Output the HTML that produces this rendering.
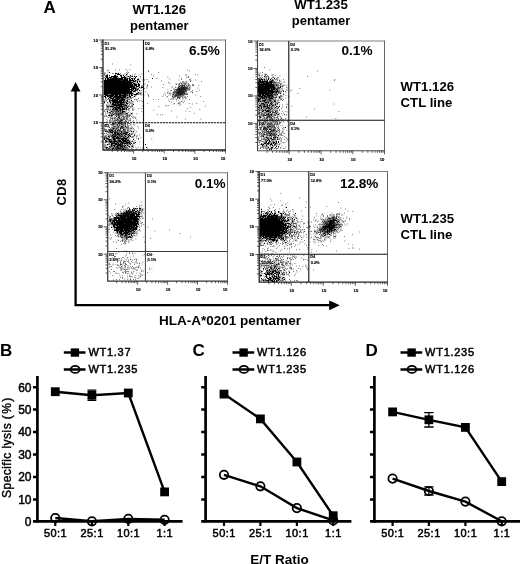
<!DOCTYPE html>
<html><head><meta charset="utf-8"><title>Figure</title>
<style>html,body{margin:0;padding:0;background:#fff;}body{width:520px;height:564px;overflow:hidden;font-family:"Liberation Sans", sans-serif;}svg{display:block;font-family:"Liberation Sans", sans-serif;will-change:transform;filter:grayscale(1);}text{fill:#000;}</style>
</head><body>
<svg width="520" height="564" viewBox="0 0 520 564">
<rect width="520" height="564" fill="#fff"/>
<text x="43.4" y="12.5" font-size="17" font-weight="bold" text-anchor="start" >A</text>
<text x="159.3" y="13.5" font-size="13.2" font-weight="bold" text-anchor="middle" >WT1.126</text>
<text x="159.3" y="29.5" font-size="13" font-weight="bold" text-anchor="middle" >pentamer</text>
<text x="321" y="8.6" font-size="13.2" font-weight="bold" text-anchor="middle" >WT1.235</text>
<text x="321" y="24.9" font-size="13" font-weight="bold" text-anchor="middle" >pentamer</text>
<text x="400.6" y="90.8" font-size="13.2" font-weight="bold" text-anchor="start" >WT1.126</text>
<text x="400.6" y="107" font-size="13.2" font-weight="bold" text-anchor="start" >CTL line</text>
<text x="400.6" y="223" font-size="13.2" font-weight="bold" text-anchor="start" >WT1.235</text>
<text x="400.6" y="239.2" font-size="13.2" font-weight="bold" text-anchor="start" >CTL line</text>
<text x="0" y="0" font-size="13" font-weight="bold" text-anchor="middle" transform="translate(66.3,192) rotate(-90)" letter-spacing="0.3">CD8</text>
<text x="230" y="324.6" font-size="13.5" font-weight="bold" text-anchor="middle" >HLA-A*0201 pentamer</text>
<path d="M75.6 90V305.2H331" stroke="#000" stroke-width="2.3" fill="none"/>
<path d="M75.6 82L80.5 91.6H70.7Z" fill="#000"/>
<path d="M339.8 305.3L329.2 300.4V310.2Z" fill="#000"/>
<path d="M103 40H225.5" stroke="#808080" stroke-width="1.1" fill="none"/>
<path d="M225.5 39.5V150" stroke="#666" stroke-width="1" fill="none"/>
<path d="M103 39.5V150H226.0" stroke="#222" stroke-width="1.3" fill="none"/>
<path d="M143.5 40V150" stroke="#111" stroke-width="1.1" fill="none"/>
<path d="M103 122.8H225.5" stroke="#111" stroke-width="1.1" fill="none" stroke-dasharray="2.3 0.7"/>
<path d="M100.8 141.7H103M100.8 136.9H103M100.8 133.4H103M100.8 130.8H103M100.8 128.6H103M100.8 126.8H103M100.8 125.2H103M100.8 123.8H103M100.8 114.2H103M100.8 109.4H103M100.8 105.9H103M100.8 103.3H103M100.8 101.1H103M100.8 99.3H103M100.8 97.7H103M100.8 96.3H103M100.8 86.7H103M100.8 81.9H103M100.8 78.4H103M100.8 75.8H103M100.8 73.6H103M100.8 71.8H103M100.8 70.2H103M100.8 68.8H103M100.8 59.2H103M100.8 54.4H103M100.8 50.9H103M100.8 48.3H103M100.8 46.1H103M100.8 44.3H103M100.8 42.7H103M100.8 41.3H103M99.0 122.5H103M99.0 95.0H103M99.0 67.5H103M99.0 40.0H103M112.2 150V152.0M117.6 150V152.0M121.4 150V152.0M124.4 150V152.0M126.8 150V152.0M128.9 150V152.0M130.7 150V152.0M132.2 150V152.0M133.6 150V153.5M142.8 150V152.0M148.2 150V152.0M152.1 150V152.0M155.0 150V152.0M157.5 150V152.0M159.5 150V152.0M161.3 150V152.0M162.8 150V152.0M164.2 150V153.5M173.5 150V152.0M178.9 150V152.0M182.7 150V152.0M185.7 150V152.0M188.1 150V152.0M190.1 150V152.0M191.9 150V152.0M193.5 150V152.0M194.9 150V153.5M204.1 150V152.0M209.5 150V152.0M213.3 150V152.0M216.3 150V152.0M218.7 150V152.0M220.8 150V152.0M222.5 150V152.0M224.1 150V152.0M225.5 150V153.5" stroke="#333" stroke-width="0.8" fill="none"/>
<text x="98" y="124.0" font-size="4.2" font-weight="bold" text-anchor="end" stroke="#000" stroke-width="0.15">10</text>
<text x="98" y="96.5" font-size="4.2" font-weight="bold" text-anchor="end" stroke="#000" stroke-width="0.15">10</text>
<text x="98" y="69.0" font-size="4.2" font-weight="bold" text-anchor="end" stroke="#000" stroke-width="0.15">10</text>
<text x="98" y="41.5" font-size="4.2" font-weight="bold" text-anchor="end" stroke="#000" stroke-width="0.15">10</text>
<text x="134.1" y="160" font-size="4.2" font-weight="bold" text-anchor="middle" stroke="#000" stroke-width="0.15">10</text>
<text x="164.8" y="160" font-size="4.2" font-weight="bold" text-anchor="middle" stroke="#000" stroke-width="0.15">10</text>
<text x="195.4" y="160" font-size="4.2" font-weight="bold" text-anchor="middle" stroke="#000" stroke-width="0.15">10</text>
<text x="223.0" y="160" font-size="4.2" font-weight="bold" text-anchor="middle" stroke="#000" stroke-width="0.15">10</text>
<path d="M107 88h1M125 84h1M106 86h1M121 91h1M107 81h1M123 88h1M129 91h1M116 85h1M138 85h1M111 81h1M118 87h1M114 86h1M119 89h1M126 87h1M105 89h1M105 86h1M111 87h1M143 86h1M124 80h1M115 89h1M116 88h1M118 82h1M122 83h1M132 84h1M122 86h1M125 86h1M127 89h1M118 83h1M130 85h1M121 89h1M119 87h1M118 84h1M109 85h1M122 93h1M125 91h1M123 89h1M118 90h1M131 85h1M111 95h1M119 91h1M124 81h1M136 94h1M126 89h1M117 92h1M111 90h1M126 85h1M104 82h1M129 82h1M117 89h1M116 76h1M123 96h1M125 82h1M114 87h1M137 89h1M118 93h1M116 94h1M112 84h1M123 93h1M122 88h1M122 85h1M123 87h1M120 90h1M113 85h1M106 93h1M129 86h1M113 81h1M134 87h1M111 76h1M128 87h1M104 87h1M104 102h1M116 77h1M116 79h1M122 77h1M110 92h1M130 81h1M105 90h1M124 82h1M111 83h1M107 83h1M133 86h1M116 82h1M116 81h1M129 90h1M114 81h1M117 87h1M113 93h1M118 89h1M127 83h1M111 92h1M120 91h1M123 77h1M123 83h1M111 84h1M123 90h1M125 79h1M112 76h1M116 89h1M110 83h1M111 94h1M126 86h1M119 85h1M112 94h1M121 87h1M115 87h1M120 83h1M109 82h1M124 76h1M115 84h1M112 87h1M116 84h1M116 90h1M106 91h1M120 85h1M129 83h1M105 79h1M110 90h1M127 81h1M125 85h1M114 84h1M114 78h1M109 81h1M121 95h1M139 85h1M105 85h1M109 95h1M124 89h1M115 86h1M118 85h1M119 84h1M110 93h1M120 88h1M104 86h1M120 86h1M119 92h1M114 93h1M111 82h1M123 82h1M114 90h1M127 78h1M127 85h1M112 85h1M108 85h1M116 86h1M105 91h1M108 84h1M134 84h1M116 91h1M124 78h1M110 87h1M121 92h1M121 85h1M117 85h1M114 83h1M110 91h1M127 91h1M124 90h1M111 89h1M112 86h1M120 92h1M121 84h1M116 78h1M123 84h1M110 95h1M123 102h1M117 88h1M121 82h1M107 90h1M122 87h1M110 77h1M121 86h1M118 88h1M130 75h1M135 90h1M113 91h1M109 86h1M112 78h1M128 81h1M113 78h1M109 83h1M116 96h1M117 79h1M120 82h1M112 79h1M112 90h1M124 87h1M110 82h1M119 97h1M113 83h1M128 86h1M113 79h1M119 86h1M107 82h1M117 91h1M114 88h1M117 96h1M106 82h1M135 89h1M122 90h1M122 91h1M115 85h1M106 85h1M113 89h1M124 92h1M136 86h1M133 91h1M109 88h1M123 86h1M115 81h1M132 85h1M114 85h1M113 86h1M106 89h1M110 84h1M119 81h1M137 86h1M116 83h1M130 92h1M119 80h1M117 83h1M117 99h1M131 82h1M120 87h1M127 90h1M106 84h1M119 90h1M117 78h1M121 81h1M112 88h1M106 75h1M112 91h1M117 76h1M110 88h1M130 91h1M109 84h1M120 93h1M115 80h1M109 92h1M134 81h1M124 84h1M119 83h1M133 83h1M117 90h1M112 89h1M120 81h1M122 81h1M122 84h1M127 87h1M107 85h1M128 85h1M125 92h1M113 84h1M120 94h1M129 85h1M107 87h1M126 80h1M125 78h1M113 87h1M116 73h1M111 98h1M126 90h1M125 88h1M106 81h1M116 95h1M105 83h1M113 100h1M107 92h1M114 89h1M106 76h1M116 92h1M132 86h1M125 80h1M108 87h1M121 83h1M119 82h1M120 84h1M125 93h1M105 88h1M109 91h1M123 81h1M125 87h1M142 87h1M115 90h1M108 90h1M127 84h1M119 88h1M111 80h1M119 78h1M116 87h1M124 93h1M125 83h1M127 86h1M106 83h1M108 95h1M132 95h1M128 93h1M111 85h1M138 79h1M128 92h1M113 95h1M118 92h1M136 85h1M109 90h1M117 86h1M111 86h1M110 85h1M109 87h1M108 82h1M118 79h1M104 88h1M110 89h1M114 77h1M116 80h1M129 88h1M135 80h1M109 79h1M104 90h1M119 93h1M129 81h1M134 88h1M114 91h1M137 81h1M112 96h1M136 76h1M123 95h1M111 77h1M110 80h1M128 83h1M115 92h1M136 93h1M108 88h1M117 94h1M124 95h1M104 89h1M120 79h1M118 91h1M120 89h1M143 89h1M124 83h1M105 92h1M114 82h1M104 93h1M124 85h1M118 86h1M131 91h1M111 93h1M115 83h1M115 93h1M124 86h1M108 78h1M107 77h1M124 88h1M123 92h1M123 91h1M126 88h1M116 93h1M130 84h1M115 94h1M105 87h1M107 94h1M112 93h1M113 80h1M117 81h1M118 81h1M125 94h1M115 82h1M114 80h1M124 79h1M122 89h1M104 81h1M112 83h1M139 81h1M122 78h1M115 91h1M123 85h1M121 88h1M122 95h1M114 97h1M134 76h1M123 80h1M109 80h1M105 84h1M135 94h1M105 80h1M107 86h1M113 82h1M113 88h1M108 83h1M115 73h1M134 96h1M131 83h1M126 81h1M118 94h1M104 83h1M115 88h1M127 80h1M104 80h1M138 92h1M113 90h1M124 91h1M117 80h1M111 88h1M131 92h1M108 91h1M133 80h1M112 81h1M139 84h1M109 72h1M122 99h1M117 84h1M108 81h1M115 79h1M133 87h1M128 91h1M110 86h1M131 78h1M110 97h1M107 80h1M131 93h1M108 79h1M131 89h1M137 93h1M120 80h1M130 89h1M128 88h1M107 75h1M117 82h1M112 82h1M110 96h1M129 93h1M109 77h1M121 90h1M131 90h1M107 89h1M132 80h1M129 84h1M107 78h1M108 92h1M126 84h1M132 93h1M137 82h1M134 83h1M129 78h1M118 78h1M123 75h1M131 87h1M119 95h1M135 84h1M107 95h1M127 82h1M106 88h1M122 82h1M124 96h1M106 87h1M108 89h1M111 91h1M125 89h1M113 94h1M135 85h1M111 79h1M114 79h1M118 96h1M109 93h1M106 80h1M128 89h1M118 74h1M121 78h1M105 82h1M128 84h1M108 86h1M133 88h1M105 78h1M118 80h1M108 98h1M120 95h1M105 93h1M114 76h1M110 81h1M119 94h1M105 95h1M127 88h1M117 93h1M126 82h1M130 79h1M121 79h1M107 84h1M129 95h1M129 80h1M105 96h1M129 87h1M113 92h1M121 77h1M112 80h1M135 77h1M130 82h1M107 96h1M122 80h1M131 88h1M105 81h1M134 94h1M106 77h1M112 92h1M132 76h1M121 75h1M107 76h1M114 94h1M131 86h1M126 92h1M128 82h1M111 96h1M126 91h1M132 78h1M110 79h1M108 80h1M104 96h1M105 94h1M127 92h1M141 87h1M119 96h1M119 79h1M124 77h1M115 77h1M128 90h1M131 80h1M109 89h1M138 84h1M130 96h1M136 84h1M115 78h1M129 89h1M106 90h1M110 78h1M126 74h1M125 90h1M105 97h1M112 95h1M122 79h1M131 95h1M137 79h1M117 95h1M132 90h1M104 85h1M138 86h1M117 74h1M129 96h1M133 81h1M133 89h1M113 76h1M127 79h1M104 94h1M130 80h1M106 95h1M128 76h1M107 79h1M132 79h1M114 92h1M125 96h1M139 87h1M108 96h1M104 84h1M119 98h1M113 97h1M130 87h1M134 78h1M114 75h1M121 93h1M108 93h1M118 97h1M104 92h1M106 92h1M132 88h1M134 91h1M152 78h1M122 92h1M120 75h1M117 97h1M134 85h1M115 96h1M130 83h1M129 92h1M135 88h1M106 94h1M132 82h1M109 75h1M125 77h1M107 93h1M124 94h1M130 86h1M118 99h1M122 97h1M121 76h1M118 73h1M131 94h1M115 76h1M134 79h1M126 94h1M120 78h1M107 91h1M129 94h1M121 97h1M119 74h1M126 83h1M110 98h1M129 79h1M115 75h1M138 83h1M126 93h1M139 90h1M104 91h1M126 79h1M130 93h1M131 84h1M113 77h1M121 100h1M120 102h1M124 99h1M118 98h1M113 108h1M121 104h1M119 105h1M118 103h1M114 100h1M127 93h1M110 106h1M114 105h1M118 111h1M118 107h1M117 102h1M118 102h1M124 111h1M118 101h1M119 108h1M121 102h1M111 115h1M125 105h1M120 109h1M126 103h1M119 101h1M127 100h1M116 108h1M122 104h1M118 104h1M121 103h1M120 103h1M120 97h1M126 108h1M120 105h1M126 105h1M112 104h1M109 101h1M111 100h1M120 113h1M113 114h1M117 105h1M123 101h1M123 99h1M118 114h1M120 101h1M123 111h1M113 103h1M117 109h1M109 100h1M115 97h1M119 107h1M120 96h1M116 99h1M127 95h1M116 105h1M116 106h1M117 100h1M120 106h1M121 105h1M113 104h1M114 96h1M114 104h1M112 101h1M121 107h1M110 102h1M116 116h1M115 102h1M116 102h1M133 104h1M122 102h1M107 111h1M112 103h1M127 107h1M116 109h1M116 97h1M122 100h1M126 109h1M112 109h1M114 102h1M111 106h1M124 108h1M112 99h1M117 98h1M123 97h1M117 104h1M119 102h1M120 104h1M114 99h1M116 98h1M115 104h1M131 113h1M117 101h1M124 97h1M122 98h1M115 108h1M116 101h1M122 107h1M117 107h1M125 95h1M112 98h1M126 102h1M115 103h1M121 98h1M123 108h1M115 101h1M119 104h1M114 101h1M119 106h1M112 106h1M118 108h1M120 100h1M113 98h1M123 109h1M113 106h1M122 106h1M116 100h1M112 100h1M124 100h1M115 95h1M127 103h1M107 106h1M121 101h1M127 97h1M122 112h1M122 108h1M121 99h1M131 100h1M114 107h1M122 109h1M117 103h1M123 104h1M109 115h1M109 97h1M115 105h1M122 111h1M115 100h1M115 99h1M124 109h1M126 113h1M115 109h1M113 101h1M113 102h1M111 111h1M119 100h1M118 105h1M121 106h1M120 110h1M120 108h1M116 138h1M122 149h1M128 140h1M129 133h1M119 148h1M116 143h1M125 138h1M125 126h1M117 142h1M113 134h1M116 141h1M118 140h1M104 138h1M122 142h1M124 146h1M133 139h1M145 144h1M118 133h1M118 147h1M131 143h1M113 145h1M111 132h1M130 136h1M129 135h1M120 133h1M125 149h1M118 138h1M110 131h1M127 137h1M111 145h1M110 142h1M106 141h1M118 144h1M111 141h1M146 147h1M105 131h1M126 138h1M111 144h1M128 134h1M112 135h1M131 131h1M115 132h1M120 144h1M126 134h1M112 148h1M120 141h1M104 139h1M120 143h1M117 146h1M126 139h1M123 148h1M133 131h1M124 149h1M125 134h1M120 140h1M119 140h1M109 139h1M120 145h1M126 141h1M121 136h1M109 146h1M121 141h1M120 128h1M117 133h1M123 140h1M111 143h1M127 140h1M107 144h1M127 143h1M134 135h1M111 142h1M118 145h1M122 140h1M113 136h1M123 142h1M114 146h1M114 145h1M129 141h1M128 142h1M118 148h1M121 132h1M117 137h1M125 136h1M117 145h1M114 139h1M125 143h1M122 139h1M110 141h1M127 132h1M118 143h1M123 149h1M113 137h1M124 135h1M113 148h1M126 133h1M119 145h1M127 145h1M112 137h1M125 141h1M113 143h1M121 134h1M114 141h1M124 141h1M113 128h1M112 132h1M117 134h1M120 148h1M120 146h1M115 133h1M108 136h1M126 132h1M117 147h1M106 147h1M123 139h1M105 140h1M114 133h1M124 133h1M115 136h1M113 138h1M117 130h1M112 143h1M118 134h1M121 126h1M125 145h1M115 143h1M121 146h1M115 122h1M119 141h1M123 141h1M116 137h1M115 144h1M125 140h1M113 139h1M110 139h1M125 139h1M123 129h1M135 142h1M109 140h1M124 143h1M115 135h1M109 141h1M115 140h1M122 145h1M114 142h1M124 140h1M127 142h1M119 138h1M114 140h1M114 136h1M119 134h1M123 138h1M112 149h1M129 143h1M121 142h1M129 146h1M106 138h1M116 144h1M124 138h1M118 137h1M116 149h1M107 147h1M121 122h1M129 142h1M117 136h1M130 144h1M114 132h1M122 138h1M132 146h1M119 144h1M122 147h1M114 138h1M121 139h1M126 142h1M122 143h1M128 136h1M107 138h1" stroke="#000" stroke-width="1" fill="none" shape-rendering="crispEdges" transform="translate(0,0.5)"/>
<path d="M125 82h.7M136 89h.7M124.5 91h.7M125 85.5h.7M123 83h.7M122 81.5h.7M104.5 84h.7M117.5 83.5h.7M116 84h.7M119.5 98.5h.7M125 93h.7M129.5 93h.7M123.5 93h.7M130.5 86.5h.7M116.5 87.5h.7M118.5 90.5h.7M114.5 85h.7M121.5 90.5h.7M118 78.5h.7M116.5 93h.7M117 95.5h.7M114 86h.7M127.5 95h.7M116 96.5h.7M121 90h.7M138 93h.7M117 87h.7M110 94.5h.7M123 99h.7M132 87.5h.7M113 85.5h.7M132 87h.7M131 95h.7M134.5 89h.7M126.5 80h.7M123 88h.7M129 77h.7M116 102h.7M121 84.5h.7M120.5 87h.7M116 91.5h.7M122 94.5h.7M145 92h.7M123 96.5h.7M105 99h.7M107.5 85h.7M120 79.5h.7M113 88.5h.7M123.5 79h.7M104 92h.7M106.5 90h.7M124 92.5h.7M113.5 84h.7M151 87h.7M109 79.5h.7M116.5 98h.7M126.5 82h.7M105 84h.7M119 89.5h.7M124.5 94.5h.7M105.5 78h.7M118.5 91.5h.7M113.5 89.5h.7M118.5 95h.7M117 85h.7M124.5 94h.7M112.5 87h.7M112 80.5h.7M144.5 84h.7M116 85.5h.7M110.5 87h.7M118.5 90h.7M113.5 79h.7M118 92h.7M132.5 87h.7M116.5 83h.7M134.5 84h.7M114 87.5h.7M117 88h.7M123.5 98h.7M124.5 90h.7M104 101.5h.7M124.5 93h.7M116 87h.7M115.5 86.5h.7M115 92.5h.7M130.5 87.5h.7M116 93h.7M117 91h.7M112.5 96.5h.7M114.5 91h.7M137 90h.7M116.5 92.5h.7M135 74h.7M115 87h.7M128 78.5h.7M127.5 88h.7M125 81.5h.7M132.5 104h.7M120.5 91.5h.7M108.5 70h.7M118.5 86.5h.7M126 88h.7M105.5 74h.7M130.5 93.5h.7M118 86h.7M126.5 84.5h.7M106 95.5h.7M105 85h.7M132.5 90.5h.7M130.5 97h.7M121.5 78.5h.7M104 74h.7M127 78.5h.7M118 88.5h.7M123 87.5h.7M132.5 90h.7M130.5 87h.7M119.5 88.5h.7M124.5 92.5h.7M114 91.5h.7M148 71h.7M126 87h.7M117 84h.7M107 89h.7M111.5 97.5h.7M122.5 98.5h.7M120.5 78.5h.7M123.5 89h.7M128 72.5h.7M120 97h.7M120 75h.7M123.5 90.5h.7M134 91h.7M109 95h.7M126.5 95h.7M117.5 94h.7M104.5 79h.7M125.5 98h.7M125 88.5h.7M117.5 85h.7M131 76.5h.7M122 97h.7M104.5 73.5h.7M109 87.5h.7M125 84h.7M127.5 84.5h.7M104 94h.7M119.5 83.5h.7M108 92h.7M109.5 79h.7M111 91.5h.7M125.5 95.5h.7M110 97h.7M136 90.5h.7M130.5 98h.7M123.5 82h.7M125 90h.7M126.5 104.5h.7M120 86h.7M132.5 88h.7M106 89.5h.7M130 77.5h.7M137.5 100h.7M107.5 89.5h.7M123.5 91.5h.7M122.5 92h.7M111 86h.7M140 93.5h.7M108.5 90h.7M139.5 101h.7M137.5 88.5h.7M127.5 89h.7M107.5 88h.7M115 79.5h.7M118 85.5h.7M108 88.5h.7M123.5 89.5h.7M122.5 88.5h.7M104.5 74.5h.7M113 85h.7M109.5 83h.7M115 98.5h.7M118.5 93h.7M126.5 89h.7M129.5 84h.7M117.5 80.5h.7M118 93.5h.7M110 87h.7M115 89.5h.7M106 88.5h.7M137 80.5h.7M128 83.5h.7M113.5 99h.7M126.5 91.5h.7M137 92h.7M118.5 73h.7M127 98.5h.7M114.5 80h.7M104.5 91.5h.7M105.5 90h.7M128 85h.7M108 86h.7M136 80.5h.7M111 91h.7M112.5 96h.7M111.5 80h.7M105.5 86.5h.7M131 88h.7M113 78h.7M122 83.5h.7M144 80h.7M105 79.5h.7M121 91.5h.7M121.5 95h.7M126.5 84h.7M137 82.5h.7M121.5 88h.7M131.5 87.5h.7M123 75h.7M118.5 88.5h.7M135.5 76.5h.7M106.5 93h.7M144 88.5h.7M115.5 82h.7M127.5 81.5h.7M112 86.5h.7M123.5 91h.7M115 94h.7M127 85.5h.7M121.5 98h.7M126 85.5h.7M115.5 93.5h.7M123.5 88.5h.7M111.5 86h.7M121 99h.7M105.5 88.5h.7M143.5 79.5h.7M132 94h.7M124 88h.7M119 91h.7M126 77.5h.7M105.5 87.5h.7M119 79h.7M129.5 91h.7M122.5 94.5h.7M113 95h.7M114 83h.7M109.5 92h.7M122 86.5h.7M129.5 82.5h.7M128 84.5h.7M117.5 86.5h.7M121.5 96.5h.7M113 94h.7M132.5 86.5h.7M112.5 80.5h.7M118.5 106h.7M117.5 88.5h.7M109.5 90.5h.7M122 94h.7M141.5 94h.7M105.5 85h.7M104.5 95h.7M120.5 78h.7M127.5 96h.7M138 86h.7M134.5 87.5h.7M131 81h.7M112 81h.7M117.5 79.5h.7M121 84h.7M104.5 89h.7M131.5 91h.7M123 86h.7M117.5 77.5h.7M140 77h.7M110 81h.7M111.5 84h.7M123 80h.7M107.5 90.5h.7M114 76h.7M125.5 78.5h.7M119 87.5h.7M122 89.5h.7M115 87.5h.7M104.5 89.5h.7M111.5 93h.7M118.5 91h.7M124 91.5h.7M115 70h.7M120.5 92h.7M132.5 86h.7M130.5 65h.7M114.5 83.5h.7M141 86h.7M146.5 88h.7M114.5 84h.7M110 88.5h.7M120.5 81h.7M138 94.5h.7M116 91h.7M117.5 84.5h.7M110 83.5h.7M138 98.5h.7M131 82h.7M127 78h.7M123.5 92.5h.7M128 97.5h.7M132 85h.7M104.5 72.5h.7M108 86.5h.7M113 105.5h.7M124 90.5h.7M120.5 86.5h.7M123 95h.7M120 93.5h.7M126.5 90h.7M132 93.5h.7M121.5 95.5h.7M132.5 89h.7M106.5 99h.7M122 92.5h.7M121.5 86h.7M107 88h.7M117.5 91h.7M113 91h.7M116.5 81h.7M108 82h.7M113 73.5h.7M104 84h.7M115 86.5h.7M125.5 81h.7M136 90h.7M108.5 91h.7M138 78.5h.7M120.5 80.5h.7M128.5 83.5h.7M115 80h.7M112 86h.7M117.5 92h.7M121.5 87.5h.7M125.5 79h.7M117 90.5h.7M111 78.5h.7M108.5 79.5h.7M117 86.5h.7M125 75.5h.7M124 93h.7M147.5 85.5h.7M127 76.5h.7M131 98h.7M135.5 81.5h.7M138.5 80.5h.7M124.5 89.5h.7M108.5 96.5h.7M124 82h.7M105 92.5h.7M134 87.5h.7M114.5 91.5h.7M124.5 95.5h.7M117.5 83h.7M118.5 79h.7M107.5 84h.7M117.5 88h.7M140.5 76.5h.7M115.5 84.5h.7M126 82.5h.7M143.5 84h.7M122 88.5h.7M134 90.5h.7M104.5 88h.7M112.5 95h.7M118 83h.7M143.5 86h.7M125 87.5h.7M107.5 83.5h.7M120.5 86h.7M116 86h.7M119 85h.7M104 88.5h.7M137.5 86.5h.7M121 82.5h.7M110.5 81.5h.7M105 88h.7M109.5 89.5h.7M120 78.5h.7M142.5 85.5h.7M120.5 84.5h.7M106.5 87.5h.7M124.5 74h.7M138.5 75h.7M111.5 95h.7M108.5 80h.7M127 84h.7M107.5 87.5h.7M131.5 87h.7M143 79.5h.7M137 89.5h.7M128.5 92.5h.7M105 83h.7M111.5 94h.7M114 89.5h.7M118 102.5h.7M126 76h.7M119.5 81h.7M110 86h.7M141 93h.7M128 90.5h.7M124.5 83h.7M121 87h.7M125.5 93h.7M106.5 79h.7M134.5 80.5h.7M132 105.5h.7M130.5 89.5h.7M128.5 106.5h.7M128.5 86.5h.7M136 87.5h.7M133 89.5h.7M121.5 92.5h.7M118.5 88h.7M122.5 89.5h.7M115.5 89h.7M126.5 85.5h.7M116.5 89h.7M121.5 83.5h.7M139 80h.7M105.5 89h.7M139.5 93.5h.7M119 83h.7M122.5 84.5h.7M110.5 88h.7M111.5 85.5h.7M122 81h.7M119 91.5h.7M104.5 93h.7M112.5 84.5h.7M133 84.5h.7M122.5 82h.7M104.5 83h.7M116.5 98.5h.7M114 94.5h.7M125.5 92.5h.7M121 86.5h.7M124 95h.7M110 79.5h.7M112.5 78h.7M114 85.5h.7M131.5 88h.7M132 89.5h.7M134.5 87h.7M112.5 100.5h.7M107 74.5h.7M127 80.5h.7M106.5 89h.7M110.5 98.5h.7M141 101h.7M113 93h.7M112 84h.7M116.5 86h.7M122.5 85.5h.7M133.5 78.5h.7M123 77.5h.7M124.5 95h.7M135 91.5h.7M120.5 83.5h.7M114.5 88.5h.7M111 79h.7M124 85h.7M126 84.5h.7M123.5 88h.7M136 93.5h.7M116.5 90.5h.7M128 87.5h.7M107 89.5h.7M115 86h.7M141 87.5h.7M130 82.5h.7M118.5 83h.7M122 95h.7M147 86h.7M120.5 96.5h.7M116.5 93.5h.7M112 108h.7M110.5 92h.7M136.5 94h.7M119.5 92h.7M128.5 89h.7M128.5 86h.7M110.5 96.5h.7M121 98h.7M139 85h.7M136.5 90.5h.7M123.5 76.5h.7M114.5 86h.7M113 80h.7M123 93h.7M141 86.5h.7M118 94h.7M107.5 86.5h.7M128.5 85h.7M135 78.5h.7M106 86h.7M120.5 87.5h.7M115.5 93h.7M131.5 98h.7M106 84h.7M106 86.5h.7M110 89.5h.7M134 86h.7M114.5 87.5h.7M117 86h.7M112 88.5h.7M113 90.5h.7M121 94h.7M125 91h.7M118 84.5h.7M112 91.5h.7M125.5 87.5h.7M130.5 84.5h.7M106 91h.7M124 89.5h.7M128.5 80.5h.7M110 99h.7M116 94h.7M123.5 75.5h.7M113.5 105h.7M121 92.5h.7M105.5 87h.7M107.5 85.5h.7M120.5 83h.7M125 84.5h.7M117.5 95h.7M126 86h.7M129.5 76h.7M109.5 88h.7M129 93h.7M125 82.5h.7M118.5 99.5h.7M126.5 94.5h.7M120.5 80h.7M115 95.5h.7M111 95.5h.7M124.5 76.5h.7M120 84.5h.7M117 97h.7M104.5 77.5h.7M115.5 88.5h.7M141.5 90.5h.7M128 90h.7M121.5 78h.7M124.5 103.5h.7M105.5 92h.7M122.5 87h.7M133 86h.7M113 86h.7M122 91.5h.7M113 81h.7M127 84.5h.7M142.5 87h.7M122.5 93h.7M107.5 88.5h.7M105.5 82.5h.7M128 95h.7M124 81.5h.7M118 92.5h.7M115 85.5h.7M113.5 86.5h.7M116.5 89.5h.7M123 83.5h.7M118 91h.7M107 93.5h.7M110 85.5h.7M120 83.5h.7M139 87h.7M119.5 88h.7M107 92h.7M136.5 88.5h.7M115 99.5h.7M121 91h.7M129.5 69.5h.7M120 88h.7M126 91.5h.7M136 85h.7M113 86.5h.7M125.5 89h.7M118 89h.7M147 85h.7M105 95h.7M127 86h.7M108 106h.7M104 87.5h.7M127.5 91h.7M115 84h.7M129.5 86.5h.7M117 76.5h.7M109 84h.7M119.5 84h.7M120.5 90.5h.7M112 87h.7M125.5 85.5h.7M118 90h.7M121 97.5h.7M104 100h.7M124 92h.7M109.5 87.5h.7M117.5 90.5h.7M104.5 101h.7M112 83.5h.7M113.5 91.5h.7M129 91.5h.7M127.5 84h.7M115.5 75h.7M118 91.5h.7M120.5 82.5h.7M118.5 87.5h.7M139 81.5h.7M115.5 92.5h.7M114 92.5h.7M105.5 98h.7M129 88h.7M110.5 96h.7M113.5 89h.7M125 85h.7M112 73.5h.7M127.5 97h.7M120.5 82h.7M124 86h.7M105 85.5h.7M106 85.5h.7M119.5 83h.7M108.5 78.5h.7M119 83.5h.7M117.5 87h.7M119.5 96h.7M114 95h.7M134.5 86.5h.7M106.5 85.5h.7M120.5 89h.7M122.5 84h.7M114 84.5h.7M111 97.5h.7M122 77.5h.7M109 96h.7M112.5 88h.7M120 90.5h.7M111 90.5h.7M123 90.5h.7M118 89.5h.7M118.5 84.5h.7M113.5 88h.7M107.5 72h.7M122.5 86h.7M120.5 76.5h.7M124.5 82h.7M110.5 90.5h.7M112 81.5h.7M116 81h.7M121.5 101.5h.7M129 89.5h.7M131.5 93h.7M124.5 91.5h.7M117.5 90h.7M122.5 87.5h.7M132 82h.7M131.5 84h.7M108 85.5h.7M125 95h.7M127 71h.7M131 83h.7M130 98h.7M119.5 81.5h.7M109 99.5h.7M115 88.5h.7M113.5 82h.7M134.5 96h.7M111 86.5h.7M113.5 93.5h.7M104.5 92.5h.7M140 81.5h.7M138 89.5h.7M121.5 77.5h.7M117 78.5h.7M125.5 101.5h.7M121 83h.7M112.5 86.5h.7M108.5 81.5h.7M126 93.5h.7M113.5 79.5h.7M120 89.5h.7M126 94h.7M132.5 97.5h.7M109.5 80h.7M118.5 80.5h.7M132.5 82.5h.7M136 83h.7M123 96h.7M110 92h.7M114.5 90.5h.7M104.5 82h.7M116 90h.7M108 81.5h.7M135.5 83.5h.7M105 79h.7M107.5 84.5h.7M121.5 93h.7M113.5 91h.7M129.5 92.5h.7M104.5 92h.7M115 73h.7M123.5 86h.7M106 75.5h.7M124 89h.7M125.5 88h.7M139.5 83h.7M135.5 95.5h.7M112 92.5h.7M105 76.5h.7M129 90h.7M115 76.5h.7M113 84h.7M126.5 88.5h.7M107 83h.7M106 94.5h.7M130.5 86h.7M111 81.5h.7M118.5 101h.7M129 90.5h.7M131 83.5h.7M113.5 90h.7M107 95h.7M113 79.5h.7M128.5 85.5h.7M116 96h.7M134 83.5h.7M131.5 78.5h.7M134 88.5h.7M119.5 97h.7M130 97.5h.7M105.5 84.5h.7M112.5 88.5h.7M136.5 84.5h.7M121 92h.7M133.5 90.5h.7M122 83h.7M123 94h.7M115.5 98h.7M119 92.5h.7M121 89h.7M111.5 79.5h.7M123.5 92h.7M121 86h.7M116.5 76h.7M117.5 73.5h.7M134.5 86h.7M113.5 87.5h.7M108 88h.7M114 81h.7M119.5 91.5h.7M119 79.5h.7M114 88.5h.7M115 103h.7M129 92h.7M137.5 94.5h.7M135.5 95h.7M115 93h.7M131 92.5h.7M133 91.5h.7M109.5 79.5h.7M140.5 93h.7M132.5 79.5h.7M127.5 85h.7M126.5 92.5h.7M132.5 83h.7M132.5 94h.7M123 81h.7M106.5 77h.7M114 92h.7M130 87.5h.7M121 93.5h.7M125 94h.7M108.5 95h.7M121.5 89h.7M134 82h.7M104 90.5h.7M141.5 95h.7M119.5 93.5h.7M127.5 73h.7M111 92.5h.7M125.5 81.5h.7M124.5 90.5h.7M139.5 92.5h.7M129 77.5h.7M110 90h.7M118.5 78h.7M146.5 87h.7M135 81.5h.7M131 93h.7M108 79h.7M127.5 94h.7M127.5 91.5h.7M112.5 92h.7M108.5 91.5h.7M129 92.5h.7M133.5 92h.7M131 89h.7M137.5 88h.7M135 84h.7M124.5 93.5h.7M115.5 90.5h.7M109.5 84h.7M128 93h.7M121 95.5h.7M112 96.5h.7M118.5 87h.7M110 96.5h.7M109.5 96.5h.7M134.5 76.5h.7M119 81h.7M114.5 88h.7M117 92h.7M124.5 77h.7M107 79.5h.7M105.5 91.5h.7M104.5 85.5h.7M109 102h.7M121 81h.7M120 95h.7M120 82.5h.7M104.5 81.5h.7M123.5 81h.7M110 78h.7M112 78h.7M124 97h.7M124.5 88.5h.7M104.5 75.5h.7M120 80.5h.7M129.5 96.5h.7M111.5 88h.7M116.5 80h.7M120.5 92.5h.7M119 95h.7M124 82.5h.7M109 83h.7M132.5 85h.7M121.5 91.5h.7M114 99.5h.7M134 91.5h.7M138.5 83.5h.7M120.5 91h.7M128 85.5h.7M117.5 89.5h.7M105.5 88h.7M130.5 94.5h.7M137.5 81.5h.7M112 82.5h.7M111.5 89h.7M122 90h.7M127 87h.7M120 90h.7M134.5 94.5h.7M113.5 92.5h.7M124.5 96.5h.7M128.5 102h.7M143 89.5h.7M109.5 91h.7M111.5 87.5h.7M130 83.5h.7M108.5 77.5h.7M125.5 91h.7M117.5 101h.7M121.5 93.5h.7M111.5 90.5h.7M116 80.5h.7M122 82h.7M129.5 77.5h.7M105.5 83.5h.7M122 100h.7M112.5 98.5h.7M126.5 83h.7M133.5 88h.7M111 85.5h.7M128.5 84h.7M111.5 86.5h.7M117.5 80h.7M134 99.5h.7M117 81h.7M123 81.5h.7M123.5 85h.7M128 92h.7M126 90h.7M138 89h.7M123 88.5h.7M108 82.5h.7M112.5 81.5h.7M108 89.5h.7M119 84.5h.7M106.5 92h.7M105 98h.7M124.5 101.5h.7M138 88.5h.7M126 90.5h.7M127.5 93h.7M122 80.5h.7M112 64h.7M121.5 83h.7M113 94.5h.7M119 70h.7M129.5 78.5h.7M106 81h.7M132 79.5h.7M122.5 91.5h.7M105 96.5h.7M111.5 98h.7M114.5 97h.7M141 74h.7M106.5 84h.7M129 98h.7M127 81.5h.7M133 83h.7M126 83h.7M106.5 88.5h.7M120.5 88h.7M111 84h.7M128.5 78.5h.7M120 96h.7M115 83.5h.7M115 88h.7M114 81.5h.7M122.5 97h.7M121 83.5h.7M133 88h.7M123.5 86.5h.7M123.5 79.5h.7M116.5 88.5h.7M148.5 81.5h.7M115.5 79.5h.7M120 84h.7M129.5 87h.7M140 94.5h.7M123 94.5h.7M116.5 77.5h.7M108.5 93h.7M114 80h.7M106 97.5h.7M135 85.5h.7M131.5 95.5h.7M127.5 98.5h.7M121.5 75h.7M127.5 88.5h.7M122 89h.7M115.5 87h.7M113 87.5h.7M126 98h.7M134 87h.7M114 85h.7M106 93.5h.7M129 96h.7M104 103h.7M107 95.5h.7M147 94h.7M119 98h.7M131.5 90h.7M106 83h.7M135 81h.7M119 87h.7M117 91.5h.7M104.5 90h.7M114 91h.7M119.5 89.5h.7M118 88h.7M134 75h.7M108.5 83.5h.7M110.5 84.5h.7M124 83h.7M126 93h.7M104.5 86.5h.7M125.5 69.5h.7M126 83.5h.7M126 96.5h.7M118.5 81h.7M125.5 79.5h.7M119.5 87h.7M130.5 76.5h.7M121 99.5h.7M117.5 99.5h.7M124.5 85.5h.7M128 97h.7M125.5 86.5h.7M138 94h.7M121 85h.7M104.5 80.5h.7M142 87h.7M132 75h.7M105.5 93.5h.7M131 78.5h.7M120 73.5h.7M118 87.5h.7M114.5 100h.7M131 86.5h.7M114 87h.7M113.5 96h.7M123 92.5h.7M119.5 90h.7M120 99.5h.7M115.5 96h.7M125 83h.7M110 98h.7M129 80h.7M106.5 100h.7M148 95h.7M118.5 85.5h.7M107 75h.7M119.5 100.5h.7M129 86h.7M115 85h.7M133.5 86.5h.7M115 91.5h.7M121.5 80.5h.7M111 93h.7M123 84h.7M119.5 89h.7M128.5 92h.7M111.5 89.5h.7M115.5 94.5h.7M120 104h.7M113 93.5h.7M131 85h.7M120 94.5h.7M127 85h.7M128.5 90.5h.7M120 81.5h.7M127 73.5h.7M109 76h.7M115.5 86h.7M115.5 83h.7M127 75h.7M104 89.5h.7M132 90h.7M106.5 75.5h.7M125.5 89.5h.7M120 79h.7M104 92.5h.7M125 90.5h.7M120 82h.7M123 79.5h.7M118.5 98.5h.7M135 82h.7M128.5 91.5h.7M129.5 90.5h.7M116.5 95h.7M130.5 80h.7M120 85.5h.7M115.5 74.5h.7M140 88h.7M117.5 89h.7M109.5 82h.7M137.5 84.5h.7M129 82.5h.7M129 79.5h.7M117 79h.7M117 80.5h.7M127 88.5h.7M114 93.5h.7M104 94.5h.7M135.5 87.5h.7M128 88h.7M111.5 95.5h.7M110.5 84h.7M113.5 93h.7M109 97h.7M130.5 83.5h.7M111 76.5h.7M136.5 89.5h.7M123.5 85.5h.7M106 91.5h.7M105.5 79.5h.7M130.5 91h.7M109 89h.7M130.5 94h.7M113 100h.7M125.5 97h.7M130.5 77h.7M104 86.5h.7M111 93.5h.7M135 96h.7M129 104.5h.7M125 89.5h.7M109.5 81h.7M112.5 83h.7M107 70.5h.7M126 96h.7M131 90h.7M104.5 87h.7M119.5 82h.7M124.5 78h.7M119 92h.7M128 82h.7M107 86h.7M119 86h.7M115.5 80h.7M126.5 86h.7M112.5 84h.7M122.5 90h.7M112.5 93h.7M126.5 73h.7M114.5 86.5h.7M117.5 96.5h.7M124 94.5h.7M122.5 96.5h.7M112 87.5h.7M119.5 82.5h.7M115 96h.7M123.5 90h.7M125 80h.7M116 95.5h.7M129 87h.7M121 88.5h.7M105 92h.7M134 84h.7M121.5 94h.7M119.5 86h.7M105.5 80h.7M133 94h.7M105 76h.7M121.5 81.5h.7M131 85.5h.7M113 88h.7M148.5 96.5h.7M120 86.5h.7M104.5 90.5h.7M140.5 91h.7M123 87h.7M107 102.5h.7M115.5 97.5h.7M109.5 88.5h.7M118 86.5h.7M146.5 79.5h.7M126 78.5h.7M109 93.5h.7M127 94h.7M114.5 93h.7M114 79.5h.7M107 90.5h.7M117.5 81h.7M105.5 101h.7M137 91h.7M116 88h.7M106.5 93.5h.7M121 97h.7M135.5 88h.7M122 93.5h.7M124 87h.7M143.5 95h.7M124 80h.7M107 78.5h.7M125.5 92h.7M130.5 93h.7M138 86.5h.7M138.5 86.5h.7M108.5 94.5h.7M127 95.5h.7M108.5 92.5h.7M125.5 86h.7M123.5 95h.7M119 88h.7M108 87.5h.7M111.5 81.5h.7M122.5 89h.7M133.5 77h.7M135.5 84.5h.7M109.5 82.5h.7M110 86.5h.7M127 82.5h.7M119 96.5h.7M115.5 80.5h.7M117.5 82.5h.7M121.5 109.5h.7M122.5 92.5h.7M106 105.5h.7M122.5 109.5h.7M117 101h.7M112.5 108h.7M120.5 111h.7M118 115.5h.7M114.5 114.5h.7M114 117h.7M124.5 97h.7M129.5 114h.7M119.5 108h.7M112 104.5h.7M125 108h.7M125.5 113.5h.7M122 97.5h.7M113 102h.7M119 116.5h.7M132 106.5h.7M124.5 108h.7M113.5 113h.7M118.5 110.5h.7M107.5 102.5h.7M118.5 112.5h.7M127.5 116.5h.7M124.5 99.5h.7M111.5 98.5h.7M118.5 99h.7M114 113.5h.7M112 95h.7M119 110.5h.7M115.5 97h.7M133.5 101.5h.7M135 99h.7M128.5 110h.7M120.5 100.5h.7M128.5 117h.7M119.5 107.5h.7M115 111h.7M117 110h.7M107.5 109.5h.7M125 107h.7M128.5 99h.7M126 107h.7M119.5 109.5h.7M119.5 105h.7M124 106h.7M116.5 108h.7M124.5 100h.7M120.5 105h.7M115.5 106h.7M131 102h.7M122.5 110.5h.7M126.5 103h.7M112 112h.7M107 108h.7M125 111h.7M119.5 104h.7M116 113h.7M109.5 95.5h.7M116 104h.7M122 103.5h.7M119.5 101h.7M125.5 112.5h.7M109 114.5h.7M121 106.5h.7M124 109.5h.7M120.5 109.5h.7M108.5 109h.7M120 96.5h.7M116 110.5h.7M116.5 97.5h.7M120 115.5h.7M131.5 105.5h.7M123 110h.7M115.5 111.5h.7M115.5 107h.7M120.5 106.5h.7M121 109.5h.7M115.5 107.5h.7M123.5 114h.7M114 102h.7M121.5 121.5h.7M115.5 103h.7M116.5 105h.7M114 121.5h.7M113 111.5h.7M104 111h.7M121.5 104.5h.7M120.5 99h.7M113 99h.7M130.5 103.5h.7M109 113h.7M116.5 97h.7M123 90h.7M111.5 121h.7M116 109.5h.7M120 115h.7M124 117h.7M134 122.5h.7M123 100.5h.7M124 100h.7M108.5 93.5h.7M119 105h.7M115.5 115h.7M118 99.5h.7M119 105.5h.7M122.5 105h.7M124.5 102h.7M118 110.5h.7M114.5 107.5h.7M120 114h.7M104.5 116h.7M117 106h.7M127.5 110h.7M110.5 103h.7M123.5 103h.7M121 113h.7M130.5 100h.7M109.5 99.5h.7M116 114h.7M120.5 116h.7M121.5 100h.7M123.5 97h.7M116.5 113h.7M117.5 98h.7M127.5 103h.7M125 105h.7M108 104h.7M121 104.5h.7M114.5 111h.7M113 108.5h.7M122 120.5h.7M132 109.5h.7M122.5 112h.7M118.5 108h.7M121 107h.7M123 105.5h.7M115.5 109h.7M113.5 112h.7M128.5 103.5h.7M114.5 109h.7M117.5 93h.7M132 101.5h.7M130 113h.7M123 109h.7M117 111h.7M114 106h.7M106 101h.7M120.5 110h.7M129 101.5h.7M104.5 110h.7M120 105.5h.7M123 119h.7M120.5 98h.7M123.5 100h.7M119 94h.7M116.5 109.5h.7M105.5 116h.7M131 104h.7M118.5 103.5h.7M110 104h.7M112.5 98h.7M106 115.5h.7M112.5 113h.7M119 106h.7M122 109h.7M117 105h.7M125 98.5h.7M109 88h.7M116.5 113.5h.7M131 100.5h.7M120 98.5h.7M124 112h.7M121.5 106h.7M124 104h.7M126.5 117.5h.7M124 119.5h.7M115 109.5h.7M120.5 99.5h.7M121 104h.7M121.5 106.5h.7M123 103h.7M119 113h.7M126.5 107h.7M108.5 113h.7M107 92.5h.7M109.5 120.5h.7M123 118h.7M125 116.5h.7M120.5 101h.7M112.5 112.5h.7M113 101h.7M122.5 100.5h.7M123.5 104h.7M115.5 113h.7M119.5 103h.7M112 105.5h.7M117 103.5h.7M113.5 107h.7M106 109h.7M125 124h.7M111 113.5h.7M121.5 104h.7M121 107.5h.7M111.5 111h.7M116.5 106h.7M119.5 106.5h.7M114.5 100.5h.7M113 103h.7M123 98h.7M120.5 120h.7M110.5 106h.7M120.5 103.5h.7M118 107.5h.7M112 115.5h.7M130.5 103h.7M121 101h.7M126 109h.7M120 104.5h.7M113 107.5h.7M128 106.5h.7M121.5 99h.7M129.5 108.5h.7M114 102.5h.7M125 92.5h.7M121 116h.7M120 108.5h.7M116 97h.7M129 93.5h.7M121 96h.7M122 110.5h.7M125.5 105.5h.7M119 103h.7M117.5 124.5h.7M112 106.5h.7M133.5 94.5h.7M127 107h.7M110 113h.7M117 93h.7M121.5 97h.7M117.5 108h.7M110 112h.7M123.5 106.5h.7M124 104.5h.7M127.5 102h.7M120 111h.7M117 115h.7M121.5 97.5h.7M126 100h.7M112.5 99.5h.7M120.5 106h.7M124 98.5h.7M116 108.5h.7M121.5 112h.7M110 107h.7M117 107.5h.7M108.5 97h.7M120.5 123.5h.7M111.5 102.5h.7M124.5 96h.7M117.5 105h.7M124 99.5h.7M126.5 107.5h.7M120 103.5h.7M123 105h.7M123.5 111.5h.7M113.5 106h.7M114.5 89.5h.7M124.5 106h.7M119 115.5h.7M112 115h.7M115.5 108h.7M110 114h.7M116 107h.7M117.5 104.5h.7M123.5 119h.7M113 100.5h.7M121 102.5h.7M118 111.5h.7M118.5 96.5h.7M108 115.5h.7M114.5 115h.7M111.5 106h.7M115.5 110.5h.7M114 100h.7M116 101h.7M117.5 109h.7M116 97.5h.7M112.5 99h.7M122.5 102h.7M121 100.5h.7M110 100.5h.7M123.5 106h.7M115 107.5h.7M116 92.5h.7M120.5 95h.7M108 93.5h.7M117 113.5h.7M120.5 102.5h.7M109.5 109.5h.7M117.5 104h.7M110.5 116h.7M113.5 108h.7M118.5 119h.7M128 109h.7M117 114.5h.7M119 100h.7M126.5 118.5h.7M113.5 110h.7M109.5 110.5h.7M121 114.5h.7M115 112.5h.7M122 101h.7M127.5 117h.7M131.5 106.5h.7M110.5 120h.7M124.5 100.5h.7M117 104h.7M127 104.5h.7M120.5 102h.7M121.5 110.5h.7M119 102h.7M114.5 111.5h.7M113 97.5h.7M121.5 113h.7M132 121.5h.7M111.5 104h.7M110 117h.7M116.5 107h.7M125 102.5h.7M118.5 103h.7M114 119h.7M109 115.5h.7M122.5 114h.7M112 104h.7M131 94.5h.7M117 112.5h.7M120.5 104.5h.7M116.5 116.5h.7M119 107h.7M121.5 114.5h.7M119 109h.7M130 102h.7M114.5 112h.7M117 96.5h.7M123.5 109.5h.7M115 94.5h.7M124.5 106.5h.7M118 100h.7M112 117h.7M122.5 108h.7M119.5 91h.7M122 111h.7M112.5 109.5h.7M117.5 107h.7M112.5 112h.7M119 104.5h.7M120.5 97h.7M121.5 119.5h.7M116 104.5h.7M122.5 106h.7M104.5 125.5h.7M123 104h.7M119 113.5h.7M122 118h.7M110 106.5h.7M121 109h.7M124.5 107h.7M119.5 118h.7M125.5 109.5h.7M113.5 100h.7M108 98.5h.7M118.5 102h.7M117 100h.7M116 120h.7M119.5 96.5h.7M129.5 98h.7M114 104h.7M125 123.5h.7M122.5 109h.7M116.5 104h.7M127 99.5h.7M122.5 97.5h.7M118 104h.7M124 90h.7M109.5 105.5h.7M119.5 112h.7M110.5 113.5h.7M127 100.5h.7M118 107h.7M118.5 108.5h.7M119.5 118.5h.7M121.5 103h.7M113 109.5h.7M125 99h.7M123.5 112h.7M118.5 113.5h.7M115 115h.7M125 104.5h.7M121.5 110h.7M110.5 101h.7M110 115.5h.7M119 109.5h.7M109.5 106h.7M112 113.5h.7M112.5 114h.7M115.5 99h.7M125.5 102h.7M129 102.5h.7M113.5 103.5h.7M133 120.5h.7M122.5 94h.7M128 121h.7M110 103.5h.7M121 123.5h.7M105.5 114h.7M111.5 101h.7M110.5 110h.7M130.5 107.5h.7M111.5 108h.7M108.5 98.5h.7M121.5 124.5h.7M118.5 109.5h.7M112 99.5h.7M129.5 119h.7M121 100h.7M115 97.5h.7M124 114h.7M127.5 101.5h.7M126 101h.7M119 101h.7M121.5 107h.7M121.5 113.5h.7M106.5 116.5h.7M112 99h.7M121.5 91h.7M129 116h.7M108.5 107h.7M119.5 113h.7M104 116h.7M127.5 100.5h.7M111.5 94.5h.7M117.5 106h.7M114.5 110h.7M112 119h.7M124 107h.7M112.5 115h.7M119.5 101.5h.7M119 99h.7M114.5 96h.7M127 92.5h.7M116.5 120.5h.7M114 109h.7M112 120.5h.7M126.5 118h.7M125.5 107.5h.7M121 103h.7M125 120h.7M107 109.5h.7M109.5 100h.7M108 117.5h.7M133.5 108h.7M107.5 93.5h.7M115.5 122h.7M114.5 95h.7M106.5 108h.7M126 116.5h.7M108 107.5h.7M121.5 101h.7M129 111h.7M126.5 106h.7M112.5 90.5h.7M124 96h.7M130.5 107h.7M111 105h.7M119 84h.7M127 115.5h.7M119.5 108.5h.7M128 108.5h.7M109.5 107h.7M111 98h.7M118.5 104.5h.7M117 107h.7M117 102.5h.7M121 106h.7M109.5 111h.7M123 113h.7M126 106h.7M114.5 99h.7M114.5 101.5h.7M123 101h.7M130 120.5h.7M124.5 103h.7M127 101h.7M124.5 108.5h.7M130 106.5h.7M108 109h.7M132.5 108.5h.7M123.5 99h.7M122.5 104.5h.7M105 113h.7M125.5 95h.7M118 108.5h.7M113.5 101h.7M115.5 100h.7M123 106.5h.7M115 108h.7M112 107h.7M119.5 105.5h.7M110.5 108h.7M122 108.5h.7M115.5 113.5h.7M129.5 115.5h.7M120 119.5h.7M114 90.5h.7M113 99.5h.7M114.5 104h.7M112.5 102.5h.7M109.5 101h.7M116.5 133h.7M120 100h.7M116.5 99.5h.7M123 123.5h.7M119.5 127.5h.7M115.5 101.5h.7M104.5 96.5h.7M116.5 111.5h.7M112.5 95.5h.7M107 105.5h.7M120.5 101.5h.7M129 108.5h.7M115.5 100.5h.7M111.5 111.5h.7M126 98.5h.7M115.5 103.5h.7M109.5 94.5h.7M121.5 99.5h.7M122 108h.7M127 101.5h.7M118.5 116h.7M115.5 95.5h.7M122.5 102.5h.7M109 116h.7M118 98.5h.7M119 93.5h.7M125 96.5h.7M118.5 125.5h.7M110.5 118h.7M120 107h.7M109.5 101.5h.7M117.5 101.5h.7M112 123h.7M120.5 112h.7M111 115.5h.7M115.5 102h.7M122.5 96h.7M132.5 92h.7M126.5 115.5h.7M123 108h.7M113 110h.7M120.5 103h.7M104.5 111.5h.7M114.5 104.5h.7M125 97h.7M116 101.5h.7M122.5 100h.7M127 115h.7M124 121.5h.7M123 102h.7M122 103h.7M110 112.5h.7M110 101.5h.7M125.5 115h.7M119.5 107h.7M115 102h.7M127 86.5h.7M117.5 92.5h.7M121.5 108h.7M108.5 115h.7M116.5 103.5h.7M108.5 92h.7M132.5 103h.7M132 117.5h.7M128.5 105.5h.7M115 122.5h.7M112 102.5h.7M106.5 106.5h.7M126.5 90.5h.7M114 109.5h.7M124.5 118.5h.7M124 102h.7M127 113.5h.7M113 102.5h.7M119.5 95h.7M123 117h.7M116 116.5h.7M110 109.5h.7M125 117h.7M113.5 96.5h.7M116 111.5h.7M117.5 119.5h.7M116 107.5h.7M117 104.5h.7M132.5 110.5h.7M116.5 112h.7M123.5 108.5h.7M125 87h.7M119 114.5h.7M122.5 115h.7M128 99.5h.7M118 99h.7M126 100.5h.7M115 101.5h.7M115.5 99.5h.7M129.5 95.5h.7M125.5 97.5h.7M121 120.5h.7M115 126h.7M122 102h.7M122 90.5h.7M111 115h.7M119 99.5h.7M125 121h.7M116 99h.7M127.5 95.5h.7M126.5 114h.7M112.5 118.5h.7M115 107h.7M115.5 105h.7M125 105.5h.7M116 89h.7M124 105h.7M110.5 99.5h.7M121 117.5h.7M111 125h.7M126 122h.7M124.5 105.5h.7M116 95h.7M116 102.5h.7M115.5 82.5h.7M128 112.5h.7M111 94h.7M116 100.5h.7M115 108.5h.7M117.5 111h.7M118.5 93.5h.7M114.5 105h.7M116.5 87h.7M126.5 115h.7M118.5 105.5h.7M119.5 111.5h.7M125 112h.7M118 113.5h.7M107 113h.7M121.5 133.5h.7M114 135.5h.7M117.5 123h.7M118.5 120h.7M114.5 133h.7M112 124.5h.7M114 123.5h.7M109.5 120h.7M109 127.5h.7M113.5 141h.7M123.5 117h.7M123.5 128h.7M111.5 107h.7M114.5 110.5h.7M114 118h.7M130.5 119h.7M112.5 115.5h.7M112.5 137h.7M113.5 97.5h.7M114 130.5h.7M112 124h.7M127 134h.7M111.5 133h.7M119 120.5h.7M131 116.5h.7M123 120h.7M121.5 127.5h.7M129 115h.7M126.5 119h.7M111 127.5h.7M126 143.5h.7M128.5 127h.7M114 143.5h.7M120.5 120.5h.7M112 130.5h.7M130 130.5h.7M113.5 127h.7M116.5 129.5h.7M129.5 106h.7M120.5 121h.7M113 140h.7M117 120h.7M125.5 133h.7M117 132.5h.7M115 113h.7M113 118h.7M110 118h.7M116 134.5h.7M112.5 122.5h.7M116 115h.7M112 123.5h.7M122.5 124.5h.7M110.5 136.5h.7M119 123.5h.7M110 120h.7M130 128h.7M118.5 147h.7M126 121.5h.7M113.5 114h.7M118 117.5h.7M122.5 115.5h.7M109 137.5h.7M113 127h.7M122.5 126.5h.7M126 132h.7M119 124.5h.7M127 124.5h.7M124.5 133h.7M115 130.5h.7M136.5 114h.7M124.5 102.5h.7M117.5 120h.7M122 126.5h.7M111 111.5h.7M118.5 117.5h.7M117.5 126h.7M119 140.5h.7M121 128.5h.7M114 140h.7M125.5 126.5h.7M118 129.5h.7M125.5 135.5h.7M115 134.5h.7M119 117h.7M117 133.5h.7M130 121h.7M116 126h.7M116.5 110.5h.7M117 125.5h.7M117.5 133h.7M112.5 110.5h.7M112 133h.7M120.5 107h.7M120.5 130.5h.7M123 116.5h.7M118 123.5h.7M122 116.5h.7M118.5 121h.7M118 116h.7M121 135h.7M127 123.5h.7M121 125h.7M108.5 140.5h.7M134.5 117h.7M124.5 128h.7M127 113h.7M120 147.5h.7M132.5 113h.7M119.5 121.5h.7M131 134h.7M114.5 130.5h.7M106.5 141.5h.7M123 134.5h.7M107.5 131h.7M114 108h.7M114.5 128h.7M119 148h.7M126 141h.7M123 127.5h.7M119.5 148.5h.7M122 124.5h.7M119.5 110.5h.7M114.5 123.5h.7M116.5 128.5h.7M127.5 129h.7M121.5 121h.7M110.5 128.5h.7M119 117.5h.7M122.5 124h.7M124 108h.7M118.5 140h.7M117 127.5h.7M117.5 129h.7M113 109h.7M124.5 130h.7M125 114.5h.7M120.5 123h.7M106.5 109.5h.7M122 143h.7M116 143h.7M112.5 131.5h.7M117 112h.7M124 117.5h.7M122 134.5h.7M115 117.5h.7M118.5 124h.7M129.5 132h.7M115 126.5h.7M124.5 131h.7M125 131h.7M115.5 141.5h.7M128 115.5h.7M124.5 133.5h.7M122 133h.7M117.5 122.5h.7M138 147h.7M111 148h.7M123.5 126h.7M124.5 140h.7M120 130h.7M127.5 115h.7M110.5 130.5h.7M128.5 121h.7M121.5 120h.7M132 107h.7M121 148h.7M106.5 94h.7M122.5 123.5h.7M119 121.5h.7M116.5 126h.7M115.5 120.5h.7M123 132.5h.7M125 137.5h.7M121 145.5h.7M122 127.5h.7M106.5 137h.7M121.5 123.5h.7M109.5 121.5h.7M113 123.5h.7M120.5 124h.7M118 123h.7M131.5 114.5h.7M117 137.5h.7M113 124h.7M112 141h.7M121 133h.7M118.5 136.5h.7M111.5 131h.7M106 138.5h.7M115.5 120h.7M122.5 119.5h.7M116.5 136h.7M115 119h.7M122.5 121.5h.7M110 122.5h.7M129 117h.7M110 134.5h.7M116 118.5h.7M131.5 126.5h.7M116.5 148h.7M116 124h.7M119 131h.7M119 136.5h.7M125 126h.7M115 136h.7M115 118h.7M117.5 127h.7M120.5 137.5h.7M111 122h.7M120 131.5h.7M116.5 111h.7M111.5 135.5h.7M123 133.5h.7M124.5 125.5h.7M116 113.5h.7M119.5 122h.7M112 118h.7M111 130.5h.7M119.5 140h.7M119.5 122.5h.7M123.5 128.5h.7M106.5 124.5h.7M112.5 137.5h.7M129.5 120.5h.7M122.5 134h.7M121 146h.7M118 119h.7M125.5 106h.7M111 118.5h.7M116 120.5h.7M117 144.5h.7M116.5 132.5h.7M113 142h.7M118 127.5h.7M124.5 115h.7M121 143h.7M118.5 123.5h.7M128.5 129h.7M127.5 114.5h.7M118 130.5h.7M122.5 135.5h.7M124.5 121.5h.7M117 121.5h.7M123.5 134h.7M114.5 130h.7M117 118.5h.7M119.5 135.5h.7M130 147h.7M114 120.5h.7M119 125.5h.7M114.5 141h.7M117 137h.7M117 119h.7M111.5 129.5h.7M120.5 93h.7M115.5 141h.7M124.5 132h.7M113.5 128.5h.7M114 124h.7M123.5 138h.7M109 137h.7M130 115.5h.7M119 135.5h.7M118.5 135h.7M119.5 133h.7M136.5 138.5h.7M118 117h.7M121.5 114h.7M120 120.5h.7M125.5 127.5h.7M118 115h.7M118 120.5h.7M117.5 109.5h.7M123 126h.7M129 136h.7M111 116.5h.7M122 128.5h.7M120 123.5h.7M122.5 138.5h.7M111.5 124.5h.7M112 110h.7M113.5 135h.7M127.5 142h.7M120.5 122h.7M118.5 130h.7M114 120h.7M119.5 126h.7M122 138.5h.7M123.5 132h.7M114.5 135.5h.7M106 104.5h.7M126 134h.7M119.5 123h.7M127.5 119.5h.7M123 122.5h.7M123.5 139h.7M123.5 137h.7M117.5 131h.7M123 146.5h.7M120.5 129h.7M115.5 129.5h.7M109.5 122h.7M127 118h.7M114.5 128.5h.7M113 121h.7M126 111h.7M107.5 107h.7M123 119.5h.7M127.5 107h.7M132.5 133h.7M106.5 111h.7M122.5 112.5h.7M117.5 117.5h.7M111.5 138.5h.7M118 134.5h.7M121 121h.7M114 143h.7M126.5 120h.7M119.5 119h.7M112.5 111h.7M118.5 117h.7M118 143.5h.7M121 118h.7M121.5 111.5h.7M128 143.5h.7M124.5 113h.7M108.5 115.5h.7M111.5 115.5h.7M132 114h.7M117.5 107.5h.7M127.5 135h.7M118 128h.7M105.5 125h.7M122 114h.7M126 119h.7M123 111.5h.7M121 131.5h.7M119.5 132.5h.7M127.5 140.5h.7M121.5 105.5h.7M127.5 133h.7M111.5 110h.7M120 113.5h.7M108.5 106.5h.7M127 129h.7M112 122.5h.7M115.5 115.5h.7M125.5 139h.7M125.5 120.5h.7M126.5 109h.7M107.5 117h.7M116 134h.7M112.5 126h.7M113.5 123.5h.7M124 137h.7M107.5 139h.7M121 134.5h.7M113.5 135.5h.7M130 119h.7M109 135h.7M124.5 123.5h.7M112 145h.7M115 141h.7M121 138.5h.7M124 132h.7M117.5 121.5h.7M115 121h.7M110.5 131.5h.7M125.5 126h.7M107 121h.7M128 110h.7M115.5 124.5h.7M118.5 129.5h.7M125 130h.7M117 108h.7M119.5 117.5h.7M120 127h.7M114 125h.7M118.5 106.5h.7M107 124.5h.7M126.5 113.5h.7M117 109h.7M128 128h.7M120 125h.7M119.5 134h.7M120 108h.7M122 148.5h.7M126.5 127h.7M117.5 124h.7M116 127.5h.7M115 132h.7M119 137h.7M115.5 140.5h.7M118 126.5h.7M113.5 132h.7M116.5 138.5h.7M118 113h.7M107.5 112.5h.7M123.5 125h.7M125 133.5h.7M122.5 111.5h.7M119.5 114h.7M127.5 119h.7M121 120h.7M121 141.5h.7M121 142h.7M112 127.5h.7M112 144h.7M120 129.5h.7M133.5 116.5h.7M115.5 130h.7M110.5 129h.7M112 130h.7M115 130h.7M112.5 131h.7M114 136h.7M124 142h.7M120 112.5h.7M119 130.5h.7M123 116h.7M116.5 124h.7M127.5 125h.7M116 114.5h.7M122 127h.7M115.5 128.5h.7M130.5 125h.7M110.5 131h.7M128.5 123.5h.7M115 131h.7M117.5 135h.7M116.5 134h.7M120 119h.7M121.5 119h.7M127 126.5h.7M118.5 132.5h.7M118.5 136h.7M114.5 127h.7M117.5 137.5h.7M124.5 134h.7M105 145h.7M111.5 118h.7M120 134.5h.7M117.5 142.5h.7M113 121.5h.7M122 107.5h.7M116 128.5h.7M117 131.5h.7M126.5 128.5h.7M111.5 129h.7M133 118h.7M115 131.5h.7M120 140h.7M120.5 138h.7M119 116h.7M125 125h.7M126 135h.7M121.5 127h.7M117 98h.7M117 115.5h.7M123.5 113.5h.7M124.5 129h.7M127.5 131.5h.7M120.5 127.5h.7M117 119.5h.7M126.5 140h.7M123.5 109h.7M110 141h.7M120.5 147h.7M109 144h.7M113.5 122h.7M126.5 138.5h.7M119 122.5h.7M127 144h.7M112 105h.7M118.5 131.5h.7M114.5 132.5h.7M113 137h.7M107 103h.7M119 130h.7M123.5 142h.7M119 124h.7M121.5 141h.7M117.5 141h.7M125.5 90h.7M122.5 145h.7M119.5 139.5h.7M119.5 130.5h.7M110.5 112.5h.7M113.5 138h.7M125.5 129h.7M116 132h.7M113 106h.7M111 114.5h.7M116.5 148.5h.7M119 118.5h.7M126 127.5h.7M118.5 142h.7M125.5 109h.7M130.5 128.5h.7M121.5 136.5h.7M113.5 137h.7M123 130h.7M109 105h.7M113 125h.7M107.5 110.5h.7M120 111.5h.7M119 126h.7M108.5 132.5h.7M125 122.5h.7M120.5 127h.7M118.5 115h.7M112.5 133h.7M126.5 121h.7M117.5 126.5h.7M123.5 127.5h.7M126.5 139h.7M113.5 126.5h.7M124.5 123h.7M119 145h.7M121 112.5h.7M116 116h.7M120.5 121.5h.7M123 125h.7M118.5 123h.7M129 123.5h.7M122 120h.7M121.5 131.5h.7M113.5 138.5h.7M115 148.5h.7M138.5 138.5h.7M120.5 134h.7M117.5 134.5h.7M117 134.5h.7M124.5 131.5h.7M129.5 140h.7M108.5 129.5h.7M112 128.5h.7M118 148h.7M117 144h.7M119.5 138h.7M133 142.5h.7M108 139.5h.7M108 138h.7M119.5 148h.7M120 142h.7M112.5 138h.7M127.5 149h.7M122 134h.7M125.5 134.5h.7M104.5 147.5h.7M121 139.5h.7M123.5 131h.7M124 138.5h.7M112.5 141.5h.7M113.5 147.5h.7M117.5 144.5h.7M104 133.5h.7M112 142h.7M110.5 134.5h.7M108 136.5h.7M104.5 131h.7M122 144h.7M131.5 147h.7M129 143h.7M124.5 146h.7M110.5 146h.7M119 142h.7M110.5 124.5h.7M107.5 137h.7M124 137.5h.7M128 130.5h.7M131.5 141h.7M113.5 136h.7M125.5 132h.7M108.5 139h.7M123 137.5h.7M116 147h.7M118 139h.7M132 146.5h.7M110.5 132h.7M109 143h.7M123 137h.7M117 134h.7M120 146h.7M107 134.5h.7M124.5 141h.7M116 138h.7M104.5 130.5h.7M115.5 137h.7M111.5 137h.7M118 141h.7M124 147.5h.7M105 148h.7M119 144h.7M115 138.5h.7M134.5 142h.7M110 147.5h.7M116.5 131.5h.7M107.5 144.5h.7M105.5 129.5h.7M116.5 143h.7M114.5 148h.7M117 132h.7M122.5 143.5h.7M106.5 142.5h.7M118 138.5h.7M112.5 143.5h.7M112.5 132h.7M128.5 141.5h.7M126.5 147h.7M120.5 148.5h.7M105 137.5h.7M133.5 130h.7M105 135.5h.7M113.5 134.5h.7M116 135h.7M120 138h.7M109.5 137h.7M122 136h.7M125 137h.7M119.5 139h.7M105 139h.7M137.5 126.5h.7M121 132.5h.7M115.5 136.5h.7M106 139h.7M128 140h.7M114 128h.7M118 144h.7M104.5 126h.7M129 141.5h.7M109.5 148h.7M118 133.5h.7M117.5 145.5h.7M109.5 142.5h.7M112 146h.7M105 146h.7M111 137h.7M108.5 148h.7M117.5 139h.7M112 136h.7M117.5 138h.7M116 141h.7M126.5 143.5h.7M111 144.5h.7M108 135h.7M128.5 125.5h.7M115.5 139.5h.7M120 148.5h.7M112.5 134.5h.7M111 142h.7M128.5 142.5h.7M117 143.5h.7M124 149h.7M105 140.5h.7M127 141h.7M108.5 144h.7M114 141h.7M136 136h.7M114.5 143.5h.7M112 142.5h.7M110.5 142h.7M106 148h.7M126.5 140.5h.7M132.5 141.5h.7M120 135.5h.7M112 119.5h.7M120.5 142.5h.7M123.5 130.5h.7M118 127h.7M124.5 135.5h.7M111 132.5h.7M111.5 144h.7M127 127.5h.7M115.5 139h.7M115.5 144.5h.7M114.5 140.5h.7M116 146.5h.7M121.5 148h.7M117 141h.7M115.5 127.5h.7M118.5 135.5h.7M121 136.5h.7M123 134h.7M104 144h.7M121 140h.7M134 143.5h.7M126 142h.7M132.5 141h.7M124 141h.7M113 129h.7M127.5 144h.7M131.5 133h.7M104.5 136.5h.7M109.5 133.5h.7M106 133h.7M111.5 140h.7M130.5 141.5h.7M123 149h.7M109.5 139.5h.7M133 122h.7M122.5 142h.7M115 143.5h.7M121 135.5h.7M122 137.5h.7M126 142.5h.7M112.5 147.5h.7M115 141.5h.7M116 147.5h.7M112 133.5h.7M122 128h.7M131.5 128.5h.7M106 134h.7M122 145h.7M114 148h.7M113 142.5h.7M116 148.5h.7M129 147.5h.7M113.5 128h.7M112 134h.7M114.5 142.5h.7M128 146.5h.7M130.5 124.5h.7M123.5 149h.7M127 145h.7M125.5 138.5h.7M116 135.5h.7M114 137.5h.7M112.5 146.5h.7M123.5 146h.7M132 141.5h.7M126 134.5h.7M121.5 144.5h.7M108.5 144.5h.7M129.5 140.5h.7M118 145.5h.7M113.5 129.5h.7M125 147h.7M114 141.5h.7M118.5 141.5h.7M127 140.5h.7M124 145.5h.7M116 142h.7M115.5 138.5h.7M129 134h.7M124.5 138.5h.7M110.5 147h.7M134.5 125h.7M109 132.5h.7M113.5 124.5h.7M119.5 130h.7M107 141.5h.7M110.5 142.5h.7M112 149h.7M108.5 141.5h.7M109 148.5h.7M119.5 136.5h.7M117 136h.7M134 143h.7M122 135h.7M111 140h.7M112.5 149h.7M118 146.5h.7M116.5 147.5h.7M106 148.5h.7M108.5 141h.7M117 138.5h.7M125 133h.7M122.5 128.5h.7M106.5 145h.7M131.5 142h.7M133 136.5h.7M134 135h.7M132.5 144.5h.7M106.5 147h.7M111.5 136.5h.7M108 149h.7M118 122.5h.7M125 140.5h.7M140.5 137.5h.7M122.5 136.5h.7M104.5 146.5h.7M114 145h.7M119 123h.7M117.5 146h.7M126.5 146.5h.7M121.5 132h.7M129.5 138h.7M125 142h.7M125.5 142.5h.7M122 141h.7M112 128h.7M104.5 148h.7M112.5 142.5h.7M105 136.5h.7M136.5 148.5h.7M124 141.5h.7M124.5 149h.7M108.5 140h.7M114.5 118.5h.7M119.5 147h.7M113.5 131.5h.7M130 135.5h.7M116.5 141h.7M136.5 131.5h.7M121 138h.7M138 128h.7M112 140h.7M119.5 143h.7M125.5 122h.7M110.5 133.5h.7M117 140.5h.7M147 148h.7M118 141.5h.7M130.5 143.5h.7M128 139h.7M139.5 142h.7M108.5 143h.7M109.5 148.5h.7M118 149h.7M106.5 149h.7M132 146h.7M118.5 146.5h.7M114 134h.7M128.5 128.5h.7M121.5 136h.7M114 149h.7M112 131.5h.7M107 140h.7M120 139h.7M119.5 131.5h.7M121.5 145.5h.7M106 137.5h.7M118 137h.7M111.5 135h.7M107.5 132h.7M105.5 140.5h.7M110 144h.7M124.5 139.5h.7M115 140h.7M126.5 133h.7M121.5 148.5h.7M124 127h.7M120.5 138.5h.7M124.5 141.5h.7M115 147.5h.7M107 127h.7M124 132.5h.7M124 144h.7M118.5 139.5h.7M116.5 142.5h.7M106.5 148h.7M128.5 139h.7M113.5 142.5h.7M108 139h.7M115 148h.7M110 147h.7M111.5 147h.7M115 135h.7M117.5 148h.7M117.5 142h.7M107 139.5h.7M106.5 135.5h.7M121 144.5h.7M133 124.5h.7M133 146h.7M118 148.5h.7M121 127.5h.7M124 129.5h.7M124 130h.7M104 146h.7M114 134.5h.7M133 139.5h.7M131.5 137.5h.7M117 124.5h.7M128.5 136h.7M126.5 134.5h.7M105.5 141.5h.7M127 122.5h.7M108 148.5h.7M131.5 136.5h.7M120.5 143.5h.7M121.5 131h.7M127 147.5h.7M119.5 140.5h.7M113 143h.7M123.5 135h.7M104 129h.7M122.5 140.5h.7M115 124h.7M105.5 147.5h.7M110 132h.7M126.5 148.5h.7M113.5 140.5h.7M114 139.5h.7M123 148.5h.7M121.5 126h.7M110 132.5h.7M124.5 146.5h.7M122 130.5h.7M124.5 136h.7M134 130h.7M117 147h.7M112.5 136.5h.7M125 145.5h.7M105.5 137h.7M119.5 146.5h.7M114.5 134h.7M119.5 141h.7M138 139.5h.7M120 136h.7M112.5 138.5h.7M104.5 133.5h.7M117 129h.7M123 136.5h.7M123.5 140.5h.7M116 129h.7M113 138h.7M113.5 137.5h.7M122 147h.7M122.5 146h.7M113 136h.7M122 140h.7M123 147.5h.7M119 135h.7M111.5 148h.7M125.5 130h.7M106 122h.7M118.5 128.5h.7M126.5 133.5h.7M121 148.5h.7M110 131h.7M109.5 146.5h.7M112.5 134h.7M121 145h.7M114.5 138h.7M125 148h.7M113.5 145h.7M120.5 136h.7M128 132h.7M125.5 133.5h.7M120.5 148h.7M109 142h.7M123 133h.7M115.5 146.5h.7M117.5 138.5h.7M119 141.5h.7M104.5 127h.7M120.5 147.5h.7M104 138h.7M123.5 145h.7M126.5 144.5h.7M117 149h.7M132 137h.7M129.5 133.5h.7M118 146h.7M104.5 138h.7M117 139h.7M109.5 141.5h.7M122.5 133h.7M119.5 141.5h.7M127 145.5h.7M108.5 127h.7M123 139.5h.7M118 132.5h.7M117.5 143h.7M132.5 137h.7M119 138h.7M114.5 147h.7M120 121.5h.7M128 144h.7M106 140h.7M126.5 148h.7M127 137h.7M128.5 148h.7M114.5 143h.7M123.5 143.5h.7M116 148h.7M119.5 145.5h.7M124 143h.7M129 134.5h.7M126 136.5h.7M111 136h.7M129 144h.7M124 140.5h.7M118 134h.7M112 141.5h.7M139 135h.7M131.5 146h.7M111.5 141.5h.7M121 139h.7M118 143h.7M113.5 139h.7M123.5 145.5h.7M117.5 133.5h.7M115.5 142h.7M105.5 141h.7M133 132h.7M129.5 142.5h.7M109.5 127.5h.7M127 135.5h.7M131.5 129h.7M132 145.5h.7M121.5 142.5h.7M109 131h.7M121 144h.7M113.5 145.5h.7M108.5 135.5h.7M114 131.5h.7M109 141.5h.7M115 139h.7M128.5 137h.7M128 135.5h.7M151.5 139h.7M124 133.5h.7M104 137.5h.7M122 139.5h.7M129.5 145h.7M125 147.5h.7M116.5 144h.7M126.5 137.5h.7M121.5 146.5h.7M124 147h.7M118 142h.7M115.5 145.5h.7M109 136h.7M109.5 136.5h.7M118.5 140.5h.7M112.5 148.5h.7M125 141h.7M122.5 140h.7M112.5 144.5h.7M105.5 142.5h.7M122.5 148h.7M133 147.5h.7M127.5 141.5h.7M115.5 131.5h.7M117.5 149h.7M122.5 141h.7M120 133h.7M105 142h.7M109 139.5h.7M110 140h.7M114 138h.7M124.5 148h.7M106.5 119.5h.7M114 126.5h.7M109 148h.7M115.5 146h.7M131 128h.7M127 138.5h.7M105 131h.7M110.5 145.5h.7M108 138.5h.7M133 128.5h.7M135.5 133h.7M106.5 140.5h.7M117 146h.7M116.5 149h.7M115.5 134h.7M126 145h.7M106.5 131h.7M117.5 145h.7M116 137h.7M117 148.5h.7M104 136h.7M111.5 142.5h.7M131 148.5h.7M120 137.5h.7M128 137.5h.7M112.5 144h.7M106 137h.7M119.5 131h.7M107 131.5h.7M110.5 140h.7M125.5 148h.7M125 132h.7M122.5 132h.7M121.5 138.5h.7M130.5 134.5h.7M128.5 145h.7M108 142h.7M114.5 144.5h.7M122 140.5h.7M104.5 142h.7M133 143.5h.7M128.5 134.5h.7M115.5 133.5h.7M116.5 138h.7M128 134.5h.7M129 135.5h.7M134.5 136h.7M113.5 141.5h.7M118 135h.7M126 144h.7M127.5 130h.7M127.5 126h.7M110.5 135.5h.7M127.5 139.5h.7M128 145.5h.7M114 132.5h.7M129.5 131.5h.7M106.5 142h.7M131 134.5h.7M123 143h.7M130 142.5h.7M123.5 131.5h.7M122.5 131h.7M113 147.5h.7M125.5 138h.7M130.5 143h.7M123.5 142.5h.7M134.5 134.5h.7M112.5 145h.7M127 143h.7M111.5 139.5h.7M117 142h.7M116.5 145.5h.7M140 148h.7M115.5 148h.7M125.5 124.5h.7M109.5 130h.7M131.5 131h.7M127 142h.7M115 140.5h.7M121.5 143.5h.7M129 138h.7M114.5 124h.7M126 132.5h.7M117 135h.7M125.5 143h.7M124.5 137h.7M123.5 138.5h.7M107.5 133h.7M118.5 134.5h.7M120 136.5h.7M120 128.5h.7M138 138.5h.7M122 146.5h.7M113 146h.7M111.5 146.5h.7M119.5 145h.7M122.5 125.5h.7M118.5 137.5h.7M131 146h.7M117 147.5h.7M127.5 132h.7M118 139.5h.7M104.5 128.5h.7M119 133h.7M136 137h.7M121 132h.7M109.5 149h.7M122.5 139h.7M126 147.5h.7M129 142h.7M132.5 133.5h.7M132 134.5h.7M121.5 144h.7M105 142.5h.7M105 122.5h.7M118.5 138.5h.7M116.5 132h.7M111 140.5h.7M104.5 145h.7M115.5 147h.7M116.5 131h.7M130.5 129h.7M132 148h.7M129.5 130h.7M127.5 148.5h.7M115 137.5h.7M112.5 124.5h.7M112.5 125.5h.7M111.5 125h.7M119 148.5h.7M119.5 142.5h.7M111 146.5h.7M115 134h.7M123 143.5h.7M109 138h.7M124.5 124.5h.7M124.5 144h.7M107.5 148.5h.7M109.5 144.5h.7M113 124.5h.7M113 141.5h.7M117 138h.7M125.5 142h.7M128 127h.7M110.5 140.5h.7M122.5 147h.7M110 141.5h.7M127.5 130.5h.7M133 138h.7M142 101.5h.7M108 106.5h.7M132.5 127.5h.7M135 118.5h.7M108.5 99h.7M113.5 87h.7M137 94h.7M129 99.5h.7M118.5 78.5h.7M133.5 143.5h.7M122 144.5h.7M136 100h.7M129.5 87.5h.7M127.5 90h.7M139 94h.7M121.5 124h.7M135.5 147h.7M138.5 108.5h.7M130 85h.7M125 131.5h.7M124.5 118h.7M133.5 109.5h.7M105 109.5h.7M141.5 108.5h.7M141 88h.7M116 99.5h.7M135 92h.7M117.5 102.5h.7M123.5 98.5h.7M134.5 140.5h.7M141.5 111.5h.7M117.5 110.5h.7M116 78.5h.7M109 112.5h.7M127 116.5h.7M142 106h.7M117 125h.7M106 124.5h.7M113.5 126h.7M136.5 99.5h.7M143 133.5h.7M109.5 112.5h.7M142 148h.7M107 99.5h.7M108 132.5h.7M124.5 144.5h.7M127.5 106h.7M115 142h.7M135.5 117.5h.7M111.5 105h.7M104 130h.7M132 104h.7M127 130.5h.7M107 145h.7M137 136h.7M114.5 82.5h.7M120.5 90h.7M136 120h.7M121 128h.7M133 97h.7M118.5 148.5h.7M123.5 137.5h.7M137 101.5h.7M126 95h.7M142.5 80h.7M177.5 92.5h.7M180.5 88h.7M174.5 97h.7M183.5 91h.7M186 88.5h.7M183 92.5h.7M180 85.5h.7M188.5 84.5h.7M179.5 90.5h.7M177.5 90.5h.7M181.5 88.5h.7M179.5 87h.7M185 89h.7M185.5 88.5h.7M183.5 88.5h.7M184 91h.7M179.5 88h.7M182 90.5h.7M188.5 85h.7M176 94h.7M184 95h.7M183 88h.7M180 95h.7M182 91.5h.7M179 93h.7M189 88h.7M181 89h.7M177.5 89h.7M180.5 87.5h.7M181.5 89.5h.7M185 91h.7M183 90.5h.7M178 88h.7M183.5 92.5h.7M184.5 87.5h.7M184.5 84h.7M185.5 87.5h.7M182.5 91h.7M185.5 83.5h.7M185.5 88h.7M180.5 91h.7M177.5 94h.7M184.5 89.5h.7M182 94h.7M179.5 92.5h.7M184 85.5h.7M183 92h.7M186.5 88.5h.7M178 98h.7M180.5 94.5h.7M180.5 92.5h.7M179.5 98.5h.7M183 95h.7M184.5 90h.7M174.5 95h.7M184.5 88.5h.7M184 93.5h.7M181 89.5h.7M178.5 90h.7M179.5 91.5h.7M181 91.5h.7M183.5 88h.7M177.5 91.5h.7M179 91h.7M181 88.5h.7M182 94.5h.7M176.5 90.5h.7M178.5 92.5h.7M181.5 92h.7M183.5 90h.7M179 97h.7M178 92.5h.7M179 88.5h.7M183 85.5h.7M177 94h.7M181 91h.7M177.5 92h.7M185.5 89.5h.7M172 97h.7M178 95h.7M177.5 95h.7M184.5 85.5h.7M182 93h.7M177 93h.7M183.5 87.5h.7M182 86h.7M183 90h.7M175 94.5h.7M179.5 93.5h.7M179.5 98h.7M180 92.5h.7M175.5 96h.7M172 96.5h.7M184 94h.7M187.5 85h.7M183 89.5h.7M172.5 98h.7M185 84h.7M185 91.5h.7M180.5 92h.7M177.5 91h.7M184 87.5h.7M180.5 94h.7M188 83.5h.7M180.5 89.5h.7M181 93.5h.7M183 87h.7M179.5 93h.7M175 87h.7M183.5 91.5h.7M176.5 89.5h.7M185.5 87h.7M180 89h.7M180.5 93h.7M182.5 89h.7M179.5 90h.7M184 86h.7M173.5 93.5h.7M181 90.5h.7M182 91h.7M186 91.5h.7M179.5 96h.7M171.5 99h.7M184 83h.7M178.5 93.5h.7M185 90h.7M180 93h.7M182 89.5h.7M182.5 87.5h.7M181 92h.7M179 92h.7M173.5 92.5h.7M188.5 88.5h.7M180.5 93.5h.7M173.5 99h.7M178 90h.7M185 90.5h.7M174 91h.7M176.5 91.5h.7M181.5 91h.7M180 91h.7M178.5 90.5h.7M186 85.5h.7M176 94.5h.7M183 93h.7M185 87h.7M186 89.5h.7M178 89.5h.7M183 91.5h.7M175 92h.7M178.5 92h.7M183 83h.7M179 95.5h.7M183 89h.7M181.5 90h.7M190.5 80.5h.7M190 81.5h.7M178.5 94h.7M181.5 87h.7M183 87.5h.7M185 89.5h.7M177 98.5h.7M180.5 89h.7M183.5 89h.7M186 88h.7M174.5 95.5h.7M176.5 96h.7M183.5 83.5h.7M180 90.5h.7M180 88.5h.7M184.5 91h.7M182.5 88.5h.7M186 83h.7M183 94.5h.7M181.5 91.5h.7M186.5 87h.7M185 87.5h.7M177.5 93h.7M173.5 97h.7M179 90.5h.7M182 89h.7M185 88.5h.7M177 94.5h.7M180.5 91.5h.7M178.5 88.5h.7M182 96h.7M181 92.5h.7M181.5 90.5h.7M187 88.5h.7M178.5 100h.7M182 87h.7M173.5 91.5h.7M177 95h.7M179 89.5h.7M184.5 86.5h.7M176 95h.7M183.5 98h.7M187 90h.7M177 96h.7M186.5 83h.7M183 94h.7M180.5 85.5h.7M179.5 92h.7M177 92h.7M177 97h.7M181 94h.7M184 85h.7M178.5 95h.7M184.5 94.5h.7M179 94h.7M178.5 88h.7M186.5 91h.7M179 98h.7M182.5 90h.7M178 94.5h.7M174 91.5h.7M185 94h.7M180 88h.7M180 86h.7M178 87.5h.7M179 96h.7M186.5 90.5h.7M182.5 85.5h.7M187 88h.7M173 92.5h.7M178 87h.7M184 88.5h.7M181 94.5h.7M172.5 96.5h.7M173 94h.7M173.5 97.5h.7M182 92h.7M184 91.5h.7M178.5 86.5h.7M184 92.5h.7M185.5 91h.7M179 91.5h.7M179.5 89.5h.7M188 85.5h.7M178 94h.7M180 95.5h.7M178.5 97h.7M179 89h.7M186 90h.7M186.5 86h.7M177.5 89.5h.7M182.5 85h.7M174.5 89h.7M181 87h.7M173.5 94.5h.7M184 83.5h.7M179 90h.7M181.5 86h.7M176.5 90h.7M182 90h.7M190 86h.7M177.5 96.5h.7M182.5 89.5h.7M179.5 94h.7M186.5 92.5h.7M175 96.5h.7M184.5 97.5h.7M175.5 91.5h.7M180 93.5h.7M172.5 95h.7M175.5 89.5h.7M178.5 91.5h.7M177.5 97.5h.7M181 88h.7M187 89h.7M193 85h.7M180 89.5h.7M181.5 88h.7M174.5 93.5h.7M182 93.5h.7M175.5 87.5h.7M183 91h.7M174.5 92.5h.7M182 88h.7M175 95h.7M176 92h.7M188 89h.7M178 89h.7M182 97h.7M173.5 104h.7M178.5 93h.7M182.5 88h.7M175 91h.7M174 96h.7M178 93h.7M180 82.5h.7M183 88.5h.7M185.5 93.5h.7M185 93h.7M181 93h.7M178 96h.7M176.5 92.5h.7M178.5 91h.7M186.5 82h.7M182.5 86.5h.7M180.5 90h.7M178 90.5h.7M174.5 92h.7M184 93h.7M183.5 93.5h.7M175.5 98.5h.7M188 86h.7M177 97.5h.7M180 97h.7M177 91.5h.7M181 95h.7M179 92.5h.7M181.5 94h.7M181 83.5h.7M189 86h.7M189.5 90h.7M183.5 86h.7M175 95.5h.7M182 85.5h.7M182.5 84h.7M177 89.5h.7M178 92h.7M181.5 96.5h.7M184.5 86h.7M180 90h.7M177 88h.7M176 96h.7M179 93.5h.7M178 97h.7M184 88h.7M181 87.5h.7M186.5 94.5h.7M180.5 95h.7M175.5 94h.7M177 93.5h.7M185.5 90h.7M187.5 87h.7M180.5 97h.7M177 88.5h.7M182 92.5h.7M185.5 94.5h.7M177.5 93.5h.7M179 87h.7M179 86h.7M184 87h.7M180 94h.7M178.5 89.5h.7M179.5 94.5h.7M179.5 91h.7M182 87.5h.7M178 91.5h.7M182.5 87h.7M176 91h.7M180.5 88.5h.7M180 92h.7M182.5 90.5h.7M174.5 93h.7M181.5 92.5h.7M178.5 89h.7M176 93.5h.7M182.5 92.5h.7M183.5 93h.7M179 94.5h.7M176 95.5h.7M181 90h.7M184 89.5h.7M175 96h.7M186 87.5h.7M179.5 88.5h.7M178 93.5h.7M181 86.5h.7M183.5 92h.7M184.5 89h.7M177.5 88h.7M183.5 85.5h.7M176 92.5h.7M181.5 93.5h.7M184 89h.7M184 90h.7M170 91h.7M197.5 88h.7M186 75h.7M178 97.5h.7M170.5 93.5h.7M181.5 83h.7M173 95h.7M187.5 77h.7M176.5 84h.7M185 75h.7M182.5 95.5h.7M170.5 99.5h.7M181 101.5h.7M176 89.5h.7M180.5 87h.7M176 93h.7M179 103h.7M167 92.5h.7M176 101h.7M182.5 98h.7M175.5 93h.7M183 102.5h.7M177.5 104h.7M185 82h.7M185 97h.7M180 102h.7M182 82h.7M186 94h.7M179.5 84h.7M173 89h.7M171.5 87h.7M179.5 83.5h.7M172.5 99h.7M176 84.5h.7M188.5 90h.7M185.5 84.5h.7M175 89.5h.7M187 96.5h.7M165.5 105.5h.7M183 96h.7M169 93.5h.7M201 81.5h.7M175.5 92h.7M174 90h.7M184 101h.7M183.5 81.5h.7M181.5 79.5h.7M169.5 93h.7M168 100h.7M182 95h.7M174.5 96.5h.7M189 90h.7M188.5 77.5h.7M178 95.5h.7M188.5 89.5h.7M184 92h.7M176 99.5h.7M167.5 93.5h.7M165 95h.7M173.5 96h.7M167.5 90h.7M189 89h.7M177 90.5h.7M170 95h.7M189 87.5h.7M189 80h.7M182.5 99h.7M168.5 105.5h.7M189 99.5h.7M186.5 81h.7M171 90.5h.7M198.5 85.5h.7M181 78.5h.7M182.5 82h.7M187.5 88h.7M176 90h.7M184.5 96.5h.7M189 85h.7M172.5 87h.7M172 93h.7M178 103.5h.7M180.5 104.5h.7M186 98h.7M179 84h.7M178.5 85.5h.7M179 105.5h.7M195.5 95h.7M192 90.5h.7M158 99.5h.7M171.5 102h.7M169.5 101.5h.7M168.5 95h.7M185 98.5h.7M177.5 95.5h.7M187.5 86.5h.7M190.5 79h.7M182 88.5h.7M192 92.5h.7M166.5 97h.7M172.5 94.5h.7M192.5 85.5h.7M187.5 87.5h.7M199 90h.7M169.5 83.5h.7M182 101h.7M181 96h.7M176.5 95.5h.7M182.5 93.5h.7M167 96.5h.7M192.5 85h.7M162.5 96.5h.7M163 95h.7M178.5 84.5h.7M179.5 86h.7M166.5 106h.7M181.5 94.5h.7M172 95h.7M178.5 80h.7M190 88h.7M173 98h.7M189.5 79.5h.7M192 93h.7M179 86.5h.7M192.5 84.5h.7M164.5 93h.7M181.5 85.5h.7M168.5 92h.7M187 94.5h.7M179.5 103h.7M181 84.5h.7M195.5 80h.7M174 103.5h.7M196.5 91.5h.7M175.5 84h.7M175.5 97h.7M178.5 84h.7M182 85h.7M187 93.5h.7M189.5 103.5h.7M193 85.5h.7M169.5 79h.7M148 95.5h.7M179 76h.7M162.5 87.5h.7M188 76.5h.7M194 113.5h.7M173.5 93h.7M161 81h.7M162 114.5h.7M189.5 111.5h.7M192 104h.7M167.5 77h.7M187 108.5h.7M153 99.5h.7M187 70h.7M191.5 91.5h.7M151 74.5h.7M205 106h.7M200.5 119h.7M197.5 75h.7M176.5 117h.7M190.5 107.5h.7M158 72.5h.7M189 71h.7M179 98.5h.7M178.5 103h.7M200.5 96.5h.7M199.5 109.5h.7M180 94.5h.7M153.5 110h.7M148 71.5h.7M195 74.5h.7M160 115h.7M190 92h.7M180 96h.7M196.5 103.5h.7M147.5 103.5h.7M186 77.5h.7M168 82.5h.7M163 84.5h.7M158.5 106.5h.7M190.5 81.5h.7M156.5 78.5h.7M157 114.5h.7M203 101.5h.7M185.5 111h.7M185 119h.7M153 76h.7M171 111h.7" stroke="#000" stroke-width="0.7" fill="none"/>
<text x="104.5" y="44.5" font-size="3.8" font-weight="bold" text-anchor="start" stroke="#000" stroke-width="0.12">D1</text>
<text x="104.9" y="50.1" font-size="3.9" font-weight="bold" text-anchor="start" stroke="#000" stroke-width="0.12">91.2%</text>
<text x="145" y="44.5" font-size="3.8" font-weight="bold" text-anchor="start" stroke="#000" stroke-width="0.12">D2</text>
<text x="145.4" y="50.1" font-size="3.9" font-weight="bold" text-anchor="start" stroke="#000" stroke-width="0.12">6.8%</text>
<text x="104.5" y="126.5" font-size="3.8" font-weight="bold" text-anchor="start" stroke="#000" stroke-width="0.12">D3</text>
<text x="104.9" y="132.1" font-size="3.9" font-weight="bold" text-anchor="start" stroke="#000" stroke-width="0.12">1.9%</text>
<text x="145" y="126.5" font-size="3.8" font-weight="bold" text-anchor="start" stroke="#000" stroke-width="0.12">D4</text>
<text x="145.4" y="132.1" font-size="3.9" font-weight="bold" text-anchor="start" stroke="#000" stroke-width="0.12">0.2%</text>
<text x="188.89999999999998" y="55.4" font-size="13.6" font-weight="bold" text-anchor="start" >6.5%</text>
<path d="M257.5 41H384.5" stroke="#808080" stroke-width="1.1" fill="none"/>
<path d="M384.5 40.5V150.8" stroke="#666" stroke-width="1" fill="none"/>
<path d="M257.5 40.5V150.8H385.0" stroke="#4a4a4a" stroke-width="1.1" fill="none"/>
<path d="M288.8 41V150.8" stroke="#111" stroke-width="1.1" fill="none"/>
<path d="M257.5 120.3H384.5" stroke="#111" stroke-width="1.1" fill="none"/>
<path d="M255.3 142.5H257.5M255.3 137.7H257.5M255.3 134.3H257.5M255.3 131.6H257.5M255.3 129.4H257.5M255.3 127.6H257.5M255.3 126.0H257.5M255.3 124.6H257.5M255.3 115.1H257.5M255.3 110.3H257.5M255.3 106.8H257.5M255.3 104.2H257.5M255.3 102.0H257.5M255.3 100.2H257.5M255.3 98.6H257.5M255.3 97.2H257.5M255.3 87.6H257.5M255.3 82.8H257.5M255.3 79.4H257.5M255.3 76.7H257.5M255.3 74.5H257.5M255.3 72.7H257.5M255.3 71.1H257.5M255.3 69.7H257.5M255.3 60.2H257.5M255.3 55.4H257.5M255.3 51.9H257.5M255.3 49.3H257.5M255.3 47.1H257.5M255.3 45.3H257.5M255.3 43.7H257.5M255.3 42.3H257.5M253.5 123.4H257.5M253.5 95.9H257.5M253.5 68.5H257.5M253.5 41.0H257.5M267.1 150.8V152.8M272.6 150.8V152.8M276.6 150.8V152.8M279.7 150.8V152.8M282.2 150.8V152.8M284.3 150.8V152.8M286.2 150.8V152.8M287.8 150.8V152.8M289.2 150.8V154.3M298.8 150.8V152.8M304.4 150.8V152.8M308.4 150.8V152.8M311.4 150.8V152.8M314.0 150.8V152.8M316.1 150.8V152.8M317.9 150.8V152.8M319.5 150.8V152.8M321.0 150.8V154.3M330.6 150.8V152.8M336.1 150.8V152.8M340.1 150.8V152.8M343.2 150.8V152.8M345.7 150.8V152.8M347.8 150.8V152.8M349.7 150.8V152.8M351.3 150.8V152.8M352.8 150.8V154.3M362.3 150.8V152.8M367.9 150.8V152.8M371.9 150.8V152.8M374.9 150.8V152.8M377.5 150.8V152.8M379.6 150.8V152.8M381.4 150.8V152.8M383.0 150.8V152.8M384.5 150.8V154.3" stroke="#333" stroke-width="0.8" fill="none"/>
<text x="252.5" y="124.9" font-size="4.2" font-weight="bold" text-anchor="end" stroke="#000" stroke-width="0.15">10</text>
<text x="252.5" y="97.4" font-size="4.2" font-weight="bold" text-anchor="end" stroke="#000" stroke-width="0.15">10</text>
<text x="252.5" y="70.0" font-size="4.2" font-weight="bold" text-anchor="end" stroke="#000" stroke-width="0.15">10</text>
<text x="252.5" y="42.5" font-size="4.2" font-weight="bold" text-anchor="end" stroke="#000" stroke-width="0.15">10</text>
<text x="289.8" y="160.8" font-size="4.2" font-weight="bold" text-anchor="middle" stroke="#000" stroke-width="0.15">10</text>
<text x="321.5" y="160.8" font-size="4.2" font-weight="bold" text-anchor="middle" stroke="#000" stroke-width="0.15">10</text>
<text x="353.2" y="160.8" font-size="4.2" font-weight="bold" text-anchor="middle" stroke="#000" stroke-width="0.15">10</text>
<text x="382.0" y="160.8" font-size="4.2" font-weight="bold" text-anchor="middle" stroke="#000" stroke-width="0.15">10</text>
<path d="M268 88h1M283 91h1M266 91h1M262 85h1M268 86h1M269 87h1M258 82h1M261 79h1M265 87h1M270 84h1M264 91h1M269 84h1M273 85h1M271 87h1M263 82h1M264 100h1M262 96h1M272 87h1M271 95h1M263 86h1M271 90h1M276 91h1M259 88h1M259 92h1M260 93h1M263 94h1M260 87h1M262 84h1M279 97h1M262 92h1M259 95h1M263 90h1M267 87h1M261 87h1M263 92h1M265 90h1M264 87h1M259 93h1M270 86h1M268 84h1M258 88h1M273 88h1M258 90h1M267 80h1M260 82h1M271 89h1M269 95h1M261 90h1M278 92h1M266 92h1M267 86h1M265 91h1M262 89h1M260 95h1M270 90h1M266 88h1M267 94h1M259 94h1M264 83h1M265 92h1M264 86h1M271 84h1M264 88h1M264 89h1M265 88h1M259 79h1M262 88h1M260 96h1M269 96h1M270 85h1M262 80h1M265 84h1M266 90h1M262 91h1M269 93h1M258 87h1M277 90h1M261 81h1M266 87h1M268 90h1M269 86h1M259 83h1M258 99h1M273 86h1M272 84h1M264 92h1M276 92h1M265 89h1M264 90h1M268 93h1M261 91h1M267 85h1M258 86h1M270 87h1M277 91h1M268 91h1M280 93h1M266 86h1M260 89h1M263 88h1M271 85h1M272 91h1M268 82h1M267 89h1M266 85h1M259 90h1M271 86h1M262 87h1M260 86h1M264 98h1M259 86h1M265 94h1M260 98h1M262 86h1M265 86h1M262 82h1M258 92h1M272 98h1M269 91h1M270 91h1M265 93h1M258 91h1M269 97h1M273 92h1M266 97h1M261 93h1M272 96h1M276 85h1M260 90h1M271 91h1M268 85h1M263 95h1M264 95h1M274 91h1M261 96h1M264 96h1M267 82h1M262 95h1M264 84h1M276 89h1M267 83h1M269 85h1M268 89h1M261 97h1M266 93h1M260 92h1M263 91h1M266 96h1M260 94h1M263 93h1M268 87h1M265 100h1M263 87h1M273 89h1M262 81h1M259 89h1M261 88h1M259 87h1M259 85h1M263 83h1M267 90h1M271 81h1M269 88h1M272 92h1M274 87h1M266 81h1M263 89h1M258 95h1M262 93h1M258 89h1M260 85h1M272 89h1M265 81h1M263 85h1M260 91h1M264 76h1M265 83h1M271 94h1M259 99h1M264 79h1M274 88h1M266 94h1M260 84h1M272 85h1M268 92h1M266 84h1M270 92h1M269 89h1M261 92h1M266 83h1M262 94h1M273 87h1M268 95h1M262 79h1M267 88h1M259 91h1M262 90h1M261 84h1M268 79h1M263 84h1M261 85h1M271 92h1M270 81h1M260 88h1M272 90h1M264 93h1M260 80h1M280 87h1M274 94h1M268 94h1M270 82h1M267 81h1M272 93h1M271 82h1M270 98h1M272 80h1M271 83h1M268 83h1M262 97h1M273 91h1M267 93h1M261 89h1M272 95h1M260 101h1M274 78h1M264 81h1M268 78h1M265 96h1M270 93h1M261 86h1M269 82h1M265 85h1M267 95h1M270 95h1M259 84h1M271 88h1M269 90h1M263 81h1M274 89h1M258 84h1M267 84h1M260 81h1M272 86h1M261 82h1M259 81h1M266 82h1M267 92h1M259 80h1M270 79h1M263 100h1M262 103h1M267 111h1M276 106h1M271 104h1M261 108h1M278 107h1M258 107h1M271 98h1M264 101h1M260 117h1M275 111h1M275 107h1M276 113h1M258 101h1M269 105h1M268 111h1M266 108h1M264 105h1M278 114h1M264 106h1M267 106h1M267 107h1M277 94h1M259 96h1M279 106h1M263 110h1M264 104h1M268 110h1M275 104h1M267 110h1M266 111h1M266 102h1M271 102h1M268 113h1M268 107h1M267 117h1M270 103h1M269 108h1M263 106h1M271 114h1M268 96h1M274 101h1M267 105h1M268 102h1M271 115h1M272 105h1M259 105h1M270 112h1M267 104h1M265 106h1M258 100h1M263 103h1M265 115h1M261 106h1M260 105h1M262 111h1M265 102h1M265 110h1M261 107h1M276 146h1M265 143h1M271 133h1M271 138h1M264 134h1M277 137h1M278 146h1M268 139h1M276 141h1M275 143h1M272 147h1M268 143h1M276 134h1M262 145h1M266 142h1M269 141h1M271 144h1M269 149h1M273 139h1M269 133h1M285 127h1M264 143h1M278 141h1M273 142h1M270 144h1M268 142h1M263 144h1M269 140h1M269 129h1M272 145h1M263 136h1M266 141h1M266 145h1M278 135h1M270 138h1M270 129h1M274 142h1M266 130h1M271 149h1M277 139h1M273 130h1M266 137h1M270 131h1M272 139h1M270 135h1M275 137h1M267 143h1M271 147h1M273 137h1M276 142h1M273 143h1M278 142h1M261 144h1M268 147h1M271 143h1M269 126h1M267 140h1" stroke="#000" stroke-width="1" fill="none" shape-rendering="crispEdges" transform="translate(0,0.5)"/>
<path d="M264 92h.7M271.5 93.5h.7M266 90.5h.7M258.5 90h.7M259.5 91h.7M262.5 92.5h.7M264.5 93h.7M258 95h.7M258 98.5h.7M259 89.5h.7M259.5 90h.7M273.5 84h.7M268.5 94.5h.7M259.5 94.5h.7M262.5 93h.7M259 107.5h.7M265.5 77.5h.7M269.5 87.5h.7M261.5 87.5h.7M260 90h.7M260 83h.7M267.5 91.5h.7M266 91h.7M274.5 95h.7M270 98.5h.7M259 95h.7M258.5 85h.7M260 92.5h.7M276 85.5h.7M265 81h.7M281 91.5h.7M267.5 90h.7M264 93h.7M267 96.5h.7M273.5 82.5h.7M271.5 85h.7M273 97h.7M271 89.5h.7M261.5 85.5h.7M268.5 89.5h.7M260 90.5h.7M258.5 96.5h.7M272 89.5h.7M274 88h.7M276 90h.7M259 78h.7M279.5 80h.7M266 94.5h.7M264.5 84.5h.7M265 90.5h.7M267.5 92.5h.7M259 96h.7M268.5 94h.7M272.5 92.5h.7M261 83.5h.7M262.5 79.5h.7M266.5 89.5h.7M273.5 86.5h.7M278.5 89h.7M264.5 90h.7M276.5 95.5h.7M263.5 81.5h.7M265.5 87.5h.7M277.5 87h.7M275.5 90h.7M264 93.5h.7M258 78.5h.7M279 91.5h.7M269 88.5h.7M267.5 89h.7M268.5 93h.7M259.5 87h.7M278 87.5h.7M269 90.5h.7M264 100.5h.7M271 78.5h.7M274 82h.7M258 85.5h.7M272 79.5h.7M273 84.5h.7M275 94h.7M261.5 75.5h.7M266 76.5h.7M272 86.5h.7M274.5 86h.7M259.5 92h.7M259.5 89.5h.7M265.5 85h.7M258.5 93h.7M277.5 87.5h.7M260 87.5h.7M259.5 78h.7M273.5 90h.7M264 99.5h.7M266 89h.7M272 86h.7M268.5 91.5h.7M271.5 91.5h.7M276 94h.7M271.5 94.5h.7M262.5 84h.7M264.5 96h.7M259.5 91.5h.7M261.5 86.5h.7M260.5 79h.7M276 88h.7M258.5 97.5h.7M277.5 89h.7M268 93.5h.7M270.5 95h.7M271 88.5h.7M270 82.5h.7M265.5 96h.7M276 92.5h.7M271.5 86.5h.7M272 88.5h.7M260 97h.7M267 91h.7M258.5 89.5h.7M269 92.5h.7M270 92h.7M272.5 96.5h.7M274 84.5h.7M267.5 97h.7M273 88h.7M266.5 89h.7M268 77.5h.7M260 86h.7M258 83.5h.7M265.5 97h.7M266.5 88h.7M265.5 88h.7M259.5 82h.7M275.5 85h.7M260.5 82h.7M261.5 81.5h.7M261 79h.7M259.5 101h.7M275 92h.7M268.5 87h.7M272.5 85h.7M264.5 86.5h.7M274.5 89h.7M267 98h.7M276 92h.7M266.5 94.5h.7M270 97.5h.7M269.5 83.5h.7M261.5 77h.7M269.5 84h.7M270 87h.7M268 87h.7M265 92h.7M263.5 88.5h.7M263 87h.7M262.5 83.5h.7M265 92.5h.7M266.5 85.5h.7M259 101h.7M274.5 83h.7M258.5 80.5h.7M273.5 80h.7M266.5 83.5h.7M267 83.5h.7M265 89h.7M272.5 97h.7M269 91h.7M277 80.5h.7M278.5 87.5h.7M263.5 97.5h.7M263.5 89h.7M271.5 96.5h.7M277 103.5h.7M261.5 88h.7M263.5 92h.7M268.5 85.5h.7M265 83h.7M263.5 89.5h.7M267.5 88.5h.7M261 94h.7M262.5 86.5h.7M273 89.5h.7M268.5 99h.7M261.5 82.5h.7M280.5 86h.7M261.5 101.5h.7M268.5 88h.7M260.5 88.5h.7M261.5 92.5h.7M258.5 90.5h.7M276.5 90h.7M262 75h.7M263 85.5h.7M260 81.5h.7M275 97h.7M259 85h.7M260.5 83h.7M269 92h.7M272.5 89.5h.7M268.5 97.5h.7M269.5 91.5h.7M258 88.5h.7M264 89.5h.7M276.5 84.5h.7M277 83h.7M266.5 77.5h.7M258.5 75h.7M270 87.5h.7M258.5 91.5h.7M262 82h.7M264 90.5h.7M265.5 90h.7M261 92.5h.7M259.5 84h.7M274 91h.7M277.5 86h.7M275.5 75.5h.7M271 95.5h.7M271 86h.7M262 89h.7M280.5 95.5h.7M265.5 79h.7M273.5 85h.7M273 80.5h.7M259 91.5h.7M268.5 95.5h.7M267.5 88h.7M271 88h.7M260.5 89.5h.7M276 91.5h.7M269.5 95h.7M270.5 84h.7M264.5 92h.7M279 90.5h.7M260.5 90h.7M267 82h.7M269 104.5h.7M273.5 88.5h.7M260.5 92h.7M263.5 86h.7M269 90h.7M273.5 97.5h.7M260.5 94.5h.7M277 88.5h.7M263 81.5h.7M279 93h.7M270 86.5h.7M278 77.5h.7M273.5 101h.7M277.5 92.5h.7M270.5 89h.7M265 90h.7M264 89h.7M262 89.5h.7M270.5 98h.7M267 93h.7M265 95h.7M262.5 82.5h.7M265 98.5h.7M269.5 90.5h.7M258 86h.7M263 106.5h.7M276 96.5h.7M260.5 87.5h.7M264.5 90.5h.7M260 93h.7M266 78.5h.7M264 96.5h.7M272 94h.7M259 94.5h.7M268.5 90.5h.7M259 82h.7M276 93.5h.7M274.5 99h.7M263.5 86.5h.7M268.5 89h.7M263.5 90.5h.7M283 86h.7M260 95h.7M266.5 101h.7M269 94h.7M258.5 87.5h.7M263 90h.7M270.5 90h.7M264.5 98h.7M272.5 101.5h.7M258.5 84.5h.7M266 98.5h.7M258 81h.7M265 87.5h.7M269.5 86.5h.7M264 87.5h.7M269.5 78.5h.7M270.5 81h.7M274 85.5h.7M270 85.5h.7M270 93h.7M258.5 95.5h.7M267.5 84.5h.7M268.5 77h.7M264.5 95.5h.7M268 94.5h.7M268 86h.7M270 102h.7M263.5 93h.7M267.5 91h.7M274.5 82.5h.7M280.5 87h.7M258.5 79h.7M266.5 99h.7M268 86.5h.7M283 82h.7M267.5 93h.7M259.5 98.5h.7M267.5 93.5h.7M261 79.5h.7M279 90h.7M264 85h.7M264 90h.7M266 89.5h.7M266.5 82.5h.7M261.5 87h.7M267 81.5h.7M267 86.5h.7M271 103.5h.7M265 83.5h.7M269 89.5h.7M263.5 87.5h.7M265 93.5h.7M271 97.5h.7M270.5 95.5h.7M278.5 88h.7M276 95h.7M259 86h.7M272 75h.7M258 98h.7M269 97h.7M275.5 82.5h.7M258 100h.7M259 83.5h.7M269 83.5h.7M271.5 92h.7M271 85h.7M275.5 81h.7M266 97h.7M264.5 86h.7M280.5 92.5h.7M271 90h.7M275.5 98h.7M261.5 83.5h.7M260 89.5h.7M270 100.5h.7M265 94h.7M264 83.5h.7M260 85h.7M273 91.5h.7M260 96h.7M268 83h.7M266.5 87.5h.7M271.5 78.5h.7M261 90h.7M274.5 92.5h.7M265.5 83.5h.7M272 81h.7M263 89.5h.7M273.5 89.5h.7M266.5 91h.7M260 102h.7M261 91.5h.7M271 96h.7M263.5 82.5h.7M271.5 103h.7M269 87h.7M273.5 82h.7M278.5 91.5h.7M269 85h.7M269 96h.7M270.5 90.5h.7M264.5 84h.7M268 84.5h.7M268.5 90h.7M262 83h.7M275 89h.7M259.5 82.5h.7M258.5 89h.7M261.5 95h.7M264 83h.7M261.5 85h.7M259 85.5h.7M268 90.5h.7M267.5 94h.7M272 95.5h.7M277.5 84.5h.7M266 99.5h.7M260 97.5h.7M264.5 92.5h.7M265 94.5h.7M265 82.5h.7M261 103.5h.7M261.5 96h.7M283 79.5h.7M260.5 92.5h.7M260 84.5h.7M268 93h.7M262 88h.7M264 92.5h.7M269 93h.7M263.5 94h.7M278.5 90h.7M270 80h.7M266.5 87h.7M262.5 100.5h.7M258.5 88.5h.7M266 101h.7M264 67.5h.7M271.5 91h.7M275.5 84.5h.7M268 88.5h.7M262.5 95.5h.7M263.5 94.5h.7M272.5 89h.7M269 82.5h.7M273 82.5h.7M262 95h.7M267 94h.7M259.5 97.5h.7M275.5 93.5h.7M265.5 94.5h.7M258 96.5h.7M279.5 83.5h.7M264.5 74h.7M265.5 90.5h.7M270 101h.7M284.5 89h.7M279 81h.7M275 91.5h.7M265.5 93.5h.7M260 93.5h.7M271.5 89h.7M258 84h.7M263.5 83.5h.7M269 88h.7M263 89h.7M272 94.5h.7M276.5 79.5h.7M263 86h.7M269 91.5h.7M267 87.5h.7M270.5 85.5h.7M260.5 99h.7M272.5 82.5h.7M266.5 92h.7M270.5 82h.7M270.5 88.5h.7M264 98.5h.7M258.5 104.5h.7M265.5 92.5h.7M259 99h.7M260 80h.7M283 94.5h.7M272.5 86h.7M269.5 98.5h.7M263 88.5h.7M265 88.5h.7M259 87.5h.7M264.5 82h.7M268 100.5h.7M265.5 104.5h.7M259.5 88.5h.7M262.5 89.5h.7M264.5 89.5h.7M259 90.5h.7M271 93.5h.7M264 95.5h.7M264 95h.7M280 83.5h.7M268 92h.7M262 72.5h.7M264 97.5h.7M264.5 101.5h.7M275.5 92.5h.7M273.5 77.5h.7M267 76.5h.7M270.5 81.5h.7M265 81.5h.7M266.5 90.5h.7M269.5 88h.7M262.5 91.5h.7M272.5 83h.7M269.5 92.5h.7M265.5 74h.7M266.5 97.5h.7M259 96.5h.7M285.5 95.5h.7M258.5 100.5h.7M264 84.5h.7M280.5 98.5h.7M277.5 78h.7M270.5 92h.7M281 86.5h.7M261.5 94.5h.7M272 81.5h.7M258.5 93.5h.7M260 95.5h.7M266 84.5h.7M267 94.5h.7M269.5 91h.7M271.5 83.5h.7M270 79.5h.7M262 85h.7M258 79.5h.7M260 88.5h.7M266 88.5h.7M272.5 92h.7M277 94h.7M265.5 85.5h.7M261 88h.7M261 96.5h.7M275 92.5h.7M272 82.5h.7M258 88h.7M258 89.5h.7M259.5 87.5h.7M266 95.5h.7M273 87h.7M267.5 81h.7M275.5 88h.7M274 94h.7M284.5 85h.7M262.5 85h.7M264.5 87.5h.7M261.5 99h.7M278.5 82.5h.7M272.5 82h.7M261 91h.7M263.5 90h.7M258.5 92h.7M263 101.5h.7M279.5 80.5h.7M258.5 84h.7M270 91.5h.7M271.5 93h.7M273 90h.7M273 85h.7M273.5 94h.7M258.5 83.5h.7M269.5 93.5h.7M260 94h.7M270 83.5h.7M263 82.5h.7M264 91.5h.7M280 84.5h.7M274.5 92h.7M262 105h.7M265.5 100h.7M264 85.5h.7M283 90.5h.7M265 85h.7M273.5 92.5h.7M260 88h.7M261 82.5h.7M258.5 94h.7M273.5 97h.7M268.5 96.5h.7M269.5 82h.7M263 97h.7M269 87.5h.7M263 100.5h.7M280.5 89h.7M264 94h.7M270 95.5h.7M269 100h.7M269 95h.7M258 91h.7M268.5 101.5h.7M258.5 81.5h.7M276 78.5h.7M259.5 83h.7M271 105h.7M259.5 92.5h.7M262 86h.7M267.5 99h.7M259 98h.7M259.5 95.5h.7M279.5 96.5h.7M272 97.5h.7M275.5 90.5h.7M271 98.5h.7M258.5 95h.7M269 104h.7M267 83h.7M268.5 83.5h.7M265.5 86.5h.7M277 78h.7M264.5 80.5h.7M259.5 75.5h.7M263.5 82h.7M269.5 89h.7M274.5 87h.7M267 86h.7M270.5 86h.7M267 85h.7M270 91h.7M265.5 89.5h.7M266.5 91.5h.7M268 96.5h.7M271.5 97.5h.7M265.5 95.5h.7M259.5 90.5h.7M271 96.5h.7M276 89.5h.7M263.5 98h.7M274.5 94h.7M261 84h.7M264 81h.7M276.5 89h.7M258.5 101.5h.7M261 90.5h.7M277.5 90h.7M263 94h.7M259.5 100.5h.7M258.5 73h.7M271 99h.7M259 88.5h.7M261.5 88.5h.7M263.5 100h.7M262.5 82h.7M271.5 84.5h.7M259 103.5h.7M263 98.5h.7M272.5 93h.7M258 90.5h.7M279.5 92.5h.7M272.5 77h.7M280 87.5h.7M265 91h.7M259 89h.7M270.5 86.5h.7M263.5 85.5h.7M273.5 94.5h.7M258 84.5h.7M258 92h.7M259.5 96h.7M267 87h.7M270.5 107.5h.7M263.5 93.5h.7M275.5 91.5h.7M264.5 88.5h.7M260 91.5h.7M280.5 92h.7M267 84.5h.7M263.5 87h.7M259.5 74h.7M260 73h.7M277.5 83.5h.7M258 83h.7M264 87h.7M269 84h.7M276.5 102.5h.7M267.5 87h.7M264.5 89h.7M269 84.5h.7M258.5 92.5h.7M266 87.5h.7M261 86h.7M260.5 100.5h.7M262 80.5h.7M259.5 89h.7M269.5 85.5h.7M260.5 91.5h.7M269 93.5h.7M263 92.5h.7M269.5 99h.7M261.5 102h.7M265.5 91h.7M273 100h.7M260 84h.7M266 74.5h.7M263.5 79h.7M263 95.5h.7M281.5 90h.7M276 84.5h.7M261 87h.7M262 90h.7M262 77.5h.7M274 86.5h.7M277 91.5h.7M265.5 97.5h.7M260 86.5h.7M270.5 83.5h.7M269 89h.7M272.5 88h.7M263.5 101.5h.7M275 88.5h.7M274 90h.7M266.5 94h.7M264.5 96.5h.7M273 92h.7M268.5 95h.7M283 93.5h.7M277.5 85.5h.7M266.5 96h.7M278 92h.7M258 94h.7M269.5 92h.7M271.5 81.5h.7M259 95.5h.7M276 103h.7M279 82h.7M258.5 74.5h.7M276 82h.7M269 80.5h.7M265.5 88.5h.7M260 92h.7M263.5 95.5h.7M269 85.5h.7M263 98h.7M258.5 83h.7M263 85h.7M279 88h.7M265 76.5h.7M268.5 83h.7M274.5 88.5h.7M269.5 96h.7M266 83.5h.7M290 91h.7M270.5 96.5h.7M275 94.5h.7M260.5 89h.7M260.5 79.5h.7M261.5 97.5h.7M266.5 86.5h.7M265.5 80h.7M267 88h.7M275 87h.7M269 86h.7M268 91h.7M266 90h.7M267.5 95h.7M273.5 93h.7M270.5 96h.7M259 84h.7M263.5 88h.7M258.5 91h.7M260 79h.7M265 75.5h.7M268.5 96h.7M265 89.5h.7M271 90.5h.7M262 99.5h.7M268 97.5h.7M270.5 93h.7M269.5 81.5h.7M259 80.5h.7M264.5 87h.7M266 82h.7M260.5 88h.7M280.5 81.5h.7M274 94.5h.7M262 98h.7M281.5 83h.7M258.5 87h.7M273.5 92h.7M258.5 86.5h.7M261.5 84.5h.7M266 83h.7M273 77h.7M281 96.5h.7M278.5 93h.7M261.5 86h.7M259 99.5h.7M275 83.5h.7M263 83h.7M268 90h.7M274 87h.7M280.5 86.5h.7M271 86.5h.7M262 101h.7M268 85h.7M268.5 86.5h.7M277 89h.7M260.5 80.5h.7M279.5 76h.7M279 98.5h.7M282 85.5h.7M271.5 80.5h.7M277 100h.7M262.5 101h.7M274.5 90h.7M273.5 83h.7M259.5 86h.7M268 84h.7M267.5 86.5h.7M260 85.5h.7M260 91h.7M283 85h.7M275 79.5h.7M264 78h.7M265 97.5h.7M274 91.5h.7M267 103h.7M266 81h.7M274.5 95.5h.7M261.5 98.5h.7M272.5 79.5h.7M270.5 87h.7M267.5 96.5h.7M259 92h.7M273.5 87.5h.7M267.5 102h.7M271.5 88.5h.7M265 95.5h.7M267 90h.7M262.5 87h.7M261 78.5h.7M270.5 88h.7M285 92h.7M265 91.5h.7M269.5 84.5h.7M271.5 90.5h.7M273 84h.7M259 93.5h.7M278 99h.7M269.5 97.5h.7M272.5 95h.7M271 83.5h.7M269.5 94h.7M269.5 90h.7M259.5 100h.7M261 84.5h.7M264.5 97.5h.7M272.5 87h.7M258.5 94.5h.7M262.5 89h.7M266.5 93.5h.7M265.5 83h.7M259 82.5h.7M273.5 95h.7M266.5 79.5h.7M260 82.5h.7M270 96h.7M272.5 99.5h.7M264.5 82.5h.7M279 97.5h.7M277.5 79.5h.7M271 92h.7M263 92h.7M268 98h.7M263.5 91h.7M258.5 81h.7M268 95.5h.7M260.5 90.5h.7M266 92h.7M282 86.5h.7M270 94h.7M277.5 94.5h.7M262 91h.7M272.5 77.5h.7M266.5 85h.7M265 84.5h.7M268 87.5h.7M272 98.5h.7M266.5 90h.7M282 87h.7M274.5 94.5h.7M259 93h.7M259.5 97h.7M261.5 89h.7M260.5 86.5h.7M260 77.5h.7M277.5 88.5h.7M262.5 85.5h.7M274 89.5h.7M268.5 84.5h.7M275 97.5h.7M268 97h.7M270.5 92.5h.7M258.5 98.5h.7M275 88h.7M282 90.5h.7M267 92h.7M276.5 86.5h.7M266 98h.7M265.5 89h.7M259 87h.7M275.5 87h.7M268 92.5h.7M262 98.5h.7M267 93.5h.7M258 93h.7M269.5 70h.7M264.5 75h.7M261 86.5h.7M270.5 94.5h.7M280 86.5h.7M266 85.5h.7M274 89h.7M279 87.5h.7M267 90.5h.7M262 96h.7M265 86.5h.7M259.5 86.5h.7M272 87h.7M259 94h.7M269 95.5h.7M259.5 81.5h.7M263.5 85h.7M269.5 94.5h.7M258.5 88h.7M269 81.5h.7M261.5 78.5h.7M263 91.5h.7M268 79h.7M265 84h.7M266.5 95h.7M258.5 78.5h.7M269 99h.7M278.5 83h.7M264 80.5h.7M271 94h.7M275.5 83h.7M259.5 84.5h.7M274 100.5h.7M266 86h.7M265.5 99h.7M270 90.5h.7M272.5 80.5h.7M272.5 90.5h.7M266.5 92.5h.7M271 80.5h.7M271.5 90h.7M266 88h.7M271 83h.7M258 82h.7M268 76.5h.7M272 91h.7M266.5 79h.7M259 76h.7M267 82.5h.7M271.5 75h.7M270 96.5h.7M266.5 81h.7M270.5 103h.7M268.5 93.5h.7M263.5 104h.7M259 90h.7M276 93h.7M280 85h.7M277 88h.7M273.5 98h.7M259.5 95h.7M273 95h.7M268.5 86h.7M263.5 98.5h.7M259.5 93h.7M269 98.5h.7M273.5 74.5h.7M270 88.5h.7M265.5 81.5h.7M259 84.5h.7M274.5 85.5h.7M264.5 91.5h.7M277 89.5h.7M262.5 84.5h.7M259.5 102h.7M285 91.5h.7M263.5 102.5h.7M274 79h.7M262 87.5h.7M263 103.5h.7M275 95.5h.7M268.5 102h.7M259 88h.7M268.5 85h.7M259 79h.7M272.5 98.5h.7M279 85.5h.7M278 91h.7M276.5 88.5h.7M268 99h.7M262 88.5h.7M265.5 87h.7M266 85h.7M266.5 97h.7M278 93.5h.7M271.5 88h.7M270.5 91.5h.7M262 83.5h.7M267.5 98h.7M287.5 88h.7M265 86h.7M264 97h.7M269.5 107h.7M274.5 82h.7M268.5 88.5h.7M264.5 93.5h.7M262.5 94h.7M268.5 87.5h.7M267 89h.7M272.5 91.5h.7M268.5 91h.7M271.5 83h.7M259.5 103.5h.7M271 94.5h.7M269 99.5h.7M264.5 95h.7M271.5 97h.7M273.5 81.5h.7M266.5 80h.7M270.5 83h.7M274 85h.7M261 89.5h.7M268.5 102.5h.7M265 97h.7M264 91h.7M279 96.5h.7M272 92h.7M269.5 93h.7M267 95h.7M277.5 85h.7M274.5 84h.7M274.5 101.5h.7M271.5 80h.7M260 89h.7M266.5 103h.7M273.5 96.5h.7M263 96.5h.7M266 86.5h.7M274.5 89.5h.7M272 99h.7M267 75.5h.7M265.5 74.5h.7M258.5 86h.7M272 92.5h.7M291.5 90h.7M269 107h.7M259.5 76h.7M275 104h.7M274.5 122h.7M271 104h.7M270.5 106h.7M278 114h.7M277 109h.7M274.5 119h.7M269.5 116.5h.7M262 120h.7M265.5 100.5h.7M271 108.5h.7M259.5 120.5h.7M273.5 112.5h.7M261.5 121h.7M267 108.5h.7M266.5 114.5h.7M269 105.5h.7M263 115.5h.7M274 125h.7M271.5 113.5h.7M276 110h.7M267.5 107.5h.7M268 99.5h.7M271.5 114.5h.7M273.5 109.5h.7M267.5 111.5h.7M263.5 103.5h.7M268 102h.7M268.5 112.5h.7M269 119.5h.7M266 125h.7M259.5 116.5h.7M275.5 101.5h.7M258 111h.7M269 115.5h.7M275 122h.7M280 119.5h.7M275.5 115.5h.7M272 116h.7M283 113h.7M271 123.5h.7M272 114.5h.7M271 102.5h.7M261 85h.7M265 111h.7M272 110h.7M282.5 96h.7M273.5 118h.7M270.5 108h.7M264 121.5h.7M272 113h.7M274 126.5h.7M262.5 101.5h.7M262 118.5h.7M275.5 105.5h.7M270 114.5h.7M282.5 107h.7M266 118.5h.7M283 119.5h.7M286 115h.7M260 105.5h.7M274.5 124.5h.7M274 113h.7M265 114h.7M270 100h.7M268.5 114.5h.7M281.5 113.5h.7M262.5 112h.7M261.5 115.5h.7M261.5 93h.7M265 109.5h.7M266 114h.7M270 109h.7M274 109h.7M277 123.5h.7M280.5 100h.7M272.5 103.5h.7M265.5 99.5h.7M269.5 107.5h.7M274.5 120h.7M261 103h.7M267 100.5h.7M259.5 122h.7M275 98h.7M278.5 115h.7M269.5 128h.7M279 123h.7M277 110.5h.7M261.5 111.5h.7M271 104.5h.7M269.5 113h.7M288.5 96.5h.7M262 122.5h.7M264.5 107.5h.7M278.5 120h.7M263.5 115h.7M270.5 130h.7M276.5 113.5h.7M266.5 106h.7M264 110h.7M272 106.5h.7M268 105.5h.7M263 113h.7M270 104.5h.7M265 105h.7M276.5 111h.7M260 107h.7M265 115.5h.7M259 111h.7M264 118.5h.7M269.5 100.5h.7M270.5 117h.7M266 106h.7M275 90.5h.7M276 104h.7M271.5 95.5h.7M277.5 108.5h.7M275 110.5h.7M265.5 123h.7M275 123h.7M270 112h.7M269.5 109.5h.7M282 105h.7M273.5 114.5h.7M269 116h.7M268.5 117.5h.7M270.5 123h.7M266.5 110h.7M270.5 119.5h.7M260.5 109.5h.7M265.5 118.5h.7M275.5 100.5h.7M280 117h.7M259.5 106h.7M272.5 103h.7M258.5 132.5h.7M260 99.5h.7M259 118h.7M272 135.5h.7M280.5 116.5h.7M267 106h.7M270.5 105h.7M260 104.5h.7M279 109.5h.7M267.5 115h.7M264.5 115h.7M265.5 108h.7M260.5 115h.7M263 108.5h.7M277 107h.7M274.5 113h.7M263 97.5h.7M270.5 111h.7M259 115h.7M273 105h.7M267.5 103h.7M258.5 114h.7M262.5 114.5h.7M267 115h.7M267.5 119.5h.7M276 120h.7M280 96.5h.7M275.5 99.5h.7M258.5 122h.7M267.5 118.5h.7M275.5 121h.7M266.5 120h.7M272 103h.7M268.5 116.5h.7M261.5 109.5h.7M259.5 120h.7M269 106.5h.7M284 114.5h.7M261.5 104.5h.7M273 110h.7M264.5 115.5h.7M270 111h.7M260.5 109h.7M276.5 108.5h.7M273 112.5h.7M270 118h.7M259 100h.7M272 101h.7M271.5 102h.7M278.5 100.5h.7M261 113h.7M268 114.5h.7M280 95.5h.7M262.5 105h.7M268.5 111.5h.7M267 127.5h.7M276 119.5h.7M274.5 100.5h.7M258 109.5h.7M265.5 121.5h.7M267.5 105h.7M264 114h.7M258.5 116.5h.7M267 117h.7M279 88.5h.7M261.5 105h.7M269 110.5h.7M262 103.5h.7M273 105.5h.7M272 104.5h.7M275.5 105h.7M267.5 115.5h.7M265 106.5h.7M266.5 126.5h.7M270.5 125.5h.7M271 110h.7M258 99h.7M260 96.5h.7M263 123.5h.7M267.5 95.5h.7M267.5 124h.7M266 110.5h.7M268.5 109h.7M270 115h.7M268 111.5h.7M273 99h.7M273 116.5h.7M271 106.5h.7M268 124h.7M269.5 112h.7M265.5 103.5h.7M274.5 117.5h.7M277.5 96h.7M269.5 129h.7M264.5 112h.7M272.5 110.5h.7M259.5 112.5h.7M259.5 113.5h.7M269 109h.7M271 118.5h.7M262 92.5h.7M266 106.5h.7M266.5 117.5h.7M274.5 103h.7M266 107.5h.7M272.5 108h.7M271.5 114h.7M270.5 121h.7M270.5 100h.7M264 107h.7M259 113.5h.7M282 111.5h.7M265 99.5h.7M269 116.5h.7M267.5 112h.7M279 102.5h.7M263 111.5h.7M269 124h.7M270.5 124h.7M262.5 107.5h.7M275 102h.7M265.5 110h.7M269 120h.7M270 120h.7M276 114h.7M264 116h.7M268.5 98h.7M270 93.5h.7M271.5 108h.7M271 107h.7M274 106.5h.7M264.5 113.5h.7M271.5 107h.7M276 111h.7M258.5 103h.7M274 117.5h.7M272.5 84.5h.7M274 126h.7M265.5 128h.7M272 111h.7M269.5 132.5h.7M271.5 100.5h.7M267 126.5h.7M277.5 102h.7M278.5 116.5h.7M265 121.5h.7M263.5 105h.7M259 116h.7M266 108h.7M272 85h.7M274 112.5h.7M275 103.5h.7M270.5 99.5h.7M274.5 115h.7M265 101h.7M281 120h.7M266.5 134h.7M266 121h.7M278 119.5h.7M259.5 108h.7M271.5 101h.7M267.5 108.5h.7M265 107h.7M269 118h.7M275.5 97.5h.7M267 107h.7M269.5 117.5h.7M258.5 109h.7M262.5 104.5h.7M268 127h.7M264.5 110.5h.7M270.5 101.5h.7M266.5 129h.7M274 97.5h.7M261.5 115h.7M258 112h.7M268.5 125.5h.7M263 119h.7M268.5 116h.7M265.5 104h.7M261.5 113.5h.7M267.5 107h.7M285.5 111.5h.7M259.5 108.5h.7M280 91h.7M263.5 109.5h.7M272.5 113h.7M277.5 103h.7M274 124h.7M277.5 114.5h.7M267.5 101h.7M259 110.5h.7M273.5 104.5h.7M291.5 106h.7M277.5 118h.7M260.5 95.5h.7M272 108.5h.7M264 101.5h.7M268.5 122h.7M264 96h.7M266.5 104h.7M275 120.5h.7M259.5 113h.7M258.5 109.5h.7M268.5 103h.7M269.5 124.5h.7M277 115h.7M265 120.5h.7M270 119.5h.7M272 119h.7M274 116h.7M262 99h.7M258 113.5h.7M274 101h.7M271 117.5h.7M266 102h.7M267 101h.7M264.5 105.5h.7M267 123.5h.7M261.5 103.5h.7M266 120.5h.7M263.5 128.5h.7M262 92h.7M271 98h.7M269 101h.7M267 114h.7M259.5 118h.7M260.5 112.5h.7M271.5 122.5h.7M261.5 90.5h.7M259 123.5h.7M259.5 99.5h.7M278 88.5h.7M270.5 111.5h.7M269.5 118h.7M263.5 116.5h.7M277.5 113h.7M259.5 114.5h.7M267.5 113.5h.7M263.5 106h.7M267 118h.7M267 112h.7M264.5 109h.7M263 104.5h.7M279 110.5h.7M272.5 112h.7M282 100.5h.7M264.5 119h.7M262.5 108h.7M272 126.5h.7M259.5 106.5h.7M261 105.5h.7M272 112.5h.7M278 97h.7M275 100.5h.7M268 107h.7M264.5 100h.7M267 114.5h.7M286 104h.7M259.5 104h.7M259 105.5h.7M269 114.5h.7M275 101.5h.7M274.5 102h.7M265.5 95h.7M270.5 118h.7M277.5 101h.7M263 116.5h.7M260 120.5h.7M268 115h.7M273 111.5h.7M262.5 113.5h.7M273 126h.7M266 118h.7M263.5 107.5h.7M261 114.5h.7M274.5 124h.7M262 109.5h.7M259 108h.7M266 112h.7M259 117h.7M270.5 114.5h.7M270 105.5h.7M270.5 122h.7M283.5 128h.7M270.5 97.5h.7M277 117.5h.7M264.5 106h.7M264 101h.7M264 112.5h.7M272 119.5h.7M263 80h.7M268 114h.7M270 110h.7M269.5 117h.7M278 128h.7M261 117h.7M268 115.5h.7M279 113.5h.7M263 114.5h.7M281 108.5h.7M267.5 102.5h.7M260.5 116h.7M266.5 102.5h.7M281 118.5h.7M264.5 132h.7M267 121h.7M263.5 121h.7M266 115h.7M269 100.5h.7M273 102.5h.7M259 110h.7M271 100h.7M273 87.5h.7M268 91.5h.7M259.5 110h.7M266 112.5h.7M264.5 104h.7M273.5 106.5h.7M267.5 114.5h.7M262.5 115h.7M275 112.5h.7M271.5 111.5h.7M269 115h.7M266 115.5h.7M267 116.5h.7M272 108h.7M267.5 120.5h.7M263 105h.7M265.5 96.5h.7M271.5 118h.7M271 108h.7M269 111.5h.7M271.5 137h.7M275.5 113.5h.7M261.5 106.5h.7M267.5 111h.7M259 117.5h.7M263 108h.7M273.5 105.5h.7M269.5 110.5h.7M278 118.5h.7M282.5 98h.7M274.5 112.5h.7M269 112.5h.7M276.5 108h.7M272 116.5h.7M264 102.5h.7M265 110.5h.7M277.5 106.5h.7M266 99h.7M262 93h.7M266.5 122h.7M263 115h.7M262.5 115.5h.7M281.5 98.5h.7M274 105h.7M258.5 112h.7M261 104h.7M272 91.5h.7M258 108h.7M260 121h.7M260.5 110.5h.7M262 110.5h.7M262.5 116.5h.7M282.5 119.5h.7M258.5 121h.7M280.5 119h.7M259.5 123.5h.7M258 101h.7M276 118h.7M271.5 120h.7M262 113.5h.7M269.5 120h.7M267 123h.7M265 119.5h.7M266.5 105.5h.7M267 105.5h.7M277 111.5h.7M264.5 100.5h.7M260 106.5h.7M273 122.5h.7M277.5 103.5h.7M267.5 86h.7M263.5 120.5h.7M266.5 116h.7M268.5 113.5h.7M276 112h.7M274.5 118h.7M268 109.5h.7M272 120.5h.7M259 112.5h.7M261 97h.7M265 112.5h.7M275.5 128h.7M262.5 111h.7M270.5 109h.7M263 118h.7M272.5 120.5h.7M258.5 113h.7M266.5 117h.7M270 109.5h.7M270.5 113.5h.7M265 110h.7M268.5 111h.7M286 108h.7M260.5 120.5h.7M272.5 124.5h.7M267 120h.7M275 109h.7M261.5 119.5h.7M266 114.5h.7M258.5 106.5h.7M284 115h.7M274 114.5h.7M268 116.5h.7M265 113h.7M269.5 123h.7M264.5 117.5h.7M268.5 122.5h.7M283.5 129.5h.7M275 115.5h.7M280.5 85h.7M266 103h.7M258.5 105.5h.7M283 99.5h.7M271 125.5h.7M260.5 117h.7M259.5 116h.7M271 130h.7M268 110.5h.7M274 129.5h.7M264.5 106.5h.7M262.5 99h.7M274.5 110.5h.7M267.5 121.5h.7M264 121h.7M269.5 116h.7M260.5 96h.7M271 117h.7M269 124.5h.7M265 102.5h.7M268 103.5h.7M277 104.5h.7M265.5 108.5h.7M270 116h.7M280.5 99.5h.7M263.5 101h.7M268 116h.7M261 112.5h.7M259.5 105h.7M270.5 101h.7M269 108.5h.7M258.5 114.5h.7M266.5 105h.7M270 129h.7M269 106h.7M265.5 109.5h.7M269.5 101.5h.7M271 143.5h.7M271.5 117h.7M267 110h.7M272 126h.7M274 108.5h.7M261.5 110.5h.7M275.5 129h.7M264 108h.7M273.5 107.5h.7M259.5 111h.7M278 126.5h.7M268 108.5h.7M275 105h.7M260 116.5h.7M268 110h.7M269 132h.7M271.5 120.5h.7M262 123.5h.7M264 114.5h.7M262.5 105.5h.7M274.5 114.5h.7M263.5 106.5h.7M266.5 132h.7M260.5 98.5h.7M264 104h.7M276.5 112.5h.7M277.5 112.5h.7M262.5 111.5h.7M273 120h.7M274 100h.7M258 120h.7M264 106h.7M264.5 128h.7M266 147h.7M275 128h.7M272.5 125h.7M264.5 140h.7M271 124.5h.7M261.5 139h.7M263 145h.7M274 130h.7M270 124.5h.7M267.5 138.5h.7M268 135.5h.7M274 127h.7M269.5 139.5h.7M272.5 119h.7M268 131.5h.7M270.5 137h.7M275.5 136.5h.7M275 132h.7M272 145h.7M270.5 149h.7M270.5 123.5h.7M266 134h.7M262 126.5h.7M268.5 126.5h.7M271 136h.7M270 138h.7M278.5 128h.7M272 139.5h.7M260 148.5h.7M275.5 134.5h.7M271 148.5h.7M289.5 125h.7M275.5 133h.7M276.5 144h.7M265.5 126h.7M276 149h.7M272.5 127.5h.7M266.5 144.5h.7M266 149h.7M265 139.5h.7M279 133h.7M267.5 116.5h.7M259 121.5h.7M275.5 141h.7M277 135h.7M283 143h.7M271.5 147.5h.7M262.5 146.5h.7M273 142.5h.7M259.5 124.5h.7M276.5 137h.7M281.5 121.5h.7M286.5 141h.7M270 146.5h.7M274 139h.7M271.5 136h.7M274 142h.7M273.5 130.5h.7M273 129h.7M274 137.5h.7M263.5 133.5h.7M273 135.5h.7M270 142h.7M273.5 130h.7M264 120h.7M271 143h.7M280 123h.7M268.5 127.5h.7M264 133h.7M275 145h.7M268 132.5h.7M269.5 126.5h.7M276.5 126h.7M263.5 139h.7M264.5 143h.7M259.5 145h.7M277 116h.7M266 136.5h.7M268 133h.7M262 144.5h.7M270 141.5h.7M269 117.5h.7M273.5 133.5h.7M272.5 118.5h.7M264 127h.7M277 148.5h.7M270.5 144.5h.7M258.5 132h.7M276 143.5h.7M279 144h.7M268 147h.7M270.5 132.5h.7M287 139.5h.7M261.5 136h.7M275.5 132.5h.7M278 128.5h.7M279 131.5h.7M274.5 148.5h.7M275 135.5h.7M284 133.5h.7M273.5 129h.7M276 131.5h.7M259 125.5h.7M264.5 137.5h.7M267 127h.7M267 147h.7M269 126h.7M258 140h.7M272 141.5h.7M271 127.5h.7M277 122.5h.7M268.5 124h.7M266.5 148.5h.7M278.5 139h.7M265 132.5h.7M268.5 138.5h.7M262.5 144.5h.7M271 149h.7M266.5 149h.7M269 138h.7M274.5 131.5h.7M268.5 138h.7M273 140h.7M263.5 137h.7M274.5 137h.7M279.5 138h.7M264 139.5h.7M261 138h.7M269.5 121h.7M261.5 146h.7M273.5 139.5h.7M261.5 147.5h.7M270.5 135h.7M277 117h.7M269 134.5h.7M263.5 139.5h.7M266.5 146.5h.7M274 144h.7M259.5 135h.7M258.5 137h.7M278.5 145h.7M273 132h.7M268 140.5h.7M264.5 124.5h.7M264 124h.7M272.5 126h.7M267.5 146h.7M265 137.5h.7M273 136h.7M261.5 133.5h.7M270 130h.7M276 142.5h.7M277.5 129h.7M263 144h.7M280.5 148.5h.7M269.5 123.5h.7M260.5 128h.7M273.5 134.5h.7M272 130.5h.7M259 133.5h.7M270 128h.7M275.5 135.5h.7M262.5 130.5h.7M274.5 123h.7M282 128.5h.7M271 131.5h.7M280.5 126h.7M269.5 141h.7M269.5 142.5h.7M277.5 123.5h.7M272 134h.7M272 140h.7M268 142.5h.7M270.5 133.5h.7M272.5 131.5h.7M265.5 129.5h.7M265.5 132h.7M274.5 138h.7M275 147.5h.7M271 138h.7M263.5 147h.7M270.5 118.5h.7M260.5 130h.7M271.5 140h.7M274.5 138.5h.7M264.5 126.5h.7M270 122.5h.7M261 135.5h.7M284.5 148.5h.7M265 142.5h.7M271 120h.7M274 134.5h.7M268 127.5h.7M274.5 149h.7M273.5 127.5h.7M265 141.5h.7M275.5 122.5h.7M266.5 141h.7M274.5 134h.7M276.5 137.5h.7M273 130.5h.7M269 136h.7M269 129h.7M262 141.5h.7M278 136.5h.7M272.5 141h.7M267.5 137.5h.7M260 148h.7M268 130.5h.7M261.5 140h.7M278.5 139.5h.7M269 141h.7M277 131.5h.7M263.5 141h.7M267 136h.7M278 147h.7M280 147.5h.7M267 133h.7M275 138h.7M267 138.5h.7M273.5 131h.7M268 125.5h.7M265.5 144h.7M273.5 146h.7M270.5 128h.7M263 134.5h.7M258.5 137.5h.7M260 140.5h.7M264.5 145h.7M262.5 132.5h.7M279 122h.7M274 129h.7M276.5 131h.7M279.5 144h.7M268.5 132h.7M268 137.5h.7M272 144h.7M279.5 138.5h.7M260 132.5h.7M271 140.5h.7M273 134.5h.7M260.5 119.5h.7M275 128.5h.7M259.5 119h.7M271 121h.7M263 131.5h.7M269 141.5h.7M274.5 145.5h.7M269 133.5h.7M266.5 130h.7M270.5 148h.7M273.5 135h.7M268 139.5h.7M264 132.5h.7M268.5 134.5h.7M272.5 132.5h.7M280.5 122.5h.7M273 129.5h.7M275 148h.7M279.5 130h.7M271 134h.7M268.5 114h.7M265.5 130h.7M274 136h.7M272 134.5h.7M279 124h.7M288 135h.7M267.5 133h.7M272.5 123h.7M267.5 148h.7M267 139.5h.7M262.5 135.5h.7M271.5 138h.7M266 134.5h.7M270.5 126.5h.7M274.5 136h.7M259 129h.7M276 122h.7M270 134.5h.7M264.5 142h.7M264 131h.7M269.5 148.5h.7M277.5 123h.7M277 130h.7M262.5 125h.7M269 142.5h.7M258 129.5h.7M278 132.5h.7M280 134h.7M271.5 148h.7M258 145.5h.7M265 122.5h.7M273.5 125.5h.7M266.5 133h.7M273.5 137.5h.7M275 144.5h.7M282.5 115h.7M271.5 126.5h.7M271.5 145h.7M262.5 144h.7M268.5 144h.7M282.5 135.5h.7M268 131h.7M267.5 144h.7M266.5 138.5h.7M277.5 138h.7M264 124.5h.7M263.5 129h.7M276.5 118h.7M281 141h.7M271 131h.7M266.5 144h.7M275.5 130.5h.7M263.5 148.5h.7M274 133h.7M274 127.5h.7M272 131.5h.7M261.5 134h.7M293.5 127h.7M267 126h.7M270.5 133h.7M267 124.5h.7M274 144.5h.7M269 135.5h.7M263.5 133h.7M279 144.5h.7M276 121.5h.7M259 142.5h.7M272.5 146.5h.7M261 127.5h.7M277 138.5h.7M266.5 123h.7M266 132h.7M277 124.5h.7M277.5 124.5h.7M269.5 136h.7M271 128.5h.7M281.5 133.5h.7M258 139.5h.7M270.5 138.5h.7M275.5 137h.7M261 129h.7M270.5 126h.7M273.5 128.5h.7M274 138h.7M272 142.5h.7M265.5 148.5h.7M275.5 144h.7M274 145.5h.7M271.5 135h.7M271 133.5h.7M274.5 135.5h.7M270 134h.7M275 140h.7M274.5 139.5h.7M276.5 133h.7M265 139h.7M268.5 133.5h.7M270.5 135.5h.7M267.5 135.5h.7M269.5 133.5h.7M272 124h.7M263.5 134.5h.7M263 147h.7M274.5 143h.7M265.5 129h.7M268 132h.7M282.5 131.5h.7M285 127.5h.7M258.5 129.5h.7M272 121.5h.7M265 123h.7M271 144h.7M259.5 127.5h.7M275.5 133.5h.7M266 140h.7M274.5 130.5h.7M267 135.5h.7M266 139.5h.7M264.5 128.5h.7M273 121h.7M272.5 148.5h.7M262.5 123h.7M284 136.5h.7M261 131h.7M269.5 131.5h.7M272 120h.7M259 140.5h.7M283.5 127.5h.7M273 127h.7M275 130h.7M264 130.5h.7M270.5 132h.7M281 135.5h.7M272 133h.7M270 148.5h.7M272 128h.7M274.5 121.5h.7M279 129.5h.7M261 125h.7M263.5 146h.7M282.5 125.5h.7M271.5 130h.7M275.5 147.5h.7M267.5 124.5h.7M278 130.5h.7M263 139h.7M275 127.5h.7M275 114.5h.7M267 134.5h.7M275 136.5h.7M280 135h.7M259.5 132h.7M268.5 144.5h.7M273 146h.7M260 144.5h.7M271.5 123h.7M271 136.5h.7M266.5 135.5h.7M267 125h.7M265 136h.7M274 131h.7M275 139h.7M263 121h.7M260.5 133h.7M265 141h.7M265.5 130.5h.7M268 128h.7M270.5 145h.7M271 138.5h.7M266.5 131h.7M279 123.5h.7M271.5 130.5h.7M266 145.5h.7M269 143.5h.7M263 122.5h.7M267.5 129.5h.7M258.5 138.5h.7M261.5 125.5h.7M268.5 139.5h.7M271 135h.7M270 126.5h.7M268.5 148h.7M274.5 135h.7M277.5 121.5h.7M286.5 130.5h.7M267.5 126h.7M271.5 132h.7M273.5 136h.7M282.5 138h.7M269.5 135.5h.7M277.5 131h.7M267 131.5h.7M275.5 145h.7M271 139.5h.7M261.5 139.5h.7M265 147.5h.7M281 134.5h.7M275 142h.7M276.5 148.5h.7M278 148h.7M261.5 138h.7M264 138.5h.7M267.5 144.5h.7M277 127.5h.7M269.5 127h.7M273 138.5h.7M277 144h.7M258 130h.7M261 136.5h.7M273 141.5h.7M271 130.5h.7M262 136.5h.7M259 134h.7M269.5 125h.7M264 132h.7M270 135h.7M275.5 131h.7M261.5 143.5h.7M263.5 148h.7M262 125h.7M262.5 131h.7M266 144.5h.7M271.5 134.5h.7M279 131h.7M265 127.5h.7M285.5 137.5h.7M259 143h.7M279.5 135h.7M263.5 136h.7M263 125h.7M266.5 141.5h.7M269.5 145.5h.7M265 134.5h.7M271.5 127h.7M259.5 141h.7M263 126.5h.7M280 122.5h.7M274.5 144.5h.7M278.5 130h.7M270.5 143.5h.7M267 132h.7M258.5 133.5h.7M262.5 131.5h.7M259.5 126h.7M265.5 142h.7M265.5 140.5h.7M260.5 134.5h.7M269.5 143h.7M278 120h.7M271.5 133.5h.7M262 132h.7M268.5 139h.7M265 124h.7M266.5 118h.7M274.5 131h.7M271.5 143.5h.7M264.5 129h.7M271.5 148.5h.7M276 143h.7M266 131h.7M273 125h.7M271.5 124h.7M259 136h.7M264 123h.7M261 143.5h.7M263.5 142.5h.7M258.5 125.5h.7M262.5 147.5h.7M270 132h.7M284.5 142.5h.7M260.5 140.5h.7M280.5 143h.7M271 109h.7M263.5 135.5h.7M270.5 146h.7M266.5 143.5h.7M264 146h.7M282 132h.7M261.5 120.5h.7M268.5 137h.7M267.5 149h.7M267 137.5h.7M280 137.5h.7M278.5 125h.7M276.5 145.5h.7M261 141.5h.7M274 134h.7M276 140h.7M263.5 138h.7M279 134h.7M273.5 121.5h.7M263.5 142h.7M267 133.5h.7M272 130h.7M268 123.5h.7M273 133.5h.7M271 142h.7M266.5 133.5h.7M276 124.5h.7M263 128.5h.7M279.5 139.5h.7M272.5 130.5h.7M273.5 134h.7M277 122h.7M276.5 125.5h.7M262.5 135h.7M261 134h.7M258.5 142h.7M274.5 140.5h.7M286 114.5h.7M285 119h.7M265 120h.7M265.5 147h.7M263.5 135h.7M281 118h.7M287 121h.7M258.5 82h.7M276.5 123.5h.7M281.5 133h.7M285.5 98h.7M281.5 146h.7M268 142h.7M282.5 131h.7M284.5 82h.7M275.5 94h.7M281.5 84h.7M271.5 129.5h.7M272 112h.7M265 146h.7M287.5 122h.7M287.5 90h.7M276 97.5h.7M264 117.5h.7M279 105h.7M286 87.5h.7M273 139h.7M273 115.5h.7M268 144h.7M276.5 83h.7M261.5 102.5h.7M281 140h.7M283 133h.7M281 139h.7M279 121.5h.7M282 89h.7M282.5 142.5h.7M267.5 99.5h.7M276.5 97.5h.7M281.5 96h.7M258.5 148.5h.7M260 118h.7M287.5 126h.7M284.5 139.5h.7M265.5 102h.7M286.5 138.5h.7M275 100h.7M286 90h.7M260 147h.7M286.5 85.5h.7M273 120.5h.7M287.5 104.5h.7M288 139.5h.7M280 141h.7M275.5 124h.7M258.5 140h.7M262 145.5h.7M270.5 93.5h.7M283 148.5h.7M273.5 132.5h.7M285 147h.7M269 142h.7M283.5 94.5h.7M267.5 89.5h.7M261.5 100.5h.7M258.5 101h.7M287.5 112h.7M283 122h.7M281 99.5h.7M259.5 142h.7M278 86.5h.7M278 85h.7M262 134h.7M286 107.5h.7M260 136.5h.7M261.5 126.5h.7M281.5 118.5h.7M258 102h.7M277 120.5h.7M263.5 99h.7M278 102.5h.7M285.5 119h.7M283.5 121h.7M264 126h.7M269.5 100h.7M286.5 106.5h.7M275 143.5h.7M281.5 88.5h.7M272.5 148h.7M280 97.5h.7M278.5 114.5h.7M259.5 133h.7M314 109h.7M307 76.5h.7M334 80.5h.7M334.5 79.5h.7M306 117h.7M299.5 88.5h.7M335.5 118.5h.7M329.5 90h.7M333.5 104h.7M338.5 111.5h.7M297.5 93.5h.7M317 71h.7" stroke="#000" stroke-width="0.7" fill="none"/>
<text x="259" y="45.5" font-size="3.8" font-weight="bold" text-anchor="start" stroke="#000" stroke-width="0.12">D1</text>
<text x="259.4" y="51.1" font-size="3.9" font-weight="bold" text-anchor="start" stroke="#000" stroke-width="0.12">92.6%</text>
<text x="290.3" y="45.5" font-size="3.8" font-weight="bold" text-anchor="start" stroke="#000" stroke-width="0.12">D2</text>
<text x="290.7" y="51.1" font-size="3.9" font-weight="bold" text-anchor="start" stroke="#000" stroke-width="0.12">0.1%</text>
<text x="259" y="124.5" font-size="3.8" font-weight="bold" text-anchor="start" stroke="#000" stroke-width="0.12">D3</text>
<text x="259.4" y="130.1" font-size="3.9" font-weight="bold" text-anchor="start" stroke="#000" stroke-width="0.12">7.2%</text>
<text x="290.3" y="124.5" font-size="3.8" font-weight="bold" text-anchor="start" stroke="#000" stroke-width="0.12">D4</text>
<text x="290.7" y="130.1" font-size="3.9" font-weight="bold" text-anchor="start" stroke="#000" stroke-width="0.12">0.1%</text>
<text x="341.5" y="55.4" font-size="13.6" font-weight="bold" text-anchor="start" >0.1%</text>
<path d="M107.7 172.7H227.5" stroke="#808080" stroke-width="1.1" fill="none"/>
<path d="M227.5 172.2V281.2" stroke="#666" stroke-width="1" fill="none"/>
<path d="M107.7 172.2V281.2H228.0" stroke="#333" stroke-width="1.2" fill="none"/>
<path d="M145.4 172.7V281.2" stroke="#3a3a3a" stroke-width="1.0" fill="none"/>
<path d="M107.7 251.5H227.5" stroke="#3a3a3a" stroke-width="1.0" fill="none"/>
<path d="M105.5 273.0H107.7M105.5 268.3H107.7M105.5 264.9H107.7M105.5 262.2H107.7M105.5 260.1H107.7M105.5 258.3H107.7M105.5 256.7H107.7M105.5 255.3H107.7M105.5 245.9H107.7M105.5 241.1H107.7M105.5 237.7H107.7M105.5 235.1H107.7M105.5 233.0H107.7M105.5 231.2H107.7M105.5 229.6H107.7M105.5 228.2H107.7M105.5 218.8H107.7M105.5 214.0H107.7M105.5 210.6H107.7M105.5 208.0H107.7M105.5 205.8H107.7M105.5 204.0H107.7M105.5 202.5H107.7M105.5 201.1H107.7M105.5 191.7H107.7M105.5 186.9H107.7M105.5 183.5H107.7M105.5 180.9H107.7M105.5 178.7H107.7M105.5 176.9H107.7M105.5 175.3H107.7M105.5 173.9H107.7M103.7 254.1H107.7M103.7 226.9H107.7M103.7 199.8H107.7M103.7 172.7H107.7M116.7 281.2V283.2M122.0 281.2V283.2M125.7 281.2V283.2M128.6 281.2V283.2M131.0 281.2V283.2M133.0 281.2V283.2M134.7 281.2V283.2M136.3 281.2V283.2M137.7 281.2V284.7M146.7 281.2V283.2M151.9 281.2V283.2M155.7 281.2V283.2M158.6 281.2V283.2M161.0 281.2V283.2M163.0 281.2V283.2M164.7 281.2V283.2M166.2 281.2V283.2M167.6 281.2V284.7M176.6 281.2V283.2M181.9 281.2V283.2M185.6 281.2V283.2M188.5 281.2V283.2M190.9 281.2V283.2M192.9 281.2V283.2M194.6 281.2V283.2M196.2 281.2V283.2M197.5 281.2V284.7M206.6 281.2V283.2M211.8 281.2V283.2M215.6 281.2V283.2M218.5 281.2V283.2M220.9 281.2V283.2M222.9 281.2V283.2M224.6 281.2V283.2M226.1 281.2V283.2M227.5 281.2V284.7" stroke="#333" stroke-width="0.8" fill="none"/>
<text x="102.7" y="255.6" font-size="4.2" font-weight="bold" text-anchor="end" stroke="#000" stroke-width="0.15">10</text>
<text x="102.7" y="228.4" font-size="4.2" font-weight="bold" text-anchor="end" stroke="#000" stroke-width="0.15">10</text>
<text x="102.7" y="201.3" font-size="4.2" font-weight="bold" text-anchor="end" stroke="#000" stroke-width="0.15">10</text>
<text x="102.7" y="174.2" font-size="4.2" font-weight="bold" text-anchor="end" stroke="#000" stroke-width="0.15">10</text>
<text x="138.2" y="291.2" font-size="4.2" font-weight="bold" text-anchor="middle" stroke="#000" stroke-width="0.15">10</text>
<text x="168.1" y="291.2" font-size="4.2" font-weight="bold" text-anchor="middle" stroke="#000" stroke-width="0.15">10</text>
<text x="198.1" y="291.2" font-size="4.2" font-weight="bold" text-anchor="middle" stroke="#000" stroke-width="0.15">10</text>
<text x="225.0" y="291.2" font-size="4.2" font-weight="bold" text-anchor="middle" stroke="#000" stroke-width="0.15">10</text>
<path d="M117 218h1M128 217h1M129 230h1M120 217h1M133 220h1M124 226h1M123 222h1M134 210h1M116 218h1M127 223h1M131 221h1M129 234h1M125 218h1M123 226h1M125 222h1M120 221h1M122 224h1M127 222h1M133 214h1M122 220h1M127 224h1M125 223h1M125 225h1M118 223h1M120 227h1M127 216h1M132 224h1M117 229h1M136 229h1M119 220h1M120 233h1M124 218h1M117 222h1M128 222h1M119 225h1M125 234h1M132 222h1M129 224h1M123 213h1M129 216h1M126 214h1M113 221h1M118 215h1M130 224h1M118 218h1M127 225h1M128 221h1M136 217h1M136 216h1M137 223h1M127 217h1M130 225h1M129 212h1M137 210h1M126 210h1M124 224h1M118 222h1M126 224h1M126 225h1M131 225h1M133 229h1M122 218h1M122 226h1M125 227h1M126 221h1M119 223h1M123 231h1M126 223h1M131 220h1M126 220h1M126 232h1M114 220h1M115 230h1M134 225h1M131 217h1M126 230h1M137 218h1M119 224h1M135 227h1M128 225h1M129 222h1M120 226h1M129 227h1M126 219h1M131 227h1M137 214h1M123 220h1M140 208h1M132 217h1M119 227h1M118 220h1M124 228h1M130 219h1M129 218h1M132 209h1M134 214h1M128 228h1M131 223h1M120 220h1M130 214h1M122 217h1M125 224h1M129 209h1M125 219h1M121 224h1M131 218h1M119 221h1M125 226h1M115 218h1M123 217h1M120 224h1M128 224h1M128 216h1M122 229h1M133 224h1M121 219h1M136 211h1M122 216h1M130 229h1M121 221h1M118 214h1M123 219h1M120 230h1M126 216h1M129 220h1M124 219h1M135 216h1M119 215h1M117 230h1M136 213h1M134 217h1M120 222h1M128 231h1M129 219h1M114 218h1M128 229h1M126 215h1M123 216h1M130 222h1M120 229h1M127 226h1M135 221h1M116 227h1M132 218h1M133 223h1M129 228h1M127 215h1M131 224h1M130 212h1M135 213h1M123 227h1M127 230h1M114 217h1M133 213h1M126 222h1M127 220h1M129 231h1M120 223h1M127 221h1M112 223h1M127 212h1M137 221h1M124 222h1M127 214h1M114 223h1M122 227h1M135 222h1M134 231h1M136 226h1M114 224h1M125 216h1M119 222h1M117 223h1M135 219h1M119 228h1M123 225h1M129 217h1M128 220h1M135 225h1M122 230h1M129 221h1M128 214h1M139 208h1M136 224h1M125 220h1M121 228h1M121 226h1M122 219h1M125 228h1M130 231h1M130 221h1M119 218h1M127 218h1M134 219h1M127 219h1M125 221h1M114 225h1M122 234h1M124 213h1M122 223h1M133 212h1M129 225h1M132 233h1M128 215h1M114 219h1M123 221h1M138 213h1M134 218h1M118 230h1M133 227h1M130 220h1M116 222h1M125 235h1M128 218h1M117 226h1M123 228h1M122 215h1M116 228h1M131 212h1M122 221h1M124 217h1M116 221h1M123 218h1M128 219h1M124 233h1M122 222h1M133 217h1M131 222h1M125 217h1M124 227h1M136 218h1M133 222h1M124 220h1M118 219h1M121 217h1M121 227h1M134 224h1M126 226h1M132 230h1M117 224h1M117 221h1M122 225h1M129 226h1M127 228h1M136 220h1M127 229h1M126 227h1M120 225h1M132 227h1M113 226h1M132 215h1M117 217h1M114 227h1M123 233h1M131 214h1M131 226h1M124 221h1M135 217h1M126 228h1M135 220h1M111 227h1M128 213h1M117 228h1M133 225h1M131 216h1M121 216h1M118 217h1M134 221h1M128 226h1M135 208h1M136 219h1M116 229h1M121 215h1M119 219h1M120 228h1M115 224h1M126 238h1M128 230h1M131 230h1M120 215h1M136 223h1M130 226h1M118 221h1M130 217h1M130 228h1M128 223h1M118 229h1M133 226h1M133 218h1M113 225h1M126 211h1M121 218h1M132 221h1M113 220h1M123 224h1M125 233h1M115 217h1M131 215h1M133 215h1M122 228h1M126 231h1M131 234h1M134 229h1M126 233h1M134 216h1M124 229h1M136 227h1M131 219h1M116 230h1M134 220h1M119 229h1M136 214h1M121 225h1M133 228h1M133 221h1M127 232h1M126 229h1M116 220h1M134 223h1M121 222h1M131 228h1M137 222h1M127 227h1M124 232h1M116 224h1M132 216h1M125 213h1M136 221h1M121 229h1M112 222h1M125 231h1M114 226h1M129 236h1M129 223h1M124 225h1M135 223h1M130 223h1M135 229h1M116 225h1M130 215h1M117 220h1M123 214h1M123 223h1M135 228h1M115 220h1M127 213h1M132 210h1M126 218h1M130 237h1M132 214h1M115 227h1M125 230h1M128 237h1M121 230h1M130 218h1M135 211h1M130 211h1M136 215h1M125 229h1M137 226h1M117 225h1M118 226h1M139 212h1M113 224h1M132 219h1M123 230h1M121 232h1M134 226h1M121 223h1M120 218h1M118 227h1M120 231h1M137 216h1M134 215h1M129 214h1M134 228h1M129 213h1M138 216h1M137 219h1M134 222h1M135 218h1M128 211h1M138 219h1M121 220h1M128 232h1M127 233h1M119 231h1M128 234h1M135 224h1M110 221h1M132 213h1M125 215h1M117 213h1M114 230h1M131 235h1M121 234h1M133 219h1M125 214h1M124 216h1M128 210h1M123 215h1M120 216h1M130 216h1M132 223h1M131 213h1M137 220h1M110 219h1M116 216h1M124 215h1M114 222h1M121 233h1M121 231h1M139 216h1M126 212h1M138 224h1M119 232h1M115 223h1M120 232h1M129 233h1M139 214h1M114 221h1M136 225h1M118 224h1M126 213h1M137 208h1M117 232h1M119 226h1M110 220h1M117 227h1M133 208h1M122 231h1M124 212h1M136 228h1M133 230h1M124 230h1M138 214h1M118 228h1M121 213h1M117 231h1M115 222h1" stroke="#000" stroke-width="1" fill="none" shape-rendering="crispEdges" transform="translate(0,0.5)"/>
<path d="M122.5 221h.7M125 228.5h.7M127.5 237h.7M118.5 223.5h.7M118.5 228.5h.7M116.5 214.5h.7M120.5 237h.7M118 227h.7M132 233h.7M118.5 224h.7M131 222.5h.7M129.5 217h.7M123 217.5h.7M116 242.5h.7M113 221.5h.7M116.5 236.5h.7M118 218.5h.7M123 220.5h.7M120.5 223h.7M130 223.5h.7M127.5 220.5h.7M136 222.5h.7M120 221h.7M129 214.5h.7M117.5 230.5h.7M124 218h.7M133.5 222.5h.7M137.5 215h.7M129 233.5h.7M130.5 237h.7M134 226h.7M125 229.5h.7M137 223h.7M128 218h.7M123 225h.7M121.5 226h.7M128 230h.7M133.5 226h.7M130.5 229h.7M129.5 220.5h.7M126 226h.7M120 219h.7M112.5 223.5h.7M128.5 222.5h.7M134.5 228h.7M132 225.5h.7M119.5 229.5h.7M125.5 230.5h.7M129.5 224h.7M137 219.5h.7M133.5 220.5h.7M122 213.5h.7M129 225.5h.7M135 230.5h.7M123 233.5h.7M117 216h.7M125.5 215.5h.7M114.5 219h.7M117.5 229h.7M130 234h.7M128.5 213h.7M132 220h.7M128.5 241.5h.7M123.5 222.5h.7M128 228h.7M131.5 211.5h.7M121 219h.7M133.5 226.5h.7M136.5 219.5h.7M123 218.5h.7M133 228h.7M128 217.5h.7M128.5 228.5h.7M129 225h.7M126 221.5h.7M121 220h.7M125 217.5h.7M131 211.5h.7M118 228h.7M132.5 219h.7M128.5 217.5h.7M118.5 221h.7M132 219.5h.7M136 210h.7M129.5 219.5h.7M127 211.5h.7M120.5 218h.7M120 216h.7M133 217.5h.7M133.5 215.5h.7M121.5 222.5h.7M136 224.5h.7M126 224h.7M133.5 232h.7M123.5 220h.7M127.5 218h.7M117 228.5h.7M127 212h.7M117.5 216h.7M133.5 210h.7M113.5 228h.7M119.5 225.5h.7M122.5 217h.7M133.5 213h.7M129.5 212h.7M132.5 229h.7M131.5 219h.7M135 217.5h.7M129 232h.7M132.5 240.5h.7M126.5 219h.7M112.5 221.5h.7M130 221.5h.7M131.5 210.5h.7M119 229.5h.7M127 214h.7M120.5 232.5h.7M109.5 221.5h.7M127.5 232h.7M126.5 225h.7M135.5 222.5h.7M122 220.5h.7M135.5 226h.7M118 221h.7M132 226.5h.7M129.5 213.5h.7M135 225h.7M139 210.5h.7M133.5 227.5h.7M125.5 240.5h.7M133.5 212.5h.7M114 226.5h.7M115 220h.7M113 219.5h.7M128.5 221h.7M136.5 217.5h.7M127.5 222h.7M126.5 219.5h.7M134.5 209h.7M122 230h.7M125 218h.7M135 229h.7M125.5 233h.7M127 225h.7M125 226.5h.7M118.5 222h.7M119.5 218h.7M121.5 234.5h.7M126 228.5h.7M121 224.5h.7M133.5 217.5h.7M135 219.5h.7M124 229.5h.7M126 226.5h.7M118 222h.7M123.5 240h.7M121 228.5h.7M132.5 224.5h.7M112.5 215h.7M133 215.5h.7M124 214.5h.7M122 216h.7M134 221h.7M127 232.5h.7M121 220.5h.7M131 230h.7M122.5 218h.7M114.5 225h.7M138 219h.7M111.5 220.5h.7M130.5 212h.7M125 214.5h.7M136 219h.7M121.5 231h.7M123 224.5h.7M138.5 215.5h.7M123.5 213h.7M127.5 227.5h.7M128.5 227.5h.7M117.5 215h.7M136 227h.7M121.5 218h.7M116.5 227.5h.7M129.5 211.5h.7M120.5 234.5h.7M134 218.5h.7M120.5 216.5h.7M136.5 220h.7M133.5 214.5h.7M122 233.5h.7M125 222h.7M124.5 215h.7M139 205.5h.7M132.5 230.5h.7M125.5 216.5h.7M125 224h.7M127 219h.7M109.5 223h.7M124.5 240h.7M119 215.5h.7M130 215.5h.7M129.5 232h.7M125.5 228h.7M129 208h.7M133 230h.7M116.5 228.5h.7M114.5 222.5h.7M122.5 218.5h.7M116 223.5h.7M126 227h.7M126 214.5h.7M126.5 223h.7M111.5 222h.7M135.5 224h.7M121.5 235.5h.7M131 217.5h.7M132 209.5h.7M130 223h.7M138 217h.7M129.5 215.5h.7M123 215.5h.7M131 220h.7M127 211h.7M132.5 228.5h.7M130.5 221h.7M131.5 220.5h.7M126 223h.7M114.5 229.5h.7M122 239.5h.7M127.5 228.5h.7M121 214h.7M125 214h.7M130.5 216.5h.7M129.5 223.5h.7M134.5 212h.7M125 232h.7M125 227h.7M125.5 218.5h.7M121 234h.7M123 243.5h.7M132.5 230h.7M138 216h.7M118.5 236.5h.7M131 220.5h.7M126.5 236.5h.7M116.5 217.5h.7M119 216.5h.7M115 235.5h.7M122 224h.7M134.5 213h.7M127 224.5h.7M133.5 214h.7M133 220h.7M124 215h.7M115.5 223.5h.7M130.5 231h.7M124.5 239h.7M134 214.5h.7M116.5 225.5h.7M122.5 238h.7M133.5 224h.7M124.5 224h.7M126 234h.7M141.5 210.5h.7M133.5 228.5h.7M121.5 216h.7M133.5 217h.7M128.5 220h.7M125.5 236h.7M128 219h.7M123 234h.7M128 211.5h.7M134.5 227.5h.7M116 217.5h.7M128.5 214.5h.7M109 218h.7M127 216h.7M122 218.5h.7M127 227h.7M119.5 220.5h.7M129 223h.7M138 222h.7M128 221.5h.7M125.5 239h.7M111.5 223.5h.7M128.5 227h.7M134 210.5h.7M126 227.5h.7M121 226.5h.7M129 212h.7M126 218h.7M114 227.5h.7M114 225h.7M110 216.5h.7M122.5 227h.7M141 216.5h.7M131.5 229h.7M122.5 222h.7M133.5 223h.7M129 221h.7M141.5 212h.7M129 220.5h.7M133 216.5h.7M124.5 225.5h.7M125.5 222.5h.7M130.5 220.5h.7M131 234h.7M128 227.5h.7M118 221.5h.7M131.5 229.5h.7M126 228h.7M124.5 236.5h.7M119 231h.7M137 208.5h.7M122.5 215.5h.7M133.5 218h.7M128 236h.7M120.5 231h.7M125 230h.7M135 216.5h.7M135.5 225.5h.7M133 232h.7M125.5 232.5h.7M137 217.5h.7M138 215.5h.7M126.5 220h.7M131 231h.7M124.5 226.5h.7M117.5 228h.7M125.5 209h.7M126.5 237.5h.7M109.5 220.5h.7M132.5 232h.7M124 233h.7M135 218h.7M123 221h.7M140 216.5h.7M118 220h.7M119.5 223h.7M129.5 221h.7M116.5 232h.7M123 228h.7M116.5 217h.7M133 224.5h.7M132 222h.7M124.5 214.5h.7M124.5 236h.7M130.5 212.5h.7M138.5 226.5h.7M138 212h.7M124 227h.7M139.5 209.5h.7M132.5 228h.7M127.5 224.5h.7M113.5 226.5h.7M121.5 237h.7M130.5 221.5h.7M115 217.5h.7M119 218h.7M115.5 224h.7M124.5 227.5h.7M133 231.5h.7M137.5 227h.7M124.5 221.5h.7M132 229.5h.7M125 231.5h.7M122 241h.7M124 234h.7M122 217.5h.7M123 229.5h.7M129 216.5h.7M131 224.5h.7M126.5 239.5h.7M120.5 228h.7M109.5 226h.7M133 208.5h.7M119 221.5h.7M134.5 225.5h.7M139 211.5h.7M119.5 233.5h.7M141.5 205.5h.7M133 221.5h.7M135 222.5h.7M120.5 213.5h.7M124.5 222.5h.7M123 235h.7M116 219h.7M125 223h.7M131.5 216h.7M112 220.5h.7M139.5 217h.7M118.5 230.5h.7M124 224h.7M127 218h.7M127 221h.7M138.5 222.5h.7M121 223.5h.7M125.5 222h.7M125.5 228.5h.7M117.5 231h.7M122 226.5h.7M123.5 212.5h.7M138.5 211h.7M131.5 237h.7M117 229h.7M132 233.5h.7M117 228h.7M120.5 220.5h.7M127.5 217h.7M123.5 231.5h.7M131.5 226.5h.7M118.5 223h.7M132 210.5h.7M125 212h.7M135.5 227.5h.7M135 221.5h.7M121 215.5h.7M119 223h.7M121 217.5h.7M123 230h.7M115.5 220.5h.7M126.5 227h.7M119.5 224.5h.7M136 229h.7M133 212h.7M118.5 221.5h.7M131.5 233h.7M127 213.5h.7M130 225h.7M128.5 224.5h.7M132.5 211.5h.7M122.5 219.5h.7M115.5 228h.7M131.5 235.5h.7M115 233h.7M134.5 230h.7M134 225h.7M136.5 235h.7M132.5 227.5h.7M131.5 230h.7M122 225h.7M108.5 221.5h.7M131 219h.7M132 224.5h.7M114 223h.7M130 217.5h.7M118.5 219.5h.7M128 223h.7M125.5 227.5h.7M117.5 235.5h.7M119.5 232.5h.7M137.5 218.5h.7M112.5 222h.7M123 227h.7M133 220.5h.7M124.5 235.5h.7M121.5 221.5h.7M123 216.5h.7M125.5 217h.7M135.5 211h.7M119.5 226.5h.7M118.5 234.5h.7M117.5 235h.7M129 210.5h.7M134 212.5h.7M126.5 220.5h.7M110 218h.7M130 224h.7M134 214h.7M132.5 218h.7M126.5 226.5h.7M127.5 219h.7M128.5 225.5h.7M127.5 222.5h.7M125 220.5h.7M123 216h.7M132 219h.7M139.5 214h.7M121 227h.7M125.5 229.5h.7M133.5 221.5h.7M120 228.5h.7M123.5 219h.7M131.5 220h.7M122 214.5h.7M133.5 220h.7M136 213.5h.7M124 226h.7M126 216.5h.7M141.5 215h.7M127.5 219.5h.7M115.5 224.5h.7M131 222h.7M125.5 213.5h.7M118.5 217.5h.7M130.5 219.5h.7M129 234.5h.7M120.5 231.5h.7M118 231h.7M132.5 225.5h.7M123 232.5h.7M132 236.5h.7M124 241.5h.7M122.5 224.5h.7M119 219h.7M135.5 222h.7M135 225.5h.7M127 222h.7M123 211h.7M137 211h.7M119 223.5h.7M132.5 236h.7M119 230.5h.7M117 222.5h.7M122 237.5h.7M133 222.5h.7M134 228.5h.7M131.5 222h.7M133.5 218.5h.7M128 226.5h.7M115 219.5h.7M116.5 231h.7M119.5 217.5h.7M123.5 217h.7M141.5 224h.7M127 209h.7M111 223h.7M136.5 224.5h.7M111 220h.7M112 225h.7M131 216.5h.7M123.5 221h.7M119.5 219h.7M133 226h.7M115.5 220h.7M123 223.5h.7M123.5 221.5h.7M126.5 215.5h.7M118.5 232.5h.7M120 217h.7M115 227h.7M132.5 217h.7M124 227.5h.7M133 213.5h.7M116.5 226h.7M131 215h.7M117.5 226h.7M136.5 226h.7M116 222.5h.7M130 216h.7M114.5 223.5h.7M131 218.5h.7M136 222h.7M128.5 222h.7M114 217.5h.7M125 228h.7M130 219.5h.7M119 229h.7M127 230.5h.7M125.5 226h.7M119 216h.7M130.5 222h.7M134 208.5h.7M122 225.5h.7M120 215.5h.7M127 217.5h.7M136 216h.7M120.5 217.5h.7M133 235h.7M140 213h.7M131 213h.7M126 220h.7M121 232.5h.7M122 216.5h.7M136 218.5h.7M111 222.5h.7M120 214.5h.7M143.5 209h.7M137.5 220.5h.7M125.5 218h.7M126.5 230h.7M116.5 216h.7M128.5 216h.7M135.5 221.5h.7M131 225.5h.7M128.5 234h.7M134.5 218.5h.7M138.5 218.5h.7M133 227.5h.7M124 236.5h.7M122.5 235h.7M120 211h.7M123.5 216.5h.7M126.5 214h.7M128 225h.7M129.5 228.5h.7M138 211.5h.7M124 229h.7M132 218h.7M139 213.5h.7M125 216.5h.7M120 219.5h.7M122 221h.7M129 226h.7M116 232h.7M118.5 218.5h.7M133 211h.7M119 224.5h.7M111.5 222.5h.7M114.5 226.5h.7M110.5 219.5h.7M128.5 220.5h.7M116 213h.7M118 229.5h.7M129.5 218h.7M121 209.5h.7M134 221.5h.7M113.5 219h.7M139 220h.7M125 222.5h.7M109.5 218h.7M129 215.5h.7M117 226.5h.7M120 223.5h.7M126.5 223.5h.7M118.5 237h.7M118 224.5h.7M136 228.5h.7M126.5 224h.7M120 234.5h.7M127.5 221h.7M130 226.5h.7M122 222h.7M130.5 218h.7M115.5 219.5h.7M113 232h.7M110 224h.7M129.5 226h.7M138.5 213h.7M129.5 227.5h.7M123.5 234.5h.7M127.5 230h.7M123 237.5h.7M115.5 229h.7M129.5 234.5h.7M129 230h.7M128 222h.7M122 219.5h.7M122.5 222.5h.7M126.5 228.5h.7M128.5 203h.7M121.5 215.5h.7M134.5 218h.7M134 213.5h.7M121.5 238h.7M135 220h.7M126.5 213h.7M129.5 240h.7M109.5 220h.7M119 222.5h.7M126 212.5h.7M124.5 216h.7M138 211h.7M126.5 241.5h.7M133.5 230.5h.7M118.5 226.5h.7M130 216.5h.7M127.5 212h.7M117 218h.7M120 224.5h.7M131.5 224.5h.7M119.5 231.5h.7M117.5 222.5h.7M124.5 242.5h.7M126 237h.7M136.5 221.5h.7M125.5 212.5h.7M123.5 209.5h.7M131 216h.7M119 228h.7M127.5 227h.7M119 220.5h.7M131 232.5h.7M117.5 222h.7M135.5 236h.7M119.5 234.5h.7M132.5 218.5h.7M118.5 220h.7M129.5 218.5h.7M127.5 211.5h.7M120.5 214h.7M138 212.5h.7M120.5 233.5h.7M129 230.5h.7M132.5 233.5h.7M119.5 227.5h.7M131 221h.7M125.5 230h.7M128.5 224h.7M125.5 214h.7M124 217h.7M123 226.5h.7M131 228h.7M124 225.5h.7M108.5 215.5h.7M120.5 222.5h.7M134.5 219.5h.7M122 241.5h.7M118.5 219h.7M132.5 225h.7M132 224h.7M125 232.5h.7M127 226.5h.7M121.5 233h.7M127.5 229.5h.7M114.5 229h.7M125.5 213h.7M134.5 229h.7M130.5 223h.7M134 233.5h.7M141.5 209.5h.7M119 225h.7M130 232.5h.7M125.5 229h.7M119.5 223.5h.7M133 214.5h.7M127 220.5h.7M136 221h.7M126.5 222.5h.7M126.5 237h.7M123.5 227.5h.7M120.5 217h.7M125.5 223.5h.7M122 223h.7M125 219.5h.7M131.5 221.5h.7M131.5 232h.7M119 215h.7M111.5 224.5h.7M127.5 233h.7M108.5 225h.7M114.5 220h.7M137 215.5h.7M126 232.5h.7M114.5 228h.7M128.5 218.5h.7M120 224h.7M127 225.5h.7M121.5 222h.7M122.5 223h.7M118.5 224.5h.7M128.5 219.5h.7M115.5 225.5h.7M135.5 219h.7M125 219h.7M112.5 229.5h.7M130.5 236.5h.7M125 238h.7M122 231h.7M135.5 212h.7M117.5 231.5h.7M128 229h.7M141 202h.7M121.5 227h.7M115 222.5h.7M134.5 222.5h.7M118.5 229h.7M136.5 216.5h.7M120 227.5h.7M140.5 219h.7M119 226h.7M117 222h.7M119 225.5h.7M133.5 227h.7M112 219h.7M125.5 232h.7M127 234.5h.7M132 230h.7M131 225h.7M120 227h.7M125.5 243.5h.7M130 220h.7M119.5 217h.7M127 208h.7M128 240h.7M133 212.5h.7M131.5 218h.7M133.5 211h.7M129 229h.7M120.5 222h.7M122 236h.7M133.5 224.5h.7M127.5 217.5h.7M130 218h.7M127.5 223h.7M128.5 236.5h.7M125.5 241h.7M130.5 223.5h.7M131 227h.7M126 222h.7M135.5 214.5h.7M121.5 224h.7M132.5 213h.7M122.5 220.5h.7M129.5 224.5h.7M138 213.5h.7M123.5 228h.7M118 227.5h.7M120 215h.7M136 226h.7M121 222h.7M134.5 216.5h.7M133.5 225.5h.7M111.5 224h.7M130.5 222.5h.7M128.5 231.5h.7M118 225.5h.7M112.5 221h.7M131 218h.7M113 221h.7M125.5 219h.7M125 242h.7M114.5 221h.7M123 223h.7M109.5 216.5h.7M124 230.5h.7M126 236h.7M121 216.5h.7M118.5 230h.7M131 231.5h.7M120.5 221h.7M120 225h.7M116 219.5h.7M128 212.5h.7M121.5 218.5h.7M126.5 218.5h.7M124.5 221h.7M126.5 224.5h.7M122 220h.7M131.5 212.5h.7M110.5 223h.7M120.5 230h.7M117 220.5h.7M132 217h.7M123 227.5h.7M135.5 212.5h.7M126.5 233h.7M137.5 213h.7M131 214h.7M131.5 218.5h.7M116.5 224h.7M134.5 222h.7M131 221.5h.7M135.5 219.5h.7M116 221h.7M117 215.5h.7M125 217h.7M113.5 241.5h.7M134.5 226.5h.7M137.5 226.5h.7M119.5 222.5h.7M135.5 215h.7M126.5 233.5h.7M137 223.5h.7M123 217h.7M129.5 219h.7M137 222h.7M128 231.5h.7M124.5 230h.7M130.5 224h.7M139.5 210h.7M126 216h.7M121.5 234h.7M136 217h.7M125.5 226.5h.7M131 223.5h.7M126.5 228h.7M117.5 227h.7M132.5 227h.7M132 223.5h.7M130 214.5h.7M129.5 221.5h.7M131.5 227h.7M127.5 231.5h.7M127.5 236.5h.7M126 217h.7M113 226.5h.7M120 213h.7M121.5 240.5h.7M124 216.5h.7M122 227h.7M112.5 216h.7M133 233h.7M133.5 235h.7M119 219.5h.7M134 235.5h.7M135 223.5h.7M123 214.5h.7M130.5 214h.7M120 221.5h.7M124.5 230.5h.7M137 216h.7M118 229h.7M124.5 229.5h.7M143 218h.7M142 218.5h.7M123.5 238.5h.7M116.5 233.5h.7M137.5 216h.7M133 211.5h.7M126.5 238.5h.7M121.5 237.5h.7M111.5 227.5h.7M134 223.5h.7M134 225.5h.7M132 211.5h.7M126 235h.7M124 222h.7M113.5 224.5h.7M134 224h.7M111.5 215h.7M118 236.5h.7M136.5 213h.7M117.5 225h.7M126 238.5h.7M125 221.5h.7M137 212.5h.7M118 213.5h.7M111.5 221h.7M132.5 210.5h.7M129 237.5h.7M132.5 217.5h.7M112.5 227.5h.7M121 227.5h.7M138.5 230h.7M128.5 212.5h.7M128 220h.7M128.5 223h.7M113.5 226h.7M135.5 217.5h.7M140.5 223.5h.7M130.5 228h.7M115 214h.7M119.5 232h.7M124 216h.7M126.5 212h.7M138 221.5h.7M134 215h.7M113.5 221h.7M120.5 223.5h.7M121 225h.7M130.5 238h.7M128 226h.7M126.5 214.5h.7M126.5 221h.7M120.5 227.5h.7M127 223.5h.7M131.5 217.5h.7M121 232h.7M121 225.5h.7M114 219h.7M127.5 225.5h.7M136 214.5h.7M111.5 218.5h.7M124 218.5h.7M133.5 219h.7M122 226h.7M132.5 216h.7M121.5 216.5h.7M126.5 222h.7M124.5 232h.7M133.5 212h.7M131.5 232.5h.7M137 214.5h.7M131 224h.7M135 220.5h.7M114 221.5h.7M120.5 235.5h.7M123.5 226h.7M135 233h.7M123 224h.7M129.5 223h.7M124 224.5h.7M114.5 222h.7M117 230.5h.7M133 225.5h.7M127 236h.7M130 227h.7M128 230.5h.7M120.5 236h.7M126.5 221.5h.7M115.5 229.5h.7M122 231.5h.7M123.5 218h.7M133.5 210.5h.7M126 215.5h.7M124 233.5h.7M116 229h.7M119.5 233h.7M137.5 223h.7M133 222h.7M122.5 213h.7M123.5 212h.7M133.5 221h.7M131 226.5h.7M128 231h.7M137.5 219.5h.7M142.5 212h.7M121 221.5h.7M129 209h.7M135 221h.7M124 220h.7M120 225.5h.7M132 211h.7M131.5 225h.7M127 222.5h.7M123.5 223h.7M129 217.5h.7M127.5 215h.7M130 215h.7M131.5 237.5h.7M128 220.5h.7M123.5 236h.7M124.5 223.5h.7M120 226h.7M132 226h.7M125 213.5h.7M109.5 224.5h.7M122 224.5h.7M124.5 222h.7M127.5 224h.7M133 223.5h.7M123.5 214.5h.7M111.5 213.5h.7M125 230.5h.7M127.5 214.5h.7M129 224h.7M129.5 231.5h.7M115 215.5h.7M124.5 225h.7M127.5 235h.7M135.5 224.5h.7M129 221.5h.7M126 222.5h.7M127.5 218.5h.7M139.5 211.5h.7M134 216h.7M129.5 215h.7M124 217.5h.7M142 216h.7M122.5 225.5h.7M113.5 221.5h.7M127.5 234h.7M136 206.5h.7M127.5 233.5h.7M121.5 212.5h.7M136 220h.7M125.5 219.5h.7M119.5 226h.7M120 226.5h.7M114 229.5h.7M111 223.5h.7M117.5 233h.7M124.5 218h.7M134 210h.7M139 207h.7M128.5 226h.7M116.5 219.5h.7M132 217.5h.7M132 215h.7M129.5 222h.7M128.5 232h.7M121.5 217h.7M122.5 221.5h.7M124 223.5h.7M132.5 220h.7M119.5 220h.7M139 217h.7M121.5 224.5h.7M131 239.5h.7M140 209.5h.7M137 215h.7M118 214.5h.7M124 236h.7M116.5 215.5h.7M134.5 220.5h.7M122.5 220h.7M130 218.5h.7M128 213.5h.7M122.5 217.5h.7M125 218.5h.7M116 221.5h.7M138.5 223.5h.7M118.5 220.5h.7M115 223h.7M134 224.5h.7M116.5 221.5h.7M121 230.5h.7M119.5 224h.7M112 222h.7M134.5 225h.7M127 230h.7M121.5 223.5h.7M119 224h.7M131.5 215.5h.7M141 208h.7M125.5 237.5h.7M130 213.5h.7M141 226h.7M124 221h.7M122.5 235.5h.7M131.5 228h.7M136.5 225h.7M118.5 213h.7M135.5 213h.7M125 211h.7M122.5 215h.7M123.5 231h.7M140 210.5h.7M123 228.5h.7M131.5 223h.7M121.5 228.5h.7M137 228h.7M124.5 224.5h.7M133.5 219.5h.7M130 220.5h.7M127 227.5h.7M129.5 229.5h.7M129.5 222.5h.7M121 223h.7M116 226.5h.7M118.5 216h.7M117.5 224h.7M132 228h.7M129.5 230.5h.7M124 243h.7M135 226h.7M129 231.5h.7M131.5 216.5h.7M129 219h.7M115.5 225h.7M123 222h.7M126 237.5h.7M141 223h.7M116 231.5h.7M123 226h.7M124.5 217h.7M131.5 226h.7M121 229.5h.7M117 225h.7M137 216.5h.7M123 219.5h.7M109.5 221h.7M113.5 223h.7M133.5 215h.7M121.5 217.5h.7M120 236.5h.7M126.5 235h.7M127 215.5h.7M110 220h.7M116.5 216.5h.7M122 221.5h.7M118 225h.7M130 228h.7M117.5 233.5h.7M129 211h.7M120.5 224h.7M131 235h.7M125 221h.7M131.5 214.5h.7M120.5 214.5h.7M122 229.5h.7M139 216.5h.7M118.5 231h.7M115 228h.7M125 235.5h.7M118.5 233.5h.7M133 221h.7M117 221.5h.7M125.5 221.5h.7M136 229.5h.7M114 228h.7M109 220.5h.7M135 212.5h.7M124.5 231h.7M133.5 222h.7M129 236h.7M130 230h.7M125.5 224.5h.7M134.5 221h.7M112.5 224h.7M133 214h.7M136.5 212h.7M122 219h.7M141 213.5h.7M132 216h.7M113.5 220h.7M138.5 220.5h.7M130.5 225.5h.7M129 208.5h.7M123 222.5h.7M128.5 225h.7M142.5 209h.7M128.5 232.5h.7M120 228h.7M128 215.5h.7M118.5 215h.7M125.5 220.5h.7M116 216h.7M122.5 213.5h.7M128.5 212h.7M128 234h.7M120 218.5h.7M125 231h.7M138 224h.7M118 217h.7M118 220.5h.7M130 240h.7M120 222h.7M125 236h.7M114.5 223h.7M112 220h.7M124 221.5h.7M132.5 226h.7M125.5 234.5h.7M139 209.5h.7M123 230.5h.7M121.5 219h.7M125.5 215h.7M133 208h.7M137 230h.7M119.5 222h.7M127.5 221.5h.7M133.5 209h.7M113.5 218h.7M121.5 233.5h.7M126 231.5h.7M127 228.5h.7M128.5 210.5h.7M119 226.5h.7M120 222.5h.7M111.5 226h.7M120.5 226h.7M121.5 214.5h.7M121.5 228h.7M133 233.5h.7M118.5 235h.7M131.5 231.5h.7M126 224.5h.7M124 222.5h.7M124.5 215.5h.7M128 214h.7M128 216h.7M128 217h.7M118.5 227.5h.7M131.5 223.5h.7M136.5 209.5h.7M109.5 219h.7M134 217h.7M134.5 219h.7M122 240h.7M138 223h.7M128.5 219h.7M123.5 232h.7M116 220.5h.7M121.5 220.5h.7M130 226h.7M128 207.5h.7M131 212.5h.7M139 227.5h.7M122 234.5h.7M121.5 221h.7M132.5 216.5h.7M130 236.5h.7M129 229.5h.7M133 225h.7M118 224h.7M123.5 219.5h.7M130.5 227.5h.7M128.5 221.5h.7M111 219h.7M128 223.5h.7M130.5 215h.7M127.5 237.5h.7M113 223.5h.7M130 219h.7M123 214h.7M112 224.5h.7M139.5 212.5h.7M127 231h.7M135.5 223.5h.7M132.5 214.5h.7M113.5 222.5h.7M124.5 244h.7M129 219.5h.7M129 223.5h.7M132 227.5h.7M133.5 225h.7M139 217.5h.7M139.5 207h.7M136 208.5h.7M141.5 217h.7M130 228.5h.7M132.5 237h.7M121 237.5h.7M122.5 224h.7M132.5 221.5h.7M130 230.5h.7M143.5 224.5h.7M120.5 218.5h.7M134.5 209.5h.7M129 227h.7M131.5 233.5h.7M132.5 224h.7M116.5 224.5h.7M116.5 229.5h.7M130 209.5h.7M113 217h.7M127 238h.7M123 231.5h.7M124 226.5h.7M123.5 230.5h.7M127 228h.7M124 237.5h.7M120.5 227h.7M112.5 222.5h.7M116 224h.7M127.5 231h.7M125.5 217.5h.7M139 219h.7M131.5 217h.7M134 229h.7M120.5 216h.7M122 222.5h.7M123.5 206h.7M131 230.5h.7M118 219h.7M130 222.5h.7M111 219.5h.7M119 214h.7M130 210.5h.7M130.5 233.5h.7M125 220h.7M119.5 218.5h.7M128.5 216.5h.7M138.5 214.5h.7M122.5 214.5h.7M127 233h.7M124 228.5h.7M112 222.5h.7M120.5 219h.7M124 228h.7M137 222.5h.7M133 218.5h.7M136.5 233h.7M120 235.5h.7M133 210.5h.7M133.5 213.5h.7M124.5 229h.7M134 213h.7M123 225.5h.7M125.5 212h.7M113 225h.7M121 236h.7M109 219.5h.7M137.5 214.5h.7M132 229h.7M132.5 213.5h.7M122 236.5h.7M116 225.5h.7M115.5 214.5h.7M119 222h.7M132.5 226.5h.7M126 225h.7M123.5 216h.7M135 209h.7M136 216.5h.7M126.5 235.5h.7M110.5 222h.7M122 232h.7M114.5 226h.7M120.5 225.5h.7M112.5 220.5h.7M116.5 221h.7M127 232h.7M121.5 232.5h.7M143.5 213h.7M126.5 230.5h.7M137 224h.7M125 223.5h.7M130.5 236h.7M124.5 227h.7M120 218h.7M132 222.5h.7M131 229h.7M131 235.5h.7M120 223h.7M123.5 224.5h.7M130 221h.7M142 222.5h.7M127 239h.7M126 233h.7M124.5 233h.7M126 225.5h.7M130.5 219h.7M130 224.5h.7M136.5 231.5h.7M135.5 232h.7M133 217h.7M131 226h.7M134 216.5h.7M129.5 237h.7M129.5 225h.7M126.5 234.5h.7M128.5 211h.7M133.5 216h.7M132 213h.7M123 218h.7M129.5 237.5h.7M141.5 211.5h.7M133 219.5h.7M128.5 226.5h.7M142.5 210.5h.7M139 225.5h.7M140 221.5h.7M124.5 220h.7M128.5 242.5h.7M142 210h.7M126 235.5h.7M129.5 216.5h.7M130.5 226h.7M154.5 231h.7M118 240.5h.7M109.5 219.5h.7M119 218.5h.7M131.5 228.5h.7M109.5 238h.7M123.5 228.5h.7M114.5 209.5h.7M128 224.5h.7M129.5 233h.7M121 219.5h.7M117.5 218.5h.7M147.5 227h.7M150 238.5h.7M139 230h.7M132 214.5h.7M137.5 225h.7M127.5 223.5h.7M130.5 211.5h.7M122 206.5h.7M134 233h.7M109.5 224h.7M137.5 233h.7M126 239h.7M135.5 239h.7M125 236.5h.7M139 215h.7M124.5 220.5h.7M129 224.5h.7M144 242h.7M143.5 237h.7M113.5 218.5h.7M139 229.5h.7M131.5 238h.7M131.5 219.5h.7M134 228h.7M126 229.5h.7M110 235h.7M108.5 229.5h.7M121 244.5h.7M124 211h.7M120.5 211.5h.7M125.5 204h.7M124 219h.7M134.5 233.5h.7M140 231h.7M115 221h.7M109 229h.7M109 199h.7M126 231h.7M111 238h.7M126.5 227.5h.7M122.5 207.5h.7M108.5 232h.7M110 239h.7M122.5 240.5h.7M115 204h.7M127 237h.7M121.5 235h.7M123 220h.7M125.5 231h.7M117.5 240h.7M142 209.5h.7M126.5 239h.7M136.5 217h.7M152 219h.7M116.5 218.5h.7M136 233.5h.7M120 241.5h.7M133.5 232.5h.7M128.5 262h.7M115.5 273h.7M129 252.5h.7M136 270.5h.7M135.5 258.5h.7M127.5 269.5h.7M123.5 257.5h.7M133 268h.7M128.5 271.5h.7M132.5 260h.7M132.5 277h.7M125 263.5h.7M140 274h.7M127.5 279.5h.7M121.5 269h.7M125.5 261.5h.7M129 268h.7M117 261.5h.7M134 264.5h.7M119.5 275.5h.7M125.5 264h.7M131.5 276.5h.7M122 277.5h.7M120 261.5h.7M123 264h.7M130 280h.7M109 267h.7M125 266h.7M133.5 271h.7M134 269h.7M121.5 260.5h.7M121 270h.7M123.5 269.5h.7M136.5 267h.7M129.5 276.5h.7M132.5 262.5h.7M137 270h.7M135.5 280h.7M126.5 271.5h.7M128 266h.7M141 271h.7M127 273.5h.7M130 279.5h.7M131.5 273.5h.7M133 279.5h.7M118.5 273.5h.7M146 255h.7M147 272.5h.7M122 266h.7M113 271.5h.7M123 268h.7M134.5 268h.7M131.5 273h.7M132.5 269h.7M142.5 255h.7M130.5 257h.7M129.5 276h.7M116.5 273.5h.7M141.5 264h.7M122 278.5h.7M121.5 264.5h.7M111 269.5h.7M124 261.5h.7M119.5 267.5h.7M132 253.5h.7M126 255h.7M135.5 269.5h.7M127.5 266h.7M111 266.5h.7M110 273h.7M120 277.5h.7M129.5 275h.7M126 260h.7M128.5 269h.7M147.5 261.5h.7M124.5 279h.7M135 279h.7M129 263h.7M125 272.5h.7M125.5 272h.7M137.5 267.5h.7M125 273h.7M122 257.5h.7M139.5 277h.7M112.5 265h.7M126 269.5h.7M124 265.5h.7M115 256.5h.7M129 253.5h.7M138.5 266h.7M124.5 251h.7M116.5 253.5h.7M125 266.5h.7M124.5 263h.7M123.5 262.5h.7M117.5 264.5h.7M130 259.5h.7M122.5 272h.7M119.5 260h.7M127.5 278h.7M133 272h.7M131 268h.7M127 258h.7M126.5 253h.7M135.5 267.5h.7M133.5 268h.7M121 266.5h.7M136 260h.7M126.5 264.5h.7M114 260.5h.7M122.5 275.5h.7M136 261h.7M114.5 258.5h.7M131.5 268h.7M122.5 272.5h.7M127.5 267.5h.7M121 264.5h.7M116 248.5h.7M134.5 253.5h.7M128 261h.7M151.5 269h.7M120 264.5h.7M125 270h.7M149 268h.7M127.5 257.5h.7M118.5 252h.7M121.5 270h.7M131 272h.7M139 265.5h.7M127.5 268.5h.7M136.5 259.5h.7M127.5 261.5h.7M124 269.5h.7M117.5 268h.7M131 261.5h.7M142.5 275.5h.7M130 266.5h.7M130.5 279h.7M134.5 263h.7M120 265h.7M123.5 262h.7M119 279.5h.7M125 271h.7M119 258.5h.7M128.5 273h.7M149 269.5h.7M130.5 259.5h.7M130 277h.7M134 259.5h.7M120.5 264h.7M120 268h.7M135.5 275.5h.7M125 268h.7M120 270h.7M108.5 260h.7M128.5 260h.7M144 254.5h.7M120.5 268h.7M117.5 265.5h.7M109 264.5h.7M138.5 267h.7M119.5 266h.7M113 264h.7M109 254.5h.7M110.5 267h.7M124.5 267h.7M121 267h.7M124.5 259h.7M137 263h.7M114 257h.7M120.5 263.5h.7M125 264.5h.7M124.5 271.5h.7M126.5 251h.7M152.5 254.5h.7M132 266.5h.7M114 256.5h.7M116.5 268h.7M139.5 263h.7M120 262.5h.7M141.5 274.5h.7M124.5 269h.7M133 256h.7M140 276.5h.7M138.5 278h.7M123 263h.7M125.5 273h.7M132.5 274h.7M123 273h.7M130.5 264h.7M127 276h.7M112.5 275.5h.7M121 258.5h.7M109 271.5h.7M118.5 265.5h.7M110.5 258.5h.7M130 264h.7M134 277h.7M125 256h.7M109 263.5h.7M139 263.5h.7M113 280h.7M140.5 275.5h.7M114 271.5h.7M136.5 273h.7M137.5 278.5h.7M118.5 258.5h.7M121 260h.7M115.5 264.5h.7M141.5 271.5h.7M112 258h.7M122 268h.7M110 265h.7M123.5 261h.7M115 254h.7M135.5 262h.7M138.5 275.5h.7M141.5 270h.7M138 267.5h.7M127.5 271.5h.7M139.5 273h.7M135.5 277.5h.7M132 253h.7M116 279.5h.7M140 268h.7M117 262h.7M143 271h.7M142.5 262h.7M136.5 263h.7M169 230h.7M190 237h.7M179.5 233.5h.7" stroke="#000" stroke-width="0.7" fill="none"/>
<text x="109.2" y="177" font-size="3.8" font-weight="bold" text-anchor="start" stroke="#000" stroke-width="0.12">D1</text>
<text x="109.60000000000001" y="182.6" font-size="3.9" font-weight="bold" text-anchor="start" stroke="#000" stroke-width="0.12">94.2%</text>
<text x="147" y="177" font-size="3.8" font-weight="bold" text-anchor="start" stroke="#000" stroke-width="0.12">D2</text>
<text x="147.4" y="182.6" font-size="3.9" font-weight="bold" text-anchor="start" stroke="#000" stroke-width="0.12">0.1%</text>
<text x="109.2" y="255.5" font-size="3.8" font-weight="bold" text-anchor="start" stroke="#000" stroke-width="0.12">D3</text>
<text x="109.60000000000001" y="261.1" font-size="3.9" font-weight="bold" text-anchor="start" stroke="#000" stroke-width="0.12">5.6%</text>
<text x="147" y="255.5" font-size="3.8" font-weight="bold" text-anchor="start" stroke="#000" stroke-width="0.12">D4</text>
<text x="147.4" y="261.1" font-size="3.9" font-weight="bold" text-anchor="start" stroke="#000" stroke-width="0.12">0.1%</text>
<text x="194.7" y="188.0" font-size="13.6" font-weight="bold" text-anchor="start" >0.1%</text>
<path d="M259.2 171.5H387.5" stroke="#808080" stroke-width="1.1" fill="none"/>
<path d="M387.5 171.0V282.2" stroke="#666" stroke-width="1" fill="none"/>
<path d="M259.2 171.0V282.2H388.0" stroke="#222" stroke-width="1.3" fill="none"/>
<path d="M308.8 171.5V282.2" stroke="#111" stroke-width="1.1" fill="none"/>
<path d="M259.2 254.2H387.5" stroke="#111" stroke-width="1.1" fill="none"/>
<path d="M257.0 273.9H259.2M257.0 269.0H259.2M257.0 265.5H259.2M257.0 262.9H259.2M257.0 260.7H259.2M257.0 258.8H259.2M257.0 257.2H259.2M257.0 255.8H259.2M257.0 246.2H259.2M257.0 241.3H259.2M257.0 237.9H259.2M257.0 235.2H259.2M257.0 233.0H259.2M257.0 231.1H259.2M257.0 229.5H259.2M257.0 228.1H259.2M257.0 218.5H259.2M257.0 213.6H259.2M257.0 210.2H259.2M257.0 207.5H259.2M257.0 205.3H259.2M257.0 203.5H259.2M257.0 201.9H259.2M257.0 200.4H259.2M257.0 190.8H259.2M257.0 186.0H259.2M257.0 182.5H259.2M257.0 179.8H259.2M257.0 177.6H259.2M257.0 175.8H259.2M257.0 174.2H259.2M257.0 172.8H259.2M255.2 254.5H259.2M255.2 226.8H259.2M255.2 199.2H259.2M255.2 171.5H259.2M268.9 282.2V284.2M274.5 282.2V284.2M278.5 282.2V284.2M281.6 282.2V284.2M284.2 282.2V284.2M286.3 282.2V284.2M288.2 282.2V284.2M289.8 282.2V284.2M291.3 282.2V285.7M300.9 282.2V284.2M306.6 282.2V284.2M310.6 282.2V284.2M313.7 282.2V284.2M316.2 282.2V284.2M318.4 282.2V284.2M320.2 282.2V284.2M321.9 282.2V284.2M323.3 282.2V285.7M333.0 282.2V284.2M338.7 282.2V284.2M342.7 282.2V284.2M345.8 282.2V284.2M348.3 282.2V284.2M350.5 282.2V284.2M352.3 282.2V284.2M354.0 282.2V284.2M355.4 282.2V285.7M365.1 282.2V284.2M370.7 282.2V284.2M374.7 282.2V284.2M377.8 282.2V284.2M380.4 282.2V284.2M382.5 282.2V284.2M384.4 282.2V284.2M386.0 282.2V284.2M387.5 282.2V285.7" stroke="#333" stroke-width="0.8" fill="none"/>
<text x="254.2" y="256.0" font-size="4.2" font-weight="bold" text-anchor="end" stroke="#000" stroke-width="0.15">10</text>
<text x="254.2" y="228.3" font-size="4.2" font-weight="bold" text-anchor="end" stroke="#000" stroke-width="0.15">10</text>
<text x="254.2" y="200.7" font-size="4.2" font-weight="bold" text-anchor="end" stroke="#000" stroke-width="0.15">10</text>
<text x="254.2" y="173.0" font-size="4.2" font-weight="bold" text-anchor="end" stroke="#000" stroke-width="0.15">10</text>
<text x="291.8" y="292.2" font-size="4.2" font-weight="bold" text-anchor="middle" stroke="#000" stroke-width="0.15">10</text>
<text x="323.9" y="292.2" font-size="4.2" font-weight="bold" text-anchor="middle" stroke="#000" stroke-width="0.15">10</text>
<text x="355.9" y="292.2" font-size="4.2" font-weight="bold" text-anchor="middle" stroke="#000" stroke-width="0.15">10</text>
<text x="385.0" y="292.2" font-size="4.2" font-weight="bold" text-anchor="middle" stroke="#000" stroke-width="0.15">10</text>
<path d="M263 229h1M273 224h1M270 227h1M271 226h1M274 231h1M280 226h1M265 229h1M268 222h1M281 230h1M268 224h1M273 227h1M273 225h1M260 217h1M276 227h1M260 228h1M272 229h1M270 228h1M264 218h1M268 227h1M268 218h1M267 222h1M275 220h1M263 223h1M271 231h1M273 219h1M263 233h1M271 225h1M273 229h1M281 227h1M265 221h1M276 226h1M271 228h1M263 234h1M268 225h1M274 232h1M267 233h1M268 233h1M267 224h1M277 218h1M267 238h1M261 225h1M263 222h1M265 226h1M268 231h1M261 223h1M275 228h1M279 224h1M276 228h1M262 217h1M282 231h1M271 222h1M270 233h1M269 231h1M280 235h1M270 229h1M268 230h1M260 226h1M283 231h1M279 223h1M272 222h1M281 224h1M267 221h1M272 233h1M270 226h1M267 232h1M275 229h1M261 226h1M269 228h1M278 223h1M266 219h1M266 232h1M270 225h1M271 224h1M273 226h1M260 222h1M279 220h1M270 230h1M260 231h1M273 231h1M276 223h1M272 219h1M276 222h1M265 230h1M274 235h1M261 227h1M271 227h1M275 227h1M277 224h1M282 226h1M269 229h1M264 221h1M265 233h1M274 223h1M269 226h1M265 224h1M264 219h1M265 232h1M274 225h1M272 221h1M272 225h1M267 228h1M269 236h1M264 225h1M272 226h1M268 229h1M273 218h1M261 229h1M262 233h1M262 222h1M287 220h1M267 226h1M261 224h1M271 230h1M273 221h1M277 229h1M269 225h1M268 221h1M275 226h1M273 232h1M264 228h1M269 227h1M271 218h1M261 216h1M266 233h1M268 232h1M278 225h1M276 220h1M275 222h1M277 223h1M279 234h1M265 236h1M272 227h1M262 230h1M260 218h1M260 236h1M274 226h1M263 230h1M265 222h1M286 225h1M261 230h1M277 231h1M262 232h1M268 223h1M267 231h1M266 224h1M273 223h1M264 215h1M281 232h1M281 233h1M279 229h1M281 228h1M271 236h1M286 221h1M272 230h1M277 219h1M277 227h1M267 234h1M275 231h1M278 230h1M265 220h1M262 229h1M275 213h1M262 231h1M275 217h1M273 220h1M269 218h1M276 232h1M279 232h1M269 237h1M282 225h1M272 228h1M273 222h1M269 230h1M280 228h1M266 218h1M271 223h1M274 219h1M270 221h1M267 216h1M269 221h1M264 224h1M277 222h1M271 233h1M268 219h1M277 234h1M270 219h1M289 223h1M261 219h1M275 221h1M270 217h1M268 220h1M272 224h1M278 212h1M269 224h1M261 232h1M277 225h1M276 233h1M279 228h1M270 218h1M261 211h1M285 242h1M260 230h1M262 236h1M275 233h1M269 233h1M260 223h1M283 239h1M264 232h1M263 235h1M262 225h1M281 217h1M276 225h1M266 225h1M272 220h1M262 227h1M274 228h1M263 226h1M269 223h1M272 217h1M274 227h1M273 230h1M277 226h1M279 226h1M262 221h1M275 224h1M292 218h1M284 229h1M267 214h1M270 222h1M274 224h1M263 217h1M268 217h1M274 222h1M266 220h1M266 223h1M265 223h1M281 223h1M266 221h1M260 219h1M277 228h1M262 226h1M267 227h1M266 235h1M262 220h1M282 221h1M284 218h1M279 222h1M268 226h1M274 229h1M283 217h1M273 217h1M274 236h1M270 231h1M280 230h1M278 227h1M286 228h1M281 221h1M274 230h1M278 228h1M265 225h1M286 207h1M273 235h1M270 220h1M279 227h1M271 221h1M280 224h1M281 222h1M281 229h1M279 217h1M273 228h1M260 224h1M270 213h1M263 232h1M262 228h1M281 215h1M269 219h1M266 228h1M264 223h1M266 226h1M271 229h1M266 227h1M261 228h1M267 223h1M260 240h1M271 220h1M275 234h1M276 221h1M267 229h1M274 217h1M262 224h1M278 229h1M262 219h1M265 217h1M272 235h1M267 225h1M261 235h1M274 234h1M290 226h1M263 224h1M264 237h1M279 235h1M295 213h1M272 223h1M281 216h1M261 221h1M261 220h1M266 215h1M283 225h1M261 231h1M272 234h1M270 238h1M263 220h1M276 230h1M265 227h1M271 219h1M275 236h1M282 234h1M278 218h1M265 215h1M270 232h1M272 237h1M282 223h1M274 218h1M275 230h1M278 221h1M267 230h1M294 232h1M270 224h1M282 232h1M281 213h1M267 219h1M264 216h1M280 223h1M283 230h1M273 240h1M278 232h1M272 216h1M260 225h1M263 225h1M269 220h1M275 225h1M264 229h1M262 234h1M263 227h1M267 220h1M264 222h1M276 215h1M266 237h1M269 232h1M276 235h1M273 239h1M276 224h1M262 216h1M264 220h1M270 223h1M269 222h1M266 212h1M263 237h1M287 226h1M266 230h1M275 218h1M277 232h1M279 225h1M276 237h1M272 218h1M276 218h1M276 229h1M277 215h1M275 219h1M265 228h1M281 225h1M269 234h1M266 231h1M280 222h1M277 235h1M292 221h1M264 231h1M273 237h1M285 230h1M285 220h1M268 228h1M263 221h1M276 219h1M266 229h1M278 224h1M278 222h1M265 213h1M272 232h1M270 236h1M285 232h1M269 235h1M282 229h1M284 228h1M275 235h1M271 237h1M263 228h1M271 235h1M287 223h1M269 216h1M263 215h1M265 240h1M275 215h1M264 227h1M272 240h1M267 218h1M278 235h1M266 222h1M277 220h1M284 240h1M264 230h1M274 238h1M272 213h1M280 229h1M271 232h1M285 224h1M264 235h1M279 219h1M265 219h1M272 231h1M262 223h1M260 233h1M284 221h1M280 218h1M269 214h1M261 222h1M266 236h1M270 234h1M285 226h1M283 233h1M268 236h1M268 216h1M274 220h1M282 227h1M270 216h1M284 227h1M278 233h1M283 229h1M265 218h1M288 223h1M270 235h1M260 229h1M275 232h1M272 236h1M282 218h1M267 213h1M263 219h1M281 226h1M260 227h1M263 231h1M277 216h1M282 222h1M282 233h1M294 219h1M267 217h1M279 221h1M280 225h1M280 213h1M263 236h1M265 235h1M260 235h1M277 230h1M274 240h1M281 219h1M283 226h1M273 233h1M275 237h1M265 231h1M262 218h1M265 216h1M278 226h1M283 223h1M280 232h1M280 233h1M278 236h1M278 220h1M271 216h1M266 234h1M274 210h1M278 231h1M275 216h1M276 231h1M268 234h1M270 239h1M286 231h1M260 221h1M288 220h1M276 236h1M271 211h1M269 215h1M276 234h1M285 217h1M281 220h1M274 214h1M274 233h1M285 223h1M276 216h1M264 226h1M271 234h1M261 209h1M267 235h1M269 211h1M275 223h1M273 216h1M276 217h1M282 230h1M261 214h1M272 239h1M279 231h1M261 215h1M281 238h1M280 227h1M288 219h1M285 227h1M277 221h1M287 233h1M263 216h1M271 239h1M283 220h1M283 224h1M283 228h1M280 221h1M266 239h1M281 235h1M281 237h1M283 237h1M267 236h1M271 212h1M278 234h1M261 233h1M274 213h1M260 232h1M273 234h1M287 227h1M283 219h1M262 238h1M264 243h1M271 217h1M274 221h1M274 239h1M274 237h1M282 224h1M260 234h1M264 233h1M268 235h1M277 233h1M265 234h1M279 230h1M260 220h1M288 226h1M284 233h1M287 228h1M273 215h1M274 215h1M284 232h1M284 224h1M283 227h1M276 240h1M265 237h1M283 213h1M284 225h1M286 232h1M278 211h1M261 234h1M264 234h1M284 231h1M290 224h1M261 218h1M270 237h1M270 214h1M279 233h1M281 214h1M271 215h1M285 225h1M269 239h1M282 220h1M286 229h1M279 238h1M276 241h1M268 215h1M294 226h1M269 242h1M278 237h1M274 275h1M273 271h1M271 274h1M267 280h1M267 278h1M273 277h1M272 280h1M275 273h1M273 278h1M276 272h1M278 278h1M275 278h1M268 281h1M268 278h1M269 269h1M284 279h1M267 274h1M274 278h1M274 280h1M272 263h1M267 273h1M277 272h1M272 271h1M266 277h1M276 281h1M269 274h1M274 270h1M275 276h1M267 270h1M266 276h1M278 279h1M272 276h1M278 275h1M276 280h1M279 272h1M268 273h1M276 278h1M270 271h1M273 279h1M268 274h1M261 278h1M276 268h1M261 271h1M266 275h1M260 275h1M264 273h1M270 273h1M274 276h1M270 279h1M275 270h1M276 274h1M269 272h1M272 281h1M273 281h1M271 273h1M272 272h1M273 274h1M276 264h1M271 280h1M271 278h1M269 279h1M275 279h1M267 272h1M274 267h1M269 270h1M270 277h1M282 278h1M279 273h1M268 280h1M283 277h1M273 272h1M276 277h1M289 272h1M278 274h1M274 273h1M271 268h1M277 269h1M263 280h1M266 274h1M276 276h1M274 281h1M279 277h1M265 274h1M284 274h1M278 268h1M279 279h1M278 276h1M269 277h1M261 275h1M263 268h1M275 271h1M277 278h1M270 278h1M331 223h1M336 224h1M331 229h1M331 224h1M327 232h1M335 229h1M334 227h1M329 230h1M330 220h1M329 226h1M331 221h1M326 224h1M328 226h1M336 220h1M330 221h1M329 223h1M331 228h1M326 226h1M329 227h1M334 220h1M333 222h1M331 220h1M338 221h1M334 225h1M326 231h1M327 230h1M329 224h1M332 228h1M326 227h1M323 227h1M328 227h1M332 225h1M327 227h1M330 224h1M330 223h1M336 218h1M329 234h1M325 227h1M324 230h1M331 230h1M330 225h1M329 228h1M333 224h1M331 226h1M325 229h1M333 220h1M321 229h1M334 226h1M325 234h1M327 226h1M324 227h1M333 225h1M332 227h1M331 225h1M334 229h1M333 228h1M324 235h1M325 226h1M328 225h1M322 231h1M323 226h1M331 227h1M328 221h1M329 229h1M329 222h1M330 228h1M329 225h1M330 227h1M332 223h1M325 225h1M327 231h1M324 233h1M333 226h1M324 228h1M329 231h1M333 217h1M330 222h1M331 222h1M333 219h1M325 228h1M337 222h1M330 229h1M327 229h1" stroke="#000" stroke-width="1" fill="none" shape-rendering="crispEdges" transform="translate(0,0.5)"/>
<path d="M261.5 242h.7M281.5 218.5h.7M275.5 234h.7M280 222h.7M275.5 215.5h.7M274 220.5h.7M278 233h.7M272.5 232h.7M274 217h.7M265.5 222h.7M270 220.5h.7M283 227.5h.7M267.5 216.5h.7M263.5 237.5h.7M279.5 227.5h.7M264.5 231h.7M263 225h.7M277.5 222h.7M279 219h.7M260 228.5h.7M265.5 232.5h.7M277 226.5h.7M274.5 230.5h.7M261.5 231.5h.7M260.5 217.5h.7M267.5 227.5h.7M261 224.5h.7M272 224h.7M283.5 235.5h.7M270 235.5h.7M264 229h.7M273.5 229.5h.7M296 223.5h.7M269 221h.7M285 229.5h.7M264.5 229.5h.7M282.5 216h.7M267 230.5h.7M267.5 234.5h.7M280.5 217.5h.7M268.5 227h.7M277.5 223.5h.7M287 220h.7M285.5 234h.7M281.5 235.5h.7M273 229h.7M263.5 225.5h.7M265.5 230.5h.7M262 222.5h.7M272.5 215.5h.7M283.5 231h.7M280 227.5h.7M263 230h.7M274 235.5h.7M274 232.5h.7M261 222h.7M267 227h.7M275 230.5h.7M268.5 230h.7M262.5 230h.7M267.5 229h.7M269.5 220.5h.7M260.5 236h.7M278.5 232h.7M263 221.5h.7M260 228h.7M293.5 223.5h.7M282.5 234.5h.7M260.5 228h.7M264 232h.7M276 225h.7M262 229h.7M286.5 214.5h.7M284 219h.7M277 220h.7M284 232h.7M268.5 225.5h.7M280 231.5h.7M268.5 228.5h.7M261.5 228h.7M280 228.5h.7M272 228h.7M274.5 229h.7M281.5 233.5h.7M260.5 222.5h.7M276 217.5h.7M262 224.5h.7M276 224.5h.7M266.5 224.5h.7M261 223.5h.7M281 219h.7M273.5 226h.7M285.5 229h.7M273 241.5h.7M277.5 233h.7M274 213h.7M282 235.5h.7M274.5 226.5h.7M262.5 227h.7M262.5 232h.7M283 227h.7M279.5 213h.7M260 219.5h.7M264.5 214h.7M275.5 229h.7M273 227h.7M293 220h.7M266.5 231h.7M268 231h.7M274 230h.7M291.5 229.5h.7M270.5 217.5h.7M272.5 228h.7M272 233.5h.7M274 216.5h.7M270.5 219.5h.7M282 243h.7M291 235h.7M273.5 235.5h.7M276.5 242.5h.7M281 224.5h.7M279 227.5h.7M276 232h.7M293 225h.7M281 226h.7M274 234h.7M273.5 240.5h.7M275.5 231h.7M272 214h.7M266.5 227h.7M272.5 229h.7M276 216h.7M273 226.5h.7M263.5 216h.7M273.5 234h.7M263.5 228h.7M260.5 220h.7M276 235.5h.7M271 215.5h.7M271.5 235h.7M279 224.5h.7M260 226h.7M293 226.5h.7M265.5 226.5h.7M288 225.5h.7M292.5 220.5h.7M295 230.5h.7M289 232.5h.7M267.5 219.5h.7M271.5 226.5h.7M281.5 229.5h.7M273.5 227.5h.7M274 226h.7M270.5 229h.7M281.5 226h.7M265.5 222.5h.7M273.5 225.5h.7M269.5 225.5h.7M262.5 224.5h.7M309.5 231.5h.7M269 229h.7M269 225h.7M276.5 232.5h.7M266.5 220.5h.7M273 216.5h.7M288 219h.7M265 217.5h.7M273 234h.7M280 229h.7M260.5 227h.7M272.5 231.5h.7M269 230h.7M296.5 227h.7M265 220.5h.7M263 232h.7M279.5 234.5h.7M282.5 234h.7M262.5 221h.7M261 226h.7M260.5 214.5h.7M272.5 234.5h.7M281 222h.7M276 228.5h.7M277 223.5h.7M277 229.5h.7M267 213.5h.7M274 219.5h.7M271 221h.7M262 219.5h.7M269 215.5h.7M269.5 221h.7M279 236h.7M260 216.5h.7M277.5 224h.7M275 226h.7M272.5 227h.7M269 233.5h.7M260.5 229h.7M284 225.5h.7M286 224.5h.7M270.5 240.5h.7M268.5 223h.7M276 230.5h.7M281.5 228.5h.7M284 246.5h.7M276.5 231h.7M270.5 232h.7M266.5 229.5h.7M262.5 231h.7M273 221h.7M275.5 221h.7M261.5 230.5h.7M277.5 225.5h.7M262.5 218.5h.7M279 228h.7M285.5 216.5h.7M276 222.5h.7M272.5 219.5h.7M280.5 226h.7M267 225.5h.7M295 228h.7M278 234h.7M268 217.5h.7M260.5 218h.7M274 215.5h.7M285 214.5h.7M261.5 228.5h.7M273 231h.7M273 215h.7M265.5 220h.7M270.5 228h.7M288.5 217.5h.7M281 226.5h.7M265.5 227.5h.7M261.5 222.5h.7M270.5 221h.7M295 217.5h.7M277 227h.7M277 226h.7M264.5 228h.7M275.5 227h.7M263 220.5h.7M288.5 221h.7M265.5 227h.7M263 231h.7M280.5 224h.7M275.5 224.5h.7M270.5 230.5h.7M285.5 220.5h.7M268 236.5h.7M266.5 226h.7M276.5 222h.7M266 241h.7M261 218.5h.7M282.5 235.5h.7M270 234h.7M263 228.5h.7M282 224h.7M267.5 226.5h.7M269 235h.7M264 225h.7M279.5 237h.7M279 229h.7M264 218.5h.7M269 223.5h.7M283 229h.7M286 228.5h.7M284.5 234.5h.7M293.5 224h.7M280 219.5h.7M289 223.5h.7M266.5 216h.7M276 221h.7M285 237.5h.7M272 228.5h.7M261.5 221h.7M287 226.5h.7M278.5 229.5h.7M287.5 221.5h.7M288 234h.7M270.5 228.5h.7M280 215.5h.7M260 217.5h.7M266.5 225.5h.7M260 227.5h.7M278 222.5h.7M269 231h.7M271.5 225h.7M281 231h.7M260.5 231.5h.7M269 239.5h.7M289.5 232.5h.7M275.5 232h.7M276.5 226h.7M280 224.5h.7M270 233.5h.7M268.5 233.5h.7M276 220h.7M262 223h.7M264.5 221h.7M287 221.5h.7M268 235h.7M263 240.5h.7M292 219.5h.7M260.5 238.5h.7M267.5 220h.7M295.5 234.5h.7M271 239.5h.7M265 229.5h.7M282.5 220.5h.7M290.5 225.5h.7M260 217h.7M277.5 221h.7M276.5 229.5h.7M264 230.5h.7M273 217.5h.7M268.5 226h.7M272.5 230h.7M270 227h.7M268 229.5h.7M267.5 217.5h.7M290.5 234h.7M272.5 223.5h.7M290.5 219.5h.7M272 230.5h.7M277.5 225h.7M275 223h.7M277 230.5h.7M282.5 233.5h.7M288.5 224h.7M267.5 225h.7M274 238h.7M288.5 228h.7M266 216h.7M299 243h.7M289 227h.7M267 229.5h.7M260.5 227.5h.7M271 222.5h.7M275.5 225h.7M295 223.5h.7M285 221.5h.7M274.5 239.5h.7M261.5 214h.7M266.5 217.5h.7M279 236.5h.7M281 227.5h.7M273.5 226.5h.7M274.5 224.5h.7M281.5 222h.7M260 226.5h.7M260 233h.7M287 223h.7M260.5 222h.7M267.5 240h.7M280.5 233.5h.7M272 232h.7M271.5 230h.7M268 234h.7M273 223.5h.7M280.5 238h.7M273.5 229h.7M264.5 222h.7M262.5 223h.7M274.5 225.5h.7M294 232h.7M266.5 238h.7M269.5 232h.7M275.5 224h.7M276 229h.7M262 231h.7M277 232h.7M264 227h.7M282.5 215h.7M265 220h.7M275.5 223h.7M285 227h.7M283.5 223.5h.7M260 237.5h.7M276.5 227.5h.7M279.5 236.5h.7M276.5 224.5h.7M271 240h.7M272 223.5h.7M270.5 230h.7M288 224h.7M282 229h.7M266 229.5h.7M275 228.5h.7M281 228h.7M280.5 231.5h.7M275 223.5h.7M275.5 226.5h.7M282 238.5h.7M266.5 214h.7M265.5 233.5h.7M264.5 231.5h.7M266.5 227.5h.7M280.5 236h.7M260 236h.7M274.5 218.5h.7M284 225h.7M266.5 230h.7M275 233h.7M271.5 227h.7M260 236.5h.7M277 222.5h.7M264.5 233.5h.7M268 228.5h.7M266.5 224h.7M282.5 212h.7M274 224h.7M283 217h.7M283.5 219h.7M265 237h.7M282.5 230.5h.7M265 230h.7M282 226h.7M278.5 217.5h.7M265.5 235.5h.7M288.5 225h.7M261 230h.7M286.5 232h.7M265.5 225.5h.7M287.5 210h.7M273 220.5h.7M281 229h.7M277.5 229.5h.7M270.5 234.5h.7M290 229.5h.7M267 228h.7M285 234h.7M283 238.5h.7M271 228.5h.7M261 228h.7M263 222.5h.7M280 225.5h.7M289.5 224h.7M264.5 229h.7M272 220h.7M283 221h.7M280.5 229.5h.7M267 248.5h.7M265.5 234h.7M266.5 234.5h.7M271 224.5h.7M273 227.5h.7M260.5 237.5h.7M262 230h.7M266 227h.7M275.5 222h.7M270 228.5h.7M277.5 222.5h.7M271 227.5h.7M271.5 233h.7M268.5 229.5h.7M267.5 222.5h.7M262 211.5h.7M278 220.5h.7M274 228.5h.7M274.5 225h.7M269.5 236.5h.7M276 233.5h.7M280.5 217h.7M269 222h.7M278.5 216.5h.7M281.5 219h.7M268.5 226.5h.7M260 232h.7M271.5 231.5h.7M285.5 232.5h.7M261 231h.7M269 216h.7M274.5 222h.7M277 218.5h.7M274.5 227.5h.7M282.5 228h.7M265 234.5h.7M278.5 236.5h.7M261 229h.7M277.5 231.5h.7M272.5 224h.7M285 230.5h.7M288.5 230h.7M287.5 230.5h.7M268.5 220.5h.7M268.5 219h.7M274.5 217.5h.7M266.5 239.5h.7M274.5 230h.7M286.5 237.5h.7M260 227h.7M267.5 233h.7M284 220.5h.7M270 225.5h.7M290.5 223h.7M294 236.5h.7M276.5 223h.7M278.5 218h.7M262 227h.7M269.5 219.5h.7M282.5 213.5h.7M277 220.5h.7M288 215.5h.7M275 238.5h.7M277.5 232h.7M262.5 229h.7M284.5 216h.7M276 218.5h.7M276.5 222.5h.7M267 229h.7M274.5 227h.7M260.5 218.5h.7M277 232.5h.7M267.5 231h.7M271 227h.7M291 236h.7M268 242h.7M261 221.5h.7M280.5 229h.7M284.5 212.5h.7M273.5 222.5h.7M260 234h.7M276.5 243.5h.7M276.5 231.5h.7M266 229h.7M299 229h.7M271 226.5h.7M266 222.5h.7M272.5 221.5h.7M280 237h.7M262 226h.7M293.5 235h.7M267.5 224.5h.7M269.5 222.5h.7M271.5 230.5h.7M267 224h.7M270.5 225.5h.7M284.5 226h.7M273.5 224h.7M261 220h.7M277.5 226h.7M281 213.5h.7M282.5 222.5h.7M269.5 242.5h.7M265.5 238.5h.7M274 225h.7M260.5 240.5h.7M271.5 231h.7M266 234h.7M275 221h.7M266.5 229h.7M274.5 221h.7M260 235h.7M262.5 230.5h.7M261 237.5h.7M260.5 224.5h.7M275 224.5h.7M262.5 225.5h.7M260 230.5h.7M282.5 232h.7M276.5 230.5h.7M268 233.5h.7M270 240h.7M269 228.5h.7M278 212h.7M280.5 224.5h.7M264 227.5h.7M261.5 231h.7M273.5 227h.7M261.5 236h.7M260.5 225h.7M270 217.5h.7M262.5 226.5h.7M262.5 235.5h.7M262.5 228.5h.7M268.5 230.5h.7M261 220.5h.7M283 237h.7M273 233h.7M285 224h.7M262 218h.7M270.5 221.5h.7M271.5 229h.7M272 225h.7M272.5 233h.7M274.5 232.5h.7M265 236.5h.7M269 230.5h.7M281 220.5h.7M282 232.5h.7M273 230.5h.7M272 226h.7M260 231.5h.7M280.5 233h.7M294 221h.7M270 224.5h.7M261 223h.7M279 216.5h.7M284.5 232h.7M290 228.5h.7M269 231.5h.7M268 238.5h.7M273.5 221h.7M284.5 227.5h.7M277 224.5h.7M266 225.5h.7M280.5 235h.7M269 208.5h.7M277 217.5h.7M260 235.5h.7M270.5 225h.7M269 227h.7M268 230h.7M273 220h.7M266 226.5h.7M278 214.5h.7M260 230h.7M297.5 229.5h.7M279 229.5h.7M260.5 219.5h.7M273 246h.7M271.5 233.5h.7M261.5 224.5h.7M262 232h.7M282.5 226.5h.7M298.5 222h.7M264.5 233h.7M289.5 226h.7M271.5 226h.7M290.5 236.5h.7M284 226h.7M289 231.5h.7M267.5 229.5h.7M264.5 224h.7M278.5 224h.7M274 226.5h.7M297 221.5h.7M265.5 235h.7M276 221.5h.7M303 227h.7M282 225.5h.7M271.5 236.5h.7M278.5 219.5h.7M260.5 221h.7M269.5 221.5h.7M265 234h.7M286.5 223.5h.7M278 221h.7M273.5 224.5h.7M260 237h.7M284.5 220.5h.7M260 224h.7M291 232h.7M268 212.5h.7M260.5 221.5h.7M268.5 234.5h.7M278 231.5h.7M260.5 226h.7M289 221h.7M275 215.5h.7M271 239h.7M266 232h.7M274 231.5h.7M275 228h.7M282.5 238.5h.7M271.5 229.5h.7M274 237h.7M296.5 224.5h.7M272 226.5h.7M279.5 223.5h.7M271.5 242h.7M264.5 212h.7M278 221.5h.7M283.5 241h.7M261.5 229.5h.7M264 221.5h.7M291 219h.7M284.5 225.5h.7M279.5 222.5h.7M282 234h.7M290.5 230.5h.7M274 221h.7M284.5 221h.7M284.5 214.5h.7M279 220.5h.7M270 238.5h.7M284.5 231.5h.7M261 231.5h.7M281.5 234h.7M267.5 226h.7M281.5 220h.7M261 228.5h.7M268 227h.7M291 221h.7M273.5 233h.7M286.5 215.5h.7M266 224h.7M297 233h.7M282 205h.7M263.5 227h.7M276.5 235h.7M265.5 218h.7M265.5 217.5h.7M273.5 234.5h.7M292 222h.7M291.5 235.5h.7M276 219.5h.7M271.5 214.5h.7M275 234.5h.7M269.5 239h.7M269 236.5h.7M268 207h.7M263.5 218.5h.7M262 235.5h.7M267 235h.7M282.5 229h.7M288 217.5h.7M260 220h.7M278.5 228.5h.7M286 231.5h.7M274.5 222.5h.7M284.5 224.5h.7M279.5 233.5h.7M291.5 228h.7M272 230h.7M261.5 236.5h.7M260.5 219h.7M268.5 232.5h.7M268.5 217.5h.7M284.5 234h.7M283 218h.7M293.5 240h.7M295 223h.7M260 246h.7M262 225.5h.7M282.5 218.5h.7M263 219h.7M273.5 228h.7M262 234h.7M278 233.5h.7M286 224h.7M264 228h.7M274 236h.7M281.5 227.5h.7M261.5 243h.7M261 239.5h.7M263.5 234.5h.7M264.5 235h.7M281 236.5h.7M273.5 223h.7M265.5 233h.7M273 234.5h.7M272.5 225h.7M261.5 219h.7M289.5 232h.7M266.5 221.5h.7M282.5 218h.7M283 234h.7M280 239.5h.7M286.5 228h.7M265 229h.7M280.5 237h.7M268 234.5h.7M260 238h.7M272 236.5h.7M270 214.5h.7M267.5 228.5h.7M291.5 222h.7M281 237h.7M275 217.5h.7M269.5 228h.7M261.5 215.5h.7M277 224h.7M270.5 231h.7M271.5 218.5h.7M266.5 218.5h.7M296 218.5h.7M278 217.5h.7M280 226.5h.7M260.5 224h.7M272 222h.7M279 224h.7M268 230.5h.7M279.5 212h.7M285 226.5h.7M263 233.5h.7M274.5 228.5h.7M281.5 235h.7M277 237h.7M289 235.5h.7M265 225.5h.7M265 233h.7M280.5 219.5h.7M261.5 233h.7M272 227.5h.7M281.5 225h.7M273.5 235h.7M262 225h.7M279 222h.7M273.5 232.5h.7M267 233h.7M274 221.5h.7M261.5 227.5h.7M260.5 244.5h.7M262 229.5h.7M277.5 228h.7M281.5 225.5h.7M263 224h.7M273 224h.7M294.5 236h.7M260.5 216.5h.7M275.5 222.5h.7M267.5 230h.7M284.5 233h.7M287.5 214.5h.7M262 239h.7M261.5 237h.7M271 225h.7M289 215.5h.7M269.5 227.5h.7M279 209h.7M279.5 224.5h.7M279.5 236h.7M282 226.5h.7M272 237h.7M288.5 229h.7M268 224h.7M275.5 228.5h.7M269 238.5h.7M263.5 221.5h.7M268.5 217h.7M274.5 228h.7M262 228.5h.7M290.5 229h.7M278 222h.7M260.5 234.5h.7M291 224h.7M272.5 234h.7M265.5 231.5h.7M276 229.5h.7M270 225h.7M289.5 233.5h.7M277.5 224.5h.7M276.5 224h.7M268 248h.7M267.5 224h.7M274.5 220.5h.7M261.5 241h.7M275.5 219.5h.7M272.5 222h.7M286 230h.7M291 217.5h.7M278 216.5h.7M268 226h.7M274.5 224h.7M268.5 224h.7M302.5 229.5h.7M261.5 235.5h.7M275 240.5h.7M274.5 229.5h.7M272 231h.7M275 225h.7M278 235.5h.7M261.5 218.5h.7M285 228.5h.7M271.5 216h.7M280.5 223h.7M268 219h.7M269 223h.7M261 240h.7M266 224.5h.7M286.5 236.5h.7M273.5 219h.7M275 220.5h.7M271.5 227.5h.7M280 231h.7M278.5 222h.7M282.5 231.5h.7M276.5 223.5h.7M278.5 238h.7M283.5 232h.7M283 211.5h.7M292 230h.7M272 217h.7M277 225.5h.7M269 229.5h.7M271 217.5h.7M281.5 223h.7M275 216h.7M269 224.5h.7M282.5 239.5h.7M278 228.5h.7M260 232.5h.7M262.5 224h.7M290 231.5h.7M267 211.5h.7M286 227.5h.7M267 216.5h.7M278 228h.7M264.5 218.5h.7M276.5 248.5h.7M290.5 218h.7M278.5 226.5h.7M260 222.5h.7M279.5 237.5h.7M296 229.5h.7M286 232.5h.7M272 239h.7M261 215h.7M278 231h.7M281.5 217.5h.7M274 228h.7M273 228h.7M260 225.5h.7M274.5 223.5h.7M275.5 232.5h.7M267.5 212.5h.7M280.5 225h.7M272 213.5h.7M260.5 226.5h.7M268 229h.7M268.5 211h.7M271 223h.7M286 232h.7M260.5 231h.7M262.5 232.5h.7M294 223.5h.7M277.5 235h.7M260.5 233h.7M264.5 224.5h.7M276 233h.7M268 221h.7M271 229h.7M271 230h.7M272.5 229.5h.7M277 223h.7M271 221.5h.7M271.5 215h.7M275 220h.7M271 231.5h.7M266 235h.7M275 222.5h.7M267.5 227h.7M276.5 238.5h.7M266 228h.7M286.5 230h.7M268.5 250.5h.7M267 225h.7M279.5 216.5h.7M283 233h.7M285 215h.7M268.5 231h.7M270 226h.7M284.5 231h.7M286 242.5h.7M261 235h.7M275.5 227.5h.7M277.5 247h.7M270.5 219h.7M267.5 221.5h.7M285 204h.7M276.5 240.5h.7M274 233.5h.7M273.5 230h.7M277.5 216h.7M265 226h.7M266 225h.7M269.5 230.5h.7M267 220h.7M292.5 216.5h.7M267 228.5h.7M274.5 220h.7M268.5 221h.7M278.5 233h.7M292.5 231h.7M275 234h.7M288.5 220.5h.7M272.5 230.5h.7M283 210h.7M269.5 233.5h.7M263.5 229h.7M274 216h.7M264.5 219.5h.7M276.5 244.5h.7M275 211.5h.7M267.5 237h.7M288.5 226.5h.7M279 237h.7M273 241h.7M274 220h.7M266.5 228h.7M273 231.5h.7M272.5 231h.7M269 208h.7M298 234h.7M282 223h.7M261.5 230h.7M280 227h.7M279.5 217h.7M273 222.5h.7M263 227h.7M281 230h.7M261.5 222h.7M270.5 220.5h.7M284.5 228h.7M272 238.5h.7M282 220.5h.7M276.5 226.5h.7M270.5 227h.7M268 236h.7M284.5 223.5h.7M278.5 225h.7M281 228.5h.7M280 226h.7M279 234.5h.7M277 231.5h.7M274 222.5h.7M283.5 238.5h.7M262 233.5h.7M266.5 219h.7M281.5 230.5h.7M268.5 232h.7M262 226.5h.7M292 227.5h.7M288 237.5h.7M287 219h.7M280.5 234h.7M271.5 244h.7M280.5 222h.7M262 221h.7M296.5 228.5h.7M280 238h.7M287 216h.7M268 233h.7M266 237h.7M281 215.5h.7M266.5 222.5h.7M267.5 220.5h.7M279.5 233h.7M263.5 217.5h.7M284 222.5h.7M277.5 220.5h.7M293 231h.7M284.5 230h.7M291 225.5h.7M294.5 216.5h.7M260.5 230h.7M285.5 220h.7M262 236.5h.7M290 233.5h.7M277 239.5h.7M271 229.5h.7M261.5 227h.7M277.5 229h.7M265 216.5h.7M286 230.5h.7M278.5 231.5h.7M275.5 218h.7M261 214h.7M288 230.5h.7M292 232h.7M282.5 233h.7M271 233.5h.7M288.5 229.5h.7M275 212h.7M263 245h.7M294.5 230.5h.7M279 223h.7M262 230.5h.7M274 229h.7M270.5 218h.7M281 239.5h.7M281 236h.7M278 219.5h.7M285 236h.7M281 232.5h.7M275 232h.7M268.5 238h.7M267.5 223h.7M271 228h.7M280 225h.7M275 242h.7M267.5 225.5h.7M283.5 228.5h.7M291 244h.7M275 231h.7M275 232.5h.7M285 235.5h.7M279.5 225h.7M269 217.5h.7M270.5 234h.7M268.5 218.5h.7M261 216.5h.7M276.5 241h.7M276.5 228h.7M268.5 239.5h.7M269.5 226.5h.7M270 216h.7M268.5 234h.7M285.5 222h.7M265.5 219h.7M282 227.5h.7M263 211.5h.7M286 239h.7M267 220.5h.7M294 219h.7M263.5 227.5h.7M274.5 232h.7M266.5 223.5h.7M269 234h.7M278 225.5h.7M271.5 225.5h.7M270 233h.7M270.5 229.5h.7M281.5 221.5h.7M293 223.5h.7M282 220h.7M272 237.5h.7M262 227.5h.7M277 225h.7M281.5 220.5h.7M268.5 220h.7M286 234h.7M282 218h.7M296.5 235h.7M284 221h.7M268 241.5h.7M270 227.5h.7M280.5 228.5h.7M266.5 237h.7M285 236.5h.7M282.5 228.5h.7M276 227h.7M266.5 240.5h.7M276.5 234h.7M268.5 216h.7M293.5 226.5h.7M261 232.5h.7M267 236h.7M266.5 226.5h.7M268 221.5h.7M286.5 228.5h.7M271 224h.7M274.5 214h.7M283.5 216.5h.7M265.5 218.5h.7M277.5 221.5h.7M260.5 225.5h.7M287.5 217.5h.7M268 225h.7M285 213.5h.7M271.5 212h.7M269 219.5h.7M272 225.5h.7M271 230.5h.7M264 240h.7M269.5 224h.7M266 223h.7M276.5 220.5h.7M266 233h.7M262.5 223.5h.7M290 230.5h.7M273 230h.7M262.5 221.5h.7M288 226h.7M262.5 219h.7M274 214.5h.7M263 214h.7M291 237h.7M271.5 228h.7M273.5 222h.7M262.5 233h.7M288.5 227h.7M264 226h.7M264.5 211.5h.7M266.5 222h.7M267 210h.7M264 230h.7M265 232.5h.7M283 218.5h.7M275 231.5h.7M279 219.5h.7M260.5 223h.7M281 235.5h.7M288.5 231.5h.7M262 221.5h.7M261 213h.7M280.5 230.5h.7M286.5 231h.7M260.5 229.5h.7M266 240h.7M281.5 224.5h.7M290 226.5h.7M282 224.5h.7M286.5 221h.7M265 238.5h.7M295.5 232.5h.7M260.5 220.5h.7M272.5 222.5h.7M289 238h.7M269 224h.7M274.5 226h.7M278.5 226h.7M261.5 233.5h.7M266.5 213h.7M269.5 214.5h.7M291 232.5h.7M271.5 241.5h.7M269 221.5h.7M271.5 220h.7M285.5 227.5h.7M281.5 232h.7M278.5 219h.7M262.5 222h.7M272.5 226h.7M278.5 231h.7M277.5 240h.7M266 236h.7M277 222h.7M292 232.5h.7M263.5 244h.7M268 224.5h.7M262.5 220.5h.7M279 222.5h.7M290 232.5h.7M293 222h.7M261.5 217h.7M261 221h.7M279.5 228.5h.7M263.5 224.5h.7M288.5 227.5h.7M289.5 219.5h.7M272.5 235h.7M274 218h.7M294 215.5h.7M283.5 239h.7M279.5 229.5h.7M282 217h.7M267 244h.7M279.5 231.5h.7M293 212h.7M276.5 225.5h.7M276 226h.7M288.5 212.5h.7M285 217.5h.7M276.5 235.5h.7M273 214.5h.7M264.5 232.5h.7M269.5 223.5h.7M273 232h.7M288 223.5h.7M272 232.5h.7M271 216.5h.7M264.5 226.5h.7M279 221h.7M285.5 228h.7M281 225h.7M272.5 239.5h.7M283.5 233h.7M297.5 231.5h.7M275.5 214.5h.7M260.5 216h.7M270.5 226h.7M261.5 220.5h.7M285 220h.7M268 223h.7M275 235h.7M272 222.5h.7M280 218h.7M274 246h.7M261 219h.7M263.5 215h.7M268 228h.7M287 238h.7M278.5 212h.7M279 225.5h.7M283.5 218h.7M287.5 218h.7M282 232h.7M261.5 234h.7M276.5 219h.7M280 216.5h.7M263 228h.7M276.5 221.5h.7M275 225.5h.7M266 232.5h.7M275.5 229.5h.7M296 233.5h.7M271 244.5h.7M271.5 222h.7M271 235h.7M269.5 234h.7M276.5 236h.7M278 211.5h.7M264 235h.7M291.5 232.5h.7M285 225h.7M270.5 238.5h.7M270 226.5h.7M262 224h.7M263 237h.7M276 225.5h.7M277.5 240.5h.7M274.5 238h.7M296 218h.7M261 234.5h.7M272 229h.7M269.5 228.5h.7M295 237h.7M291 223.5h.7M287.5 226h.7M263 241h.7M292 226h.7M265 223h.7M277 219.5h.7M265.5 229.5h.7M267.5 232h.7M270.5 223.5h.7M276.5 218h.7M272 215.5h.7M275.5 235h.7M288.5 211.5h.7M272.5 219h.7M266 220.5h.7M289 234.5h.7M265 223.5h.7M275 209.5h.7M270 222h.7M282.5 227h.7M260.5 228.5h.7M279 233h.7M274.5 212.5h.7M272.5 221h.7M278 227h.7M278.5 235h.7M273 207.5h.7M278 232h.7M275.5 223.5h.7M261.5 219.5h.7M264 236h.7M283.5 220.5h.7M274 225.5h.7M260 234.5h.7M287 232h.7M275.5 213h.7M273.5 230.5h.7M282 215h.7M262.5 226h.7M276 228h.7M276 215h.7M265.5 214h.7M277.5 227h.7M267 243.5h.7M294 215h.7M274 223h.7M291.5 223h.7M292 238.5h.7M277.5 216.5h.7M282.5 225.5h.7M265 217h.7M278 226.5h.7M278.5 227h.7M263.5 222.5h.7M268 210h.7M262.5 219.5h.7M280 237.5h.7M278 237h.7M272.5 220.5h.7M271 226h.7M279.5 229h.7M275.5 219h.7M279 218.5h.7M263 231.5h.7M260 244h.7M272 233h.7M270.5 212h.7M284 212h.7M263.5 219.5h.7M262.5 228h.7M286.5 234.5h.7M260 229h.7M280.5 227.5h.7M277.5 233.5h.7M277 238.5h.7M269.5 217.5h.7M271.5 237h.7M266 213.5h.7M268.5 235h.7M290 217h.7M266.5 225h.7M278.5 235.5h.7M282 239.5h.7M260.5 213h.7M260.5 235.5h.7M268.5 238.5h.7M283 228.5h.7M271.5 234.5h.7M270 229h.7M261 225h.7M270 231.5h.7M292 236.5h.7M261 219.5h.7M281 237.5h.7M293.5 229h.7M277.5 234h.7M277 235h.7M275 239h.7M278 237.5h.7M278.5 234h.7M270 230.5h.7M274.5 231h.7M271.5 221h.7M268.5 231.5h.7M265.5 213.5h.7M277 215.5h.7M293.5 225.5h.7M280 235.5h.7M260 215.5h.7M281 225.5h.7M269 220h.7M273.5 218.5h.7M283 231.5h.7M271.5 223.5h.7M298.5 235h.7M278.5 220h.7M285 226h.7M290 231h.7M278 220h.7M272.5 225.5h.7M273.5 217.5h.7M283.5 225h.7M269 214h.7M278.5 221.5h.7M260.5 232.5h.7M283 219.5h.7M261 233h.7M267.5 215h.7M283 228h.7M278 234.5h.7M267 221h.7M269.5 234.5h.7M263 216.5h.7M267 218.5h.7M273.5 219.5h.7M269.5 218.5h.7M292 220.5h.7M274 227.5h.7M283.5 232.5h.7M285 207h.7M263 223h.7M279 221.5h.7M264 222h.7M264 220h.7M270.5 227.5h.7M264.5 230h.7M263 239h.7M279.5 216h.7M299.5 225h.7M267 223h.7M274.5 236h.7M273 239.5h.7M270.5 241.5h.7M271.5 235.5h.7M276.5 233.5h.7M280 223h.7M277 233.5h.7M287.5 219h.7M281.5 216.5h.7M265.5 223h.7M284 233.5h.7M281.5 237.5h.7M282.5 237h.7M280 240h.7M274.5 219.5h.7M283.5 233.5h.7M263 235.5h.7M290 239.5h.7M266.5 215h.7M269 232h.7M300.5 230.5h.7M279.5 225.5h.7M265.5 225h.7M271.5 224h.7M260 231h.7M282.5 240.5h.7M261 209h.7M283.5 222h.7M286.5 240.5h.7M278.5 221h.7M282 229.5h.7M269.5 220h.7M271.5 222.5h.7M269 234.5h.7M270.5 215h.7M296.5 220.5h.7M272 220.5h.7M268.5 221.5h.7M272.5 227.5h.7M263 213.5h.7M304 229.5h.7M275 224h.7M266 221h.7M288 227.5h.7M283 224h.7M269.5 244h.7M276 218h.7M269 222.5h.7M277 218h.7M270.5 223h.7M274.5 231.5h.7M276.5 227h.7M289 213.5h.7M267.5 222h.7M282 236h.7M272.5 220h.7M273 235.5h.7M299 232.5h.7M285.5 227h.7M269.5 218h.7M277 240.5h.7M281 234.5h.7M272.5 233.5h.7M281 233.5h.7M260.5 230.5h.7M277.5 231h.7M262 238.5h.7M298.5 226h.7M287.5 237h.7M291.5 229h.7M269 217h.7M277.5 217.5h.7M284 248.5h.7M262 216.5h.7M283 220.5h.7M285.5 230h.7M285 222h.7M266 231.5h.7M292.5 232.5h.7M285 244h.7M293.5 228h.7M281.5 234.5h.7M285 228h.7M276 220.5h.7M267 219h.7M262 231.5h.7M274.5 217h.7M261 232h.7M274 229.5h.7M267.5 233.5h.7M261.5 223h.7M265.5 232h.7M271 225.5h.7M286 236.5h.7M275.5 242.5h.7M267.5 231.5h.7M286.5 222h.7M265 231h.7M274 219h.7M270.5 242.5h.7M272.5 228.5h.7M262 228h.7M260 238.5h.7M287 230.5h.7M284.5 228.5h.7M286.5 233.5h.7M269 240h.7M261 226.5h.7M260 233.5h.7M267 232.5h.7M263.5 223h.7M282.5 217h.7M263.5 228.5h.7M281.5 227h.7M271 232h.7M283 222h.7M296.5 218h.7M261.5 225h.7M267 234.5h.7M298 229h.7M271.5 218h.7M262 241.5h.7M269 226h.7M277.5 232.5h.7M274 204.5h.7M284.5 225h.7M274.5 218h.7M278.5 225.5h.7M284 230h.7M286.5 227h.7M287 218.5h.7M275 239.5h.7M294.5 228h.7M295.5 227h.7M297.5 222.5h.7M295 245h.7M276 217h.7M267 231.5h.7M264.5 236h.7M280.5 231h.7M275 217h.7M260 225h.7M270 216.5h.7M270 232.5h.7M278 230h.7M265.5 230h.7M277 219h.7M261.5 226h.7M280 217.5h.7M268.5 236h.7M264 215.5h.7M277.5 218.5h.7M264.5 227.5h.7M298.5 238.5h.7M277.5 241.5h.7M279 226.5h.7M292.5 222.5h.7M274 224.5h.7M260 229.5h.7M260 224.5h.7M276 226.5h.7M261 234h.7M264 219.5h.7M269.5 238.5h.7M280 218.5h.7M265 235h.7M261 227h.7M286.5 238h.7M273 235h.7M267.5 238.5h.7M261.5 239h.7M262.5 231.5h.7M263 220h.7M267.5 218h.7M263 226.5h.7M272 216h.7M273 224.5h.7M266.5 228.5h.7M269 232.5h.7M278 224h.7M293.5 226h.7M275.5 233h.7M285.5 236.5h.7M289.5 227.5h.7M284.5 237h.7M261 227.5h.7M272.5 241h.7M263.5 235h.7M283.5 226.5h.7M272 219.5h.7M284 236.5h.7M267 239h.7M273 226h.7M268 240.5h.7M262.5 240.5h.7M267 237.5h.7M263 227.5h.7M276.5 219.5h.7M286.5 215h.7M265.5 213h.7M271 223.5h.7M275.5 231.5h.7M285.5 213.5h.7M273.5 236.5h.7M280 232.5h.7M269.5 245h.7M279.5 231h.7M290 211h.7M267.5 239.5h.7M280.5 220.5h.7M276 231.5h.7M276 223h.7M285.5 232h.7M267 243h.7M282.5 220h.7M282 237h.7M268 213.5h.7M296 226h.7M285 231h.7M271.5 239h.7M264.5 217h.7M279.5 235.5h.7M275 219.5h.7M277.5 230h.7M273.5 241.5h.7M277 221h.7M291 230h.7M286 211h.7M261 212.5h.7M280 222.5h.7M264 224h.7M274.5 236.5h.7M283.5 220h.7M284.5 220h.7M265.5 241.5h.7M275.5 233.5h.7M289.5 229.5h.7M278.5 228h.7M284.5 217h.7M279.5 235h.7M274.5 233.5h.7M261 212h.7M266 237.5h.7M277 214.5h.7M272 235h.7M289.5 224.5h.7M275 227h.7M260 241.5h.7M276 231h.7M279.5 230.5h.7M265 215.5h.7M260.5 241h.7M306.5 227.5h.7M289.5 227h.7M279 223.5h.7M302.5 238h.7M331 231h.7M265.5 246h.7M296 240h.7M260.5 217h.7M262.5 248.5h.7M309 227.5h.7M315.5 242h.7M290.5 237h.7M290.5 244h.7M287.5 243.5h.7M277.5 238h.7M286.5 229h.7M292.5 241.5h.7M308.5 245h.7M292.5 209.5h.7M294.5 235h.7M296.5 241h.7M294.5 232h.7M290.5 243h.7M286 223.5h.7M281 231.5h.7M290 227.5h.7M290 225h.7M278 243h.7M300.5 229.5h.7M273.5 251.5h.7M270.5 244.5h.7M304 231.5h.7M299.5 233h.7M264.5 226h.7M268.5 215h.7M267 237h.7M279 218h.7M307.5 249h.7M276 236h.7M310 234h.7M283.5 231.5h.7M296.5 233h.7M293 214.5h.7M277 217h.7M289.5 235h.7M290.5 234.5h.7M285.5 219.5h.7M291 247h.7M287 241.5h.7M295 240.5h.7M288 233h.7M292 224h.7M267 250h.7M274 227h.7M270.5 246.5h.7M285 239.5h.7M261 240.5h.7M279.5 221h.7M285 248h.7M301.5 221.5h.7M289.5 234h.7M279 245.5h.7M280.5 235.5h.7M281 220h.7M281.5 238.5h.7M289.5 218h.7M306 245.5h.7M311 222h.7M285 232.5h.7M264 249.5h.7M280.5 239.5h.7M280.5 201h.7M316 233h.7M270.5 213.5h.7M314.5 243h.7M283.5 222.5h.7M292.5 230h.7M297.5 231h.7M272.5 243.5h.7M314.5 231.5h.7M260 243h.7M297.5 232h.7M260.5 233.5h.7M299.5 226.5h.7M303 233h.7M294.5 231h.7M285 231.5h.7M296 225.5h.7M304.5 244h.7M289 217h.7M275 258.5h.7M283 243.5h.7M295.5 218h.7M290.5 231.5h.7M273 236.5h.7M291.5 246.5h.7M313.5 238h.7M292.5 210h.7M303 224h.7M270.5 242h.7M304.5 231h.7M292 236h.7M306 237h.7M300 227.5h.7M296 250h.7M309.5 242h.7M298.5 225.5h.7M262 245.5h.7M280.5 236.5h.7M264 238.5h.7M289 249h.7M293 234.5h.7M260.5 245.5h.7M281.5 240h.7M297.5 238.5h.7M287 249h.7M300.5 231.5h.7M268 227.5h.7M274 237.5h.7M297.5 219h.7M264.5 230.5h.7M306 234.5h.7M307.5 222.5h.7M293 221h.7M276.5 239.5h.7M307 227.5h.7M285.5 240h.7M290.5 229.5h.7M294.5 246.5h.7M276 235h.7M298.5 236h.7M261 245.5h.7M287 231h.7M287.5 203h.7M283.5 241.5h.7M291 244.5h.7M264.5 240.5h.7M262.5 216h.7M313.5 241.5h.7M311 252h.7M277 240h.7M285 235h.7M273 242h.7M284 242h.7M300.5 242h.7M304 223.5h.7M272 246.5h.7M267 250.5h.7M297.5 245h.7M278.5 224.5h.7M281 235h.7M301 211h.7M273 221.5h.7M267.5 253.5h.7M293 243.5h.7M273 238.5h.7M297 238h.7M322.5 241h.7M289 214.5h.7M296.5 227.5h.7M261 210h.7M264.5 243h.7M261.5 220h.7M295.5 215h.7M286.5 225.5h.7M260.5 239h.7M287.5 236.5h.7M303.5 232h.7M288 223h.7M270 230h.7M280 243.5h.7M275 240h.7M298 234.5h.7M284 234h.7M267 213h.7M324 239.5h.7M287 245.5h.7M289.5 244.5h.7M295.5 226.5h.7M269.5 229h.7M317.5 231h.7M300 236h.7M288 232.5h.7M274 236.5h.7M289.5 241.5h.7M301.5 219.5h.7M297 237h.7M303.5 236h.7M278.5 236h.7M317 239.5h.7M288.5 243h.7M261.5 229h.7M285.5 238h.7M289 236h.7M299 249.5h.7M277.5 230.5h.7M288 215h.7M262 234.5h.7M267 235.5h.7M270 243.5h.7M310 226.5h.7M272.5 251h.7M286 245h.7M267.5 235.5h.7M273 237h.7M298 236.5h.7M309 226.5h.7M293 217.5h.7M278.5 238.5h.7M302.5 230h.7M260 243.5h.7M291.5 238h.7M292.5 235.5h.7M303.5 223h.7M300.5 222h.7M294 233.5h.7M282 244.5h.7M282 242.5h.7M271 242.5h.7M309.5 229h.7M270.5 222h.7M308.5 239h.7M268.5 237h.7M273.5 239.5h.7M325 227h.7M262.5 245.5h.7M270 250h.7M301 239.5h.7M276.5 217h.7M289 235h.7M314.5 236h.7M308.5 232.5h.7M285 238.5h.7M281.5 240.5h.7M300 232h.7M292 238h.7M280 251h.7M260.5 234h.7M296.5 232h.7M289.5 245h.7M264 224.5h.7M289 227.5h.7M301 232.5h.7M295 227.5h.7M282.5 238h.7M265 227.5h.7M261.5 253h.7M289 248h.7M280 230.5h.7M307.5 247.5h.7M291.5 226h.7M302.5 242h.7M301 237.5h.7M277.5 236h.7M280.5 221h.7M309.5 227h.7M318.5 224.5h.7M298.5 232h.7M326.5 238h.7M260 240h.7M296 232h.7M284 217.5h.7M283 230.5h.7M304 240.5h.7M295 240h.7M279 235h.7M266.5 238.5h.7M283.5 224.5h.7M283 225h.7M277 236h.7M289 240.5h.7M315 221.5h.7M267.5 244h.7M297.5 237h.7M302.5 216h.7M263.5 238.5h.7M274 233h.7M295.5 224h.7M294.5 238.5h.7M274.5 277h.7M264.5 261h.7M260.5 277h.7M272.5 262h.7M271 267.5h.7M279 274h.7M278 278h.7M267.5 266h.7M272 275.5h.7M271 255.5h.7M283.5 274.5h.7M267 258.5h.7M276.5 274h.7M294 280.5h.7M280 278h.7M284.5 272.5h.7M284.5 278.5h.7M271 266.5h.7M268 266h.7M265.5 280.5h.7M269 261.5h.7M279 278.5h.7M264 267.5h.7M277 270.5h.7M279 281h.7M260.5 271h.7M260.5 274.5h.7M276.5 271h.7M271.5 267.5h.7M276 271.5h.7M269 273.5h.7M272.5 272h.7M277.5 280.5h.7M261.5 274h.7M277 266h.7M282 274.5h.7M278 277.5h.7M265 273.5h.7M261 271.5h.7M271 274.5h.7M282.5 275h.7M265 276h.7M289 279.5h.7M280 276h.7M277.5 258.5h.7M289 271h.7M278 259h.7M282.5 273.5h.7M262 279.5h.7M268 267.5h.7M276 260.5h.7M282 277.5h.7M277.5 265h.7M283 270h.7M278 260.5h.7M269 278.5h.7M267 268.5h.7M269 278h.7M269 256h.7M273.5 274.5h.7M282.5 267.5h.7M269.5 280h.7M275.5 269.5h.7M278 260h.7M260.5 272.5h.7M269.5 280.5h.7M270 267h.7M274.5 270.5h.7M277.5 273h.7M265 280h.7M265.5 262.5h.7M266.5 266h.7M260.5 280.5h.7M278.5 266h.7M266.5 273.5h.7M264 280h.7M283 263h.7M269 272.5h.7M269 274.5h.7M272 271.5h.7M277 277h.7M265.5 259h.7M263 281h.7M271 264h.7M271 265.5h.7M267.5 278h.7M278 279h.7M271.5 265.5h.7M272 275h.7M282 274h.7M270.5 267.5h.7M261.5 268h.7M278.5 271.5h.7M274 276h.7M283 265.5h.7M260 270.5h.7M268 273h.7M276 273h.7M261.5 254.5h.7M265.5 251.5h.7M272.5 269.5h.7M271.5 279h.7M260.5 266.5h.7M280 267h.7M266 257h.7M268 260.5h.7M267.5 281h.7M260 263.5h.7M268 271h.7M270.5 266.5h.7M261.5 266.5h.7M264.5 263.5h.7M281.5 279h.7M284 277.5h.7M261 273h.7M268.5 272.5h.7M268 268h.7M271.5 276h.7M277.5 273.5h.7M268 279h.7M273 265.5h.7M269.5 261h.7M278.5 273.5h.7M276 281h.7M275.5 259h.7M276.5 267h.7M266 277h.7M286.5 265.5h.7M274.5 266h.7M274.5 281h.7M279 267h.7M275.5 272.5h.7M284 270.5h.7M274.5 279h.7M273.5 270.5h.7M277 272h.7M266.5 272h.7M265.5 276.5h.7M273.5 280.5h.7M269.5 271.5h.7M276.5 263h.7M275.5 273.5h.7M275.5 278h.7M285 280h.7M282.5 273h.7M267 263h.7M278.5 273h.7M262 280h.7M276.5 268h.7M266.5 281h.7M271.5 281h.7M277 281h.7M283.5 270h.7M296 266h.7M271.5 263.5h.7M267.5 264h.7M272.5 274h.7M280.5 280.5h.7M277 280h.7M268.5 272h.7M273 272.5h.7M266.5 277.5h.7M278 271.5h.7M274 268.5h.7M260 256h.7M282 262h.7M271.5 271h.7M266.5 262.5h.7M270 268h.7M269.5 275h.7M278 263h.7M283.5 279.5h.7M283 279h.7M285.5 262h.7M284.5 266h.7M265.5 268h.7M264.5 265h.7M265 269h.7M271 254h.7M278.5 280.5h.7M280 262.5h.7M277.5 277h.7M270.5 263.5h.7M275.5 267h.7M260.5 276.5h.7M270.5 270h.7M271.5 250h.7M279 273h.7M281.5 280.5h.7M270 268.5h.7M268.5 267.5h.7M270 274h.7M273 270.5h.7M272.5 268h.7M272 277.5h.7M286 273.5h.7M266.5 277h.7M276 268.5h.7M261.5 279.5h.7M287.5 274.5h.7M261.5 280.5h.7M266.5 265.5h.7M267.5 265.5h.7M274 266.5h.7M274 265h.7M279.5 273.5h.7M272.5 269h.7M278.5 270h.7M265 280.5h.7M274 265.5h.7M270.5 259.5h.7M267.5 280.5h.7M262 271.5h.7M269.5 274h.7M274.5 262.5h.7M270 280.5h.7M280.5 261.5h.7M290.5 257.5h.7M283.5 273h.7M269 275.5h.7M269 275h.7M279.5 276h.7M268.5 273h.7M271 272.5h.7M265.5 272.5h.7M266.5 267h.7M286 269.5h.7M276.5 280h.7M273 269.5h.7M268.5 275h.7M260 257.5h.7M268 280h.7M271.5 280h.7M274 268h.7M266 263.5h.7M273 275.5h.7M277.5 277.5h.7M281 267.5h.7M275 260h.7M274.5 262h.7M266 280h.7M286 264h.7M273 264h.7M281.5 274.5h.7M272 277h.7M284 273h.7M276.5 276h.7M279.5 267h.7M280.5 281h.7M267.5 259h.7M272.5 273.5h.7M268.5 265.5h.7M274 270.5h.7M276 266.5h.7M284.5 268h.7M276.5 277h.7M286.5 275h.7M278 264.5h.7M267 268h.7M276 274.5h.7M275.5 272h.7M268 279.5h.7M266.5 256.5h.7M288 275h.7M286 273h.7M281.5 276.5h.7M275 268h.7M265.5 273h.7M270.5 269.5h.7M274.5 255h.7M266 271.5h.7M263 266h.7M279 268.5h.7M286 262.5h.7M272 280h.7M271.5 270h.7M277 267h.7M269 267h.7M296.5 272h.7M274 277.5h.7M271 277h.7M276 261h.7M278.5 267h.7M271.5 269h.7M260 268h.7M280 261h.7M271.5 272h.7M270 267.5h.7M272.5 261.5h.7M276.5 272.5h.7M274 262.5h.7M280.5 270.5h.7M266.5 274.5h.7M267 269.5h.7M272 261.5h.7M271.5 271.5h.7M276.5 271.5h.7M260.5 256h.7M271 269h.7M279 272.5h.7M270.5 280h.7M282.5 279h.7M270 260h.7M268.5 270h.7M264.5 280h.7M265.5 278.5h.7M266 272h.7M280.5 260.5h.7M264.5 266h.7M270 278h.7M281.5 273h.7M276.5 275.5h.7M272 280.5h.7M269.5 270.5h.7M282.5 266h.7M277.5 261h.7M275.5 278.5h.7M266 280.5h.7M269 259.5h.7M273.5 269.5h.7M269 276.5h.7M273.5 268.5h.7M270.5 275h.7M272.5 279.5h.7M268 255h.7M263 269.5h.7M264.5 253.5h.7M269.5 279.5h.7M283 272h.7M272.5 270h.7M269.5 270h.7M275.5 270.5h.7M263 276h.7M266.5 268h.7M264 281h.7M282 280h.7M276.5 265.5h.7M273 260h.7M276.5 275h.7M281 270.5h.7M286 272.5h.7M281.5 265h.7M263 270h.7M273 277h.7M262.5 263.5h.7M277 259.5h.7M281.5 264h.7M270.5 268h.7M272 273.5h.7M293 269h.7M274.5 272h.7M267 277h.7M280 277.5h.7M284.5 270h.7M276 280h.7M279.5 269h.7M268.5 280h.7M269.5 263h.7M273 271.5h.7M266 265h.7M269 280h.7M272 271h.7M272.5 275h.7M279.5 268.5h.7M281 272.5h.7M273.5 261h.7M275 265.5h.7M268.5 271.5h.7M270 281h.7M275 267h.7M274.5 271h.7M273 263h.7M266 270.5h.7M274.5 273.5h.7M261 265.5h.7M275 269h.7M271.5 273h.7M265 269.5h.7M279 264h.7M273 266.5h.7M277 275h.7M279 255.5h.7M277.5 280h.7M265 276.5h.7M263 279h.7M268.5 273.5h.7M265 279.5h.7M282 280.5h.7M266.5 271h.7M276 272.5h.7M290.5 267h.7M283 272.5h.7M275 266h.7M263.5 279.5h.7M278 273h.7M273 268h.7M283 280.5h.7M265.5 265.5h.7M265 265.5h.7M270 264h.7M268.5 271h.7M274.5 263.5h.7M282 264h.7M276.5 280.5h.7M277 270h.7M278 257.5h.7M278 280.5h.7M281 264.5h.7M265.5 265h.7M279.5 270.5h.7M274 280h.7M284 262h.7M278.5 261h.7M275.5 261h.7M277 273.5h.7M285.5 281h.7M265.5 268.5h.7M289 276h.7M272.5 277.5h.7M271.5 274.5h.7M264 266.5h.7M279 271.5h.7M275.5 266h.7M288.5 265.5h.7M265 257.5h.7M284 266h.7M292 265h.7M275.5 271h.7M278.5 264h.7M273.5 256h.7M303 259.5h.7M285 264h.7M280 271h.7M283 261.5h.7M261 261.5h.7M282.5 260h.7M275.5 264h.7M289 263.5h.7M296.5 257h.7M289 267.5h.7M272 266h.7M274 261h.7M290.5 264h.7M282.5 265.5h.7M283 265h.7M267 259h.7M290.5 260.5h.7M290 255h.7M278 272h.7M295.5 257h.7M281.5 249.5h.7M273.5 258.5h.7M290.5 268.5h.7M271.5 268.5h.7M285.5 264h.7M298 268.5h.7M290.5 263.5h.7M264 255.5h.7M290 268h.7M280.5 262.5h.7M281 259.5h.7M263.5 268.5h.7M270.5 260.5h.7M260.5 264h.7M265.5 260h.7M272 273h.7M278 263.5h.7M297 280.5h.7M291 268h.7M287.5 255h.7M281 262.5h.7M264.5 258.5h.7M301 258h.7M286.5 263.5h.7M281.5 271h.7M305.5 265h.7M286 260.5h.7M270.5 261h.7M303.5 260h.7M268.5 261.5h.7M288 261.5h.7M313 270h.7M269.5 258.5h.7M276 260h.7M268 257.5h.7M281.5 262h.7M283 259.5h.7M287.5 261.5h.7M278.5 263.5h.7M294.5 263.5h.7M291 268.5h.7M275 266.5h.7M280 258.5h.7M261.5 271h.7M293 259.5h.7M294 257.5h.7M277.5 264.5h.7M284 269.5h.7M278.5 263h.7M299 266h.7M290 262h.7M292.5 256h.7M269.5 265.5h.7M287 258h.7M282.5 268h.7M287 268.5h.7M265 261.5h.7M279 264.5h.7M266 268h.7M281.5 260h.7M274 267.5h.7M269.5 264.5h.7M290 266h.7M274.5 266.5h.7M283.5 256.5h.7M285.5 263h.7M294 275.5h.7M271.5 266h.7M272.5 253.5h.7M280.5 271h.7M287 259h.7M271.5 270.5h.7M290.5 259.5h.7M283.5 267.5h.7M295 274h.7M279.5 260.5h.7M296 270.5h.7M280.5 258h.7M282 268h.7M260 265h.7M262 261h.7M287 258.5h.7M275.5 252.5h.7M291.5 269.5h.7M282 273.5h.7M283.5 275.5h.7M274.5 264.5h.7M268 255.5h.7M261.5 261.5h.7M270 273h.7M289 258h.7M290 264h.7M262 251h.7M305 259.5h.7M261.5 264.5h.7M290.5 259h.7M291.5 259.5h.7M276.5 258.5h.7M276.5 272h.7M282 264.5h.7M285.5 271h.7M276 259h.7M282.5 257.5h.7M277 256.5h.7M279 256.5h.7M289.5 252h.7M264 277h.7M262 260.5h.7M280.5 274.5h.7M261 254h.7M274.5 271.5h.7M268 265.5h.7M281 256.5h.7M279.5 256h.7M289.5 269h.7M260 261h.7M283 255h.7M287.5 263h.7M277 256h.7M294 254.5h.7M279 277h.7M272.5 257h.7M277 264h.7M269.5 267h.7M263 258h.7M278 274.5h.7M275.5 270h.7M282.5 263h.7M294.5 256h.7M276 256.5h.7M292 256h.7M306.5 268h.7M295 258.5h.7M289.5 258.5h.7M264 261.5h.7M287 264h.7M293.5 256.5h.7M288.5 273.5h.7M280.5 279h.7M281.5 263h.7M302.5 266h.7M279 270h.7M305 266h.7M292 258h.7M306.5 267h.7M300.5 269h.7M272.5 271h.7M296 280.5h.7M287.5 257.5h.7M293 271.5h.7M266.5 271.5h.7M269.5 273.5h.7M303.5 255.5h.7M285 268.5h.7M263.5 264h.7M307 269.5h.7M282.5 274.5h.7M288.5 271.5h.7M278.5 272.5h.7M262.5 273.5h.7M260.5 273h.7M308 268.5h.7M307 260h.7M267 271h.7M262.5 265.5h.7M263.5 265.5h.7M275.5 258h.7M288 262h.7M262 264h.7M290 280.5h.7M266 270h.7M322 228.5h.7M333 221.5h.7M325.5 233.5h.7M327 230h.7M328.5 218h.7M322.5 228h.7M326.5 225.5h.7M329 228h.7M323.5 224.5h.7M328.5 232.5h.7M333.5 223h.7M340.5 229.5h.7M327 226h.7M335 220h.7M326 229.5h.7M330 230h.7M333 219h.7M332.5 230h.7M329.5 222h.7M332.5 224.5h.7M325.5 226.5h.7M330 221.5h.7M329 229.5h.7M334.5 225h.7M320 233h.7M327.5 228.5h.7M335.5 229h.7M331.5 233h.7M329.5 221.5h.7M317 229.5h.7M326.5 223.5h.7M329 225h.7M324.5 227h.7M327 223h.7M332.5 225h.7M331.5 213h.7M323 233.5h.7M323 230.5h.7M321 236h.7M335 229h.7M325 229h.7M335 219h.7M322.5 228.5h.7M336.5 219h.7M331.5 232h.7M327 232.5h.7M331 225h.7M330.5 221h.7M331 222.5h.7M331.5 223.5h.7M333.5 226h.7M328.5 225.5h.7M327.5 227.5h.7M328 224.5h.7M323 232.5h.7M334 220.5h.7M333.5 227h.7M320.5 242h.7M335 218h.7M322 229h.7M326.5 224h.7M330 224h.7M334.5 223h.7M326.5 222h.7M328.5 222.5h.7M331.5 221h.7M333 228.5h.7M332 215h.7M324 232.5h.7M328.5 232h.7M333.5 216.5h.7M335 223h.7M323 225.5h.7M321.5 222.5h.7M330 224.5h.7M329 230.5h.7M325 224h.7M335.5 227.5h.7M333.5 225.5h.7M334 225.5h.7M330 225h.7M333.5 227.5h.7M331.5 227h.7M319.5 231h.7M330.5 217.5h.7M330.5 223.5h.7M326 226.5h.7M324 226.5h.7M329.5 224.5h.7M332 217h.7M333.5 219.5h.7M316.5 227h.7M326.5 232h.7M331 218.5h.7M336 225.5h.7M333.5 233h.7M331 216h.7M329.5 229h.7M331.5 222.5h.7M323.5 222.5h.7M333 227.5h.7M331 223.5h.7M327 222.5h.7M331 231.5h.7M333 222.5h.7M319.5 228.5h.7M331 229.5h.7M332 225h.7M334.5 227.5h.7M330 229.5h.7M322 236h.7M323.5 231h.7M324.5 233h.7M335.5 226h.7M325 231.5h.7M332 229.5h.7M327.5 231h.7M333 228h.7M325.5 227h.7M338 224.5h.7M321 231.5h.7M338 228h.7M323.5 229h.7M328 230.5h.7M323 228h.7M328.5 231.5h.7M331 228h.7M332 222.5h.7M332 228h.7M337.5 220h.7M337 222h.7M325 225.5h.7M331.5 222h.7M325.5 234h.7M323.5 223.5h.7M327.5 229.5h.7M331 230.5h.7M333 230.5h.7M321 224.5h.7M329.5 223.5h.7M325 227.5h.7M320.5 234h.7M328.5 224.5h.7M322.5 224.5h.7M327 230.5h.7M330.5 229h.7M323.5 226.5h.7M336 224.5h.7M332 226.5h.7M327 234.5h.7M328.5 230.5h.7M337 230h.7M337 213.5h.7M327 226.5h.7M339 225.5h.7M327 228.5h.7M331.5 226.5h.7M315 231.5h.7M324.5 226h.7M334 223h.7M325 234.5h.7M327 225h.7M336.5 217h.7M327 224.5h.7M324 228h.7M323.5 233.5h.7M333.5 225h.7M339 227h.7M329.5 228h.7M324.5 229.5h.7M327 225.5h.7M323.5 220h.7M333 219.5h.7M330.5 232h.7M339 225h.7M343 221.5h.7M333 223h.7M334 219h.7M327.5 224h.7M333 224h.7M337 227.5h.7M328 230h.7M318 240.5h.7M323.5 229.5h.7M340.5 220h.7M327.5 221.5h.7M329 222.5h.7M327.5 228h.7M334.5 216.5h.7M327.5 231.5h.7M327.5 225.5h.7M326 228h.7M322.5 233h.7M328 227.5h.7M333 227h.7M331.5 235h.7M328 228h.7M324.5 231.5h.7M330.5 228.5h.7M329 236.5h.7M325.5 230.5h.7M327.5 233.5h.7M331.5 227.5h.7M333.5 221.5h.7M331.5 225.5h.7M323 227h.7M333.5 224.5h.7M329.5 219.5h.7M334.5 229.5h.7M333 225h.7M324.5 228h.7M333 233h.7M328.5 229h.7M326 227h.7M335.5 234h.7M329 221h.7M324 231h.7M334.5 222.5h.7M339 224.5h.7M329 232h.7M335 225.5h.7M333.5 216h.7M324.5 231h.7M336.5 224.5h.7M333.5 219h.7M341.5 220h.7M333 223.5h.7M334.5 224.5h.7M330 226h.7M332 220h.7M329 231h.7M340 226h.7M333 229h.7M331.5 223h.7M326.5 228h.7M329 227.5h.7M333.5 222h.7M326 221h.7M324 225h.7M317 227.5h.7M318.5 228.5h.7M321 235.5h.7M332 221h.7M337 221h.7M331.5 217.5h.7M337.5 222h.7M332.5 221.5h.7M336 228h.7M329 229h.7M327.5 234.5h.7M332 219.5h.7M333 220.5h.7M332.5 222h.7M330.5 223h.7M328 231.5h.7M331.5 220.5h.7M331 225.5h.7M332 218.5h.7M330.5 221.5h.7M328.5 229.5h.7M325 222h.7M339 214.5h.7M325 222.5h.7M336 218h.7M332 223h.7M329 230h.7M339 223h.7M334 229.5h.7M338 214.5h.7M330.5 225h.7M327.5 223h.7M328.5 225h.7M323.5 221.5h.7M333.5 231.5h.7M334 225h.7M334.5 226h.7M332 226h.7M330.5 226h.7M325.5 221.5h.7M325.5 232.5h.7M328.5 223.5h.7M321.5 227.5h.7M330 214.5h.7M330 222h.7M328 224h.7M329 226.5h.7M329 232.5h.7M330 222.5h.7M329 219.5h.7M326 232.5h.7M328.5 226.5h.7M321.5 235h.7M326.5 226h.7M320 232h.7M324 226h.7M334 223.5h.7M322.5 229.5h.7M329 231.5h.7M328 220.5h.7M329 224h.7M331 224h.7M335.5 218h.7M323.5 227h.7M324.5 229h.7M320.5 227h.7M334 230.5h.7M334.5 219.5h.7M330.5 227h.7M330 232h.7M335.5 220.5h.7M330.5 228h.7M341 215h.7M338.5 226h.7M322.5 236.5h.7M315 236.5h.7M330 228h.7M338 217.5h.7M322 234h.7M325.5 240h.7M325 235.5h.7M326.5 219.5h.7M328 228.5h.7M326 232h.7M338 223.5h.7M331 221h.7M326 222.5h.7M332 231h.7M332.5 229h.7M333 222h.7M333.5 215h.7M336.5 226.5h.7M319.5 238.5h.7M331.5 220h.7M326 227.5h.7M329.5 226.5h.7M327 229.5h.7M326.5 226.5h.7M331 219h.7M336.5 218.5h.7M336.5 229h.7M338 232.5h.7M330.5 222.5h.7M331 226.5h.7M336 227.5h.7M332.5 227.5h.7M333.5 214.5h.7M333.5 220.5h.7M331 227.5h.7M336.5 225h.7M331.5 225h.7M330 219h.7M343 218h.7M325.5 223h.7M333 217.5h.7M337 232h.7M328.5 226h.7M339 213h.7M323.5 228h.7M326 224h.7M329 221.5h.7M328 233h.7M326.5 231.5h.7M328.5 222h.7M335.5 227h.7M337 222.5h.7M330 218.5h.7M333.5 229h.7M332.5 232h.7M327 216.5h.7M326.5 227.5h.7M337 224h.7M329.5 230h.7M334.5 224h.7M334.5 225.5h.7M326 223h.7M336.5 222.5h.7M341.5 225h.7M333 226.5h.7M327.5 236h.7M325 223.5h.7M322.5 224h.7M330.5 230.5h.7M324 235h.7M332 221.5h.7M332.5 222.5h.7M335.5 226.5h.7M336.5 220.5h.7M323 229h.7M337.5 223h.7M324 227h.7M325.5 233h.7M330.5 225.5h.7M323 216.5h.7M332 228.5h.7M339 227.5h.7M318.5 230.5h.7M330 229h.7M324 228.5h.7M337.5 222.5h.7M322 227.5h.7M328.5 227h.7M328.5 220.5h.7M336.5 224h.7M326.5 234h.7M324 221.5h.7M334.5 238h.7M328 234h.7M329 225.5h.7M331 220.5h.7M325.5 218.5h.7M326 225.5h.7M329.5 223h.7M322 230.5h.7M322 225h.7M336.5 221.5h.7M327 231.5h.7M330.5 218.5h.7M328.5 219.5h.7M333.5 218.5h.7M338.5 220h.7M337.5 225.5h.7M332.5 221h.7M326 231.5h.7M337.5 221.5h.7M333 230h.7M326.5 229h.7M334 224h.7M324 230h.7M334 216h.7M330 230.5h.7M329.5 215h.7M331 227h.7M334 218.5h.7M330 220h.7M335 230h.7M323.5 233h.7M324.5 221h.7M335.5 221h.7M328 223.5h.7M338 220h.7M327.5 224.5h.7M336 222h.7M339.5 218.5h.7M325.5 236h.7M323.5 234.5h.7M330.5 229.5h.7M339.5 227.5h.7M340 224.5h.7M323 231.5h.7M326.5 236h.7M335 219.5h.7M332.5 226.5h.7M331 232h.7M332 230.5h.7M332.5 218h.7M330.5 226.5h.7M327 220h.7M333.5 221h.7M337 219.5h.7M322.5 227h.7M336.5 227.5h.7M327 233h.7M340 226.5h.7M339.5 220h.7M332.5 228.5h.7M325 232.5h.7M333 225.5h.7M323.5 230h.7M324.5 235.5h.7M334.5 228h.7M330 223.5h.7M333 220h.7M335 232h.7M319 224h.7M322.5 229h.7M323 230h.7M331.5 228.5h.7M326.5 225h.7M327 222h.7M335.5 220h.7M339.5 227h.7M329.5 232.5h.7M339.5 217h.7M336.5 215.5h.7M337.5 227h.7M324.5 227.5h.7M332.5 224h.7M332 217.5h.7M338.5 216.5h.7M328 237.5h.7M340.5 226.5h.7M326 221.5h.7M327 227.5h.7M323 223h.7M328 233.5h.7M333.5 220h.7M329.5 230.5h.7M334 226h.7M322 231h.7M338.5 228.5h.7M336 214h.7M327 223.5h.7M328 226.5h.7M317 227h.7M321.5 225h.7M342 221h.7M321 230.5h.7M331 229h.7M321.5 230h.7M324 233.5h.7M331.5 226h.7M322 221.5h.7M331 233.5h.7M322 222h.7M328.5 217.5h.7M328.5 218.5h.7M319.5 230h.7M330.5 224.5h.7M318 232.5h.7M332.5 230.5h.7M325.5 237.5h.7M323 236.5h.7M331.5 228h.7M320.5 233h.7M329 227h.7M322 235.5h.7M324 229h.7M333.5 224h.7M334.5 221h.7M334.5 217.5h.7M333.5 234h.7M329 228.5h.7M332.5 219h.7M332.5 220.5h.7M324 227.5h.7M335.5 230h.7M329.5 228.5h.7M324 240h.7M329 234h.7M332 225.5h.7M325.5 231h.7M335 223.5h.7M336.5 217.5h.7M327.5 229h.7M324.5 238.5h.7M324.5 228.5h.7M316.5 239h.7M324.5 221.5h.7M324.5 224.5h.7M320.5 232.5h.7M336 217h.7M339 221h.7M330.5 224h.7M315.5 234.5h.7M332.5 218.5h.7M329 224.5h.7M329 218.5h.7M328 225h.7M331 223h.7M329 223h.7M328 226h.7M325.5 228h.7M323.5 220.5h.7M320.5 231h.7M335 224h.7M333.5 217.5h.7M320.5 230h.7M337.5 229h.7M334 219.5h.7M322 226.5h.7M329 220.5h.7M327.5 230.5h.7M319.5 229.5h.7M336.5 216h.7M323 234h.7M335 229.5h.7M330 227.5h.7M334 222.5h.7M334 224.5h.7M324.5 223.5h.7M332.5 223.5h.7M320 237h.7M327 228h.7M335.5 225h.7M327.5 233h.7M335.5 225.5h.7M333.5 236.5h.7M330.5 219h.7M334 231.5h.7M330.5 222h.7M328 231h.7M342.5 215h.7M335.5 224.5h.7M336 216.5h.7M334.5 230.5h.7M328.5 233h.7M321 228.5h.7M324.5 222h.7M334 221.5h.7M322.5 230h.7M337 224.5h.7M336 230.5h.7M332 227h.7M333.5 231h.7M327 224h.7M325.5 223.5h.7M323.5 219.5h.7M336.5 223.5h.7M334 228h.7M328 225.5h.7M334.5 221.5h.7M341 224h.7M337.5 224.5h.7M325.5 224h.7M339.5 214h.7M324.5 232h.7M327.5 226.5h.7M327 229h.7M329.5 218.5h.7M326 230h.7M320.5 237.5h.7M328 227h.7M329.5 227h.7M338 219.5h.7M328.5 221.5h.7M321.5 229h.7M337.5 216h.7M322.5 219h.7M323 226h.7M336 214.5h.7M346.5 218.5h.7M316.5 231h.7M334 230h.7M311 231.5h.7M328 218.5h.7M330.5 235.5h.7M345.5 225.5h.7M327.5 234h.7M320.5 232h.7M340.5 219h.7M315 220h.7M319.5 226.5h.7M339.5 231.5h.7M327.5 237h.7M318.5 232h.7M327.5 219.5h.7M321.5 238h.7M323 235h.7M324 224.5h.7M331.5 231.5h.7M336 232h.7M341.5 226.5h.7M320 224h.7M320 236h.7M323.5 236h.7M320.5 217h.7M324 221h.7M337.5 227.5h.7M314.5 230h.7M321 215h.7M332.5 216.5h.7M328.5 237h.7M338.5 221.5h.7M318.5 229.5h.7M323 223.5h.7M308.5 236h.7M317 222h.7M319 230h.7M322.5 232h.7M335.5 237h.7M325.5 219.5h.7M321 234.5h.7M325 223h.7M330.5 240h.7M317.5 240h.7M315.5 231h.7M315.5 232.5h.7M324.5 222.5h.7M342 222h.7M333.5 238.5h.7M335 236.5h.7M314.5 227.5h.7M337.5 214h.7M327.5 227h.7M319 234.5h.7M325.5 218h.7M347 224h.7M320 229h.7M329.5 238h.7M327.5 218.5h.7M311 237h.7M339.5 225h.7M334.5 236.5h.7M318.5 232.5h.7M323 245.5h.7M310.5 238h.7M320 219h.7M334 218h.7M346.5 217h.7M332 220.5h.7M331.5 230h.7M310.5 231h.7M316.5 233.5h.7M335 220.5h.7M322 231.5h.7M314 231h.7M319.5 225h.7M329.5 224h.7M320.5 226h.7M330.5 215.5h.7M319.5 240.5h.7M332.5 226h.7M333 232.5h.7M329 217h.7M319.5 234.5h.7M341 228h.7M327.5 221h.7M334.5 233.5h.7M322 227h.7M320 231.5h.7M347.5 211h.7M330 231.5h.7M314 232h.7M340.5 208h.7M316.5 220h.7M330 227h.7M319.5 230.5h.7M319 228h.7M315 225h.7M340.5 217.5h.7M323 229.5h.7M336.5 231.5h.7M323 215.5h.7M335.5 236h.7M313 226h.7M343 222h.7M331.5 221.5h.7M334 236.5h.7M334 226.5h.7M322 214.5h.7M318 221h.7M315.5 237.5h.7M325 231h.7M321.5 219.5h.7M318.5 242h.7M340.5 223h.7M320.5 228.5h.7M338 230h.7M338 202.5h.7M341.5 230.5h.7M317.5 232.5h.7M320.5 239h.7M338 226h.7M330 235h.7M345 220.5h.7M317 237.5h.7M330 234h.7M320 230.5h.7M317 231.5h.7M327 220.5h.7M323.5 241h.7M318 238h.7M322 221h.7M323 227.5h.7M321 241.5h.7M329 226h.7M324.5 237h.7M314 217.5h.7M321 219.5h.7M319.5 232.5h.7M344 224h.7M320.5 227.5h.7M339.5 222.5h.7M317 234h.7M325.5 220.5h.7M340 230h.7M309 225.5h.7M326 229h.7M313.5 233.5h.7M322 244.5h.7M314.5 240h.7M322.5 214h.7M349 219h.7M316 237.5h.7M330 241.5h.7M327.5 225h.7M342 225h.7M320.5 240.5h.7M327 215.5h.7M316 232.5h.7M327 217h.7M344 236.5h.7M316.5 251h.7M344.5 221.5h.7M352 245h.7M318.5 245.5h.7M341.5 224.5h.7M318 237.5h.7M344.5 241h.7M352 248h.7M313 220h.7M336 251h.7M309.5 222h.7M310 207h.7M311.5 249.5h.7M353 248h.7M316 213.5h.7M314.5 239.5h.7M359.5 232h.7M344 213h.7M352.5 211.5h.7M316.5 216h.7M313 239.5h.7M352 234.5h.7M345 209h.7M349.5 219h.7M333 236h.7M338.5 225h.7M359 249h.7M348.5 248.5h.7M326.5 206.5h.7M320.5 229.5h.7M348 244h.7M326.5 246h.7M280.5 193.5h.7M305 207.5h.7M270.5 205h.7M271.5 201h.7M306 202h.7M299 198h.7M270 199h.7M281.5 205.5h.7" stroke="#000" stroke-width="0.7" fill="none"/>
<text x="260.6" y="176" font-size="3.8" font-weight="bold" text-anchor="start" stroke="#000" stroke-width="0.12">D1</text>
<text x="261.0" y="181.6" font-size="3.9" font-weight="bold" text-anchor="start" stroke="#000" stroke-width="0.12">77.0%</text>
<text x="310.3" y="176" font-size="3.8" font-weight="bold" text-anchor="start" stroke="#000" stroke-width="0.12">D2</text>
<text x="310.7" y="181.6" font-size="3.9" font-weight="bold" text-anchor="start" stroke="#000" stroke-width="0.12">12.8%</text>
<text x="260.6" y="258.3" font-size="3.8" font-weight="bold" text-anchor="start" stroke="#000" stroke-width="0.12">D3</text>
<text x="261.0" y="263.90000000000003" font-size="3.9" font-weight="bold" text-anchor="start" stroke="#000" stroke-width="0.12">10.0%</text>
<text x="310.3" y="258.3" font-size="3.8" font-weight="bold" text-anchor="start" stroke="#000" stroke-width="0.12">D4</text>
<text x="310.7" y="263.90000000000003" font-size="3.9" font-weight="bold" text-anchor="start" stroke="#000" stroke-width="0.12">0.2%</text>
<text x="339.9" y="187.9" font-size="13.6" font-weight="bold" text-anchor="start" >12.8%</text>
<polyline points="55.3,518.0 91.9,521.3 128.3,518.9 164.6,519.8" stroke="#000" stroke-width="2.4" fill="none"/>
<circle cx="55.3" cy="518.0" r="4.2" fill="none" stroke="#000" stroke-width="1.8"/>
<circle cx="91.9" cy="521.3" r="4.2" fill="none" stroke="#000" stroke-width="1.8"/>
<circle cx="128.3" cy="518.9" r="4.2" fill="none" stroke="#000" stroke-width="1.8"/>
<circle cx="164.6" cy="519.8" r="4.2" fill="none" stroke="#000" stroke-width="1.8"/>
<polyline points="55.3,391.7 91.9,395.3 128.3,393.0 164.6,491.9" stroke="#000" stroke-width="2.4" fill="none"/>
<path d="M91.9 390.2V400.3M87.5 390.2h8.8M87.5 400.3h8.8" stroke="#000" stroke-width="1.3" fill="none"/>
<rect x="50.9" y="387.3" width="8.8" height="8.8" fill="#000"/>
<rect x="87.5" y="390.9" width="8.8" height="8.8" fill="#000"/>
<rect x="123.9" y="388.6" width="8.8" height="8.8" fill="#000"/>
<rect x="160.2" y="487.5" width="8.8" height="8.8" fill="#000"/>
<path d="M37.4 376.0V522.6999999999999" stroke="#000" stroke-width="2.7" fill="none"/>
<path d="M33.0 521.4H182.6" stroke="#000" stroke-width="2.6" fill="none"/>
<path d="M33.0 499.5H37.4M33.0 477.1H37.4M33.0 454.6H37.4M33.0 432.1H37.4M33.0 409.6H37.4M33.0 387.2H37.4" stroke="#000" stroke-width="2.5" fill="none"/>
<path d="M55.3 521.4V526.0M91.9 521.4V526.0M128.3 521.4V526.0M164.6 521.4V526.0" stroke="#000" stroke-width="2.2" fill="none"/>
<text x="31.5" y="526.3" font-size="12" font-weight="normal" text-anchor="end" stroke="#000" stroke-width="0.45">0</text>
<text x="31.5" y="503.8" font-size="12" font-weight="normal" text-anchor="end" stroke="#000" stroke-width="0.45">10</text>
<text x="31.5" y="481.4" font-size="12" font-weight="normal" text-anchor="end" stroke="#000" stroke-width="0.45">20</text>
<text x="31.5" y="458.9" font-size="12" font-weight="normal" text-anchor="end" stroke="#000" stroke-width="0.45">30</text>
<text x="31.5" y="436.4" font-size="12" font-weight="normal" text-anchor="end" stroke="#000" stroke-width="0.45">40</text>
<text x="31.5" y="413.9" font-size="12" font-weight="normal" text-anchor="end" stroke="#000" stroke-width="0.45">50</text>
<text x="31.5" y="391.5" font-size="12" font-weight="normal" text-anchor="end" stroke="#000" stroke-width="0.45">60</text>
<text x="55.5" y="537.1" font-size="11" font-weight="normal" text-anchor="middle" stroke="#000" stroke-width="0.5" letter-spacing="0.45">50:1</text>
<text x="92.10000000000001" y="537.1" font-size="11" font-weight="normal" text-anchor="middle" stroke="#000" stroke-width="0.5" letter-spacing="0.45">25:1</text>
<text x="128.5" y="537.1" font-size="11" font-weight="normal" text-anchor="middle" stroke="#000" stroke-width="0.5" letter-spacing="0.45">10:1</text>
<text x="164.79999999999998" y="537.1" font-size="11" font-weight="normal" text-anchor="middle" stroke="#000" stroke-width="0.5" letter-spacing="0.45">1:1</text>
<text x="0.0" y="355.6" font-size="17" font-weight="bold" text-anchor="start" >B</text>
<path d="M63.8 352.5H85.5M63.8 369.5H85.5" stroke="#000" stroke-width="2.3" fill="none"/>
<rect x="70.7" y="348.4" width="8.4" height="8.3" fill="#000"/>
<ellipse cx="75.2" cy="369.4" rx="4.5" ry="3.5" fill="none" stroke="#000" stroke-width="1.8"/>
<text x="88.4" y="356.2" font-size="11" font-weight="normal" text-anchor="start" stroke="#000" stroke-width="0.5" letter-spacing="0.72">WT1.37</text>
<text x="88.4" y="373.4" font-size="11" font-weight="normal" text-anchor="start" stroke="#000" stroke-width="0.5" letter-spacing="0.72">WT1.235</text>
<polyline points="224.0,474.8 260.4,486.3 296.9,508.1 333.2,520.4" stroke="#000" stroke-width="2.4" fill="none"/>
<circle cx="224.0" cy="474.8" r="4.2" fill="none" stroke="#000" stroke-width="1.8"/>
<circle cx="260.4" cy="486.3" r="4.2" fill="none" stroke="#000" stroke-width="1.8"/>
<circle cx="296.9" cy="508.1" r="4.2" fill="none" stroke="#000" stroke-width="1.8"/>
<circle cx="333.2" cy="520.4" r="4.2" fill="none" stroke="#000" stroke-width="1.8"/>
<polyline points="224.0,394.1 260.4,418.9 296.9,462.0 333.2,515.7" stroke="#000" stroke-width="2.4" fill="none"/>
<rect x="219.6" y="389.7" width="8.8" height="8.8" fill="#000"/>
<rect x="255.99999999999997" y="414.5" width="8.8" height="8.8" fill="#000"/>
<rect x="292.5" y="457.6" width="8.8" height="8.8" fill="#000"/>
<rect x="328.8" y="511.3" width="8.8" height="8.8" fill="#000"/>
<path d="M205.6 376.0V522.6999999999999" stroke="#000" stroke-width="2.7" fill="none"/>
<path d="M201.2 521.4H351.4" stroke="#000" stroke-width="2.6" fill="none"/>
<path d="M201.2 499.5H205.6M201.2 477.1H205.6M201.2 454.6H205.6M201.2 432.1H205.6M201.2 409.6H205.6M201.2 387.2H205.6" stroke="#000" stroke-width="2.5" fill="none"/>
<path d="M224.0 521.4V526.0M260.4 521.4V526.0M296.9 521.4V526.0M333.2 521.4V526.0" stroke="#000" stroke-width="2.2" fill="none"/>
<text x="224.2" y="537.1" font-size="11" font-weight="normal" text-anchor="middle" stroke="#000" stroke-width="0.5" letter-spacing="0.45">50:1</text>
<text x="260.59999999999997" y="537.1" font-size="11" font-weight="normal" text-anchor="middle" stroke="#000" stroke-width="0.5" letter-spacing="0.45">25:1</text>
<text x="297.09999999999997" y="537.1" font-size="11" font-weight="normal" text-anchor="middle" stroke="#000" stroke-width="0.5" letter-spacing="0.45">10:1</text>
<text x="333.4" y="537.1" font-size="11" font-weight="normal" text-anchor="middle" stroke="#000" stroke-width="0.5" letter-spacing="0.45">1:1</text>
<text x="192.6" y="355.6" font-size="17" font-weight="bold" text-anchor="start" >C</text>
<path d="M232.5 352.5H254.2M232.5 369.5H254.2" stroke="#000" stroke-width="2.3" fill="none"/>
<rect x="239.4" y="348.4" width="8.4" height="8.3" fill="#000"/>
<ellipse cx="243.9" cy="369.4" rx="4.5" ry="3.5" fill="none" stroke="#000" stroke-width="1.8"/>
<text x="257.1" y="356.2" font-size="11" font-weight="normal" text-anchor="start" stroke="#000" stroke-width="0.5" letter-spacing="0.72">WT1.126</text>
<text x="257.1" y="373.4" font-size="11" font-weight="normal" text-anchor="start" stroke="#000" stroke-width="0.5" letter-spacing="0.72">WT1.235</text>
<polyline points="392.6,478.6 428.9,491.0 465.4,501.6 501.7,521.3" stroke="#000" stroke-width="2.4" fill="none"/>
<path d="M428.9 486.9V495.0M424.2 486.9h9.4M424.2 495.0h9.4" stroke="#000" stroke-width="1.3" fill="none"/>
<circle cx="392.6" cy="478.6" r="4.2" fill="none" stroke="#000" stroke-width="1.8"/>
<circle cx="428.9" cy="491.0" r="4.2" fill="none" stroke="#000" stroke-width="1.8"/>
<circle cx="465.4" cy="501.6" r="4.2" fill="none" stroke="#000" stroke-width="1.8"/>
<circle cx="501.7" cy="521.3" r="4.2" fill="none" stroke="#000" stroke-width="1.8"/>
<polyline points="392.6,411.9 428.9,419.8 465.4,427.4 501.7,481.6" stroke="#000" stroke-width="2.4" fill="none"/>
<path d="M428.9 412.6V427.0M424.2 412.6h9.4M424.2 427.0h9.4" stroke="#000" stroke-width="1.3" fill="none"/>
<rect x="388.20000000000005" y="407.5" width="8.8" height="8.8" fill="#000"/>
<rect x="424.5" y="415.4" width="8.8" height="8.8" fill="#000"/>
<rect x="461.0" y="423.0" width="8.8" height="8.8" fill="#000"/>
<rect x="497.3" y="477.2" width="8.8" height="8.8" fill="#000"/>
<path d="M374.4 376.0V522.6999999999999" stroke="#000" stroke-width="2.7" fill="none"/>
<path d="M370.0 521.4H520" stroke="#000" stroke-width="2.6" fill="none"/>
<path d="M370.0 499.5H374.4M370.0 477.1H374.4M370.0 454.6H374.4M370.0 432.1H374.4M370.0 409.6H374.4M370.0 387.2H374.4" stroke="#000" stroke-width="2.5" fill="none"/>
<path d="M392.6 521.4V526.0M428.9 521.4V526.0M465.4 521.4V526.0M501.7 521.4V526.0" stroke="#000" stroke-width="2.2" fill="none"/>
<text x="392.8" y="537.1" font-size="11" font-weight="normal" text-anchor="middle" stroke="#000" stroke-width="0.5" letter-spacing="0.45">50:1</text>
<text x="429.09999999999997" y="537.1" font-size="11" font-weight="normal" text-anchor="middle" stroke="#000" stroke-width="0.5" letter-spacing="0.45">25:1</text>
<text x="465.59999999999997" y="537.1" font-size="11" font-weight="normal" text-anchor="middle" stroke="#000" stroke-width="0.5" letter-spacing="0.45">10:1</text>
<text x="501.9" y="537.1" font-size="11" font-weight="normal" text-anchor="middle" stroke="#000" stroke-width="0.5" letter-spacing="0.45">1:1</text>
<text x="365.4" y="355.6" font-size="17" font-weight="bold" text-anchor="start" >D</text>
<path d="M400.5 352.5H422.2M400.5 369.5H422.2" stroke="#000" stroke-width="2.3" fill="none"/>
<rect x="407.4" y="348.4" width="8.4" height="8.3" fill="#000"/>
<ellipse cx="411.9" cy="369.4" rx="4.5" ry="3.5" fill="none" stroke="#000" stroke-width="1.8"/>
<text x="425.1" y="356.2" font-size="11" font-weight="normal" text-anchor="start" stroke="#000" stroke-width="0.5" letter-spacing="0.72">WT1.235</text>
<text x="425.1" y="373.4" font-size="11" font-weight="normal" text-anchor="start" stroke="#000" stroke-width="0.5" letter-spacing="0.72">WT1.126</text>
<text x="0" y="0" font-size="12" font-weight="normal" text-anchor="middle" transform="translate(11,447.6) rotate(-90)" letter-spacing="0.45" stroke="#000" stroke-width="0.4">Specific lysis (<tspan dx="0.9">%</tspan><tspan dx="0.9">)</tspan></text>
<text x="279.5" y="563.7" font-size="13.5" font-weight="bold" text-anchor="middle" >E/T Ratio</text>
</svg></body></html>
